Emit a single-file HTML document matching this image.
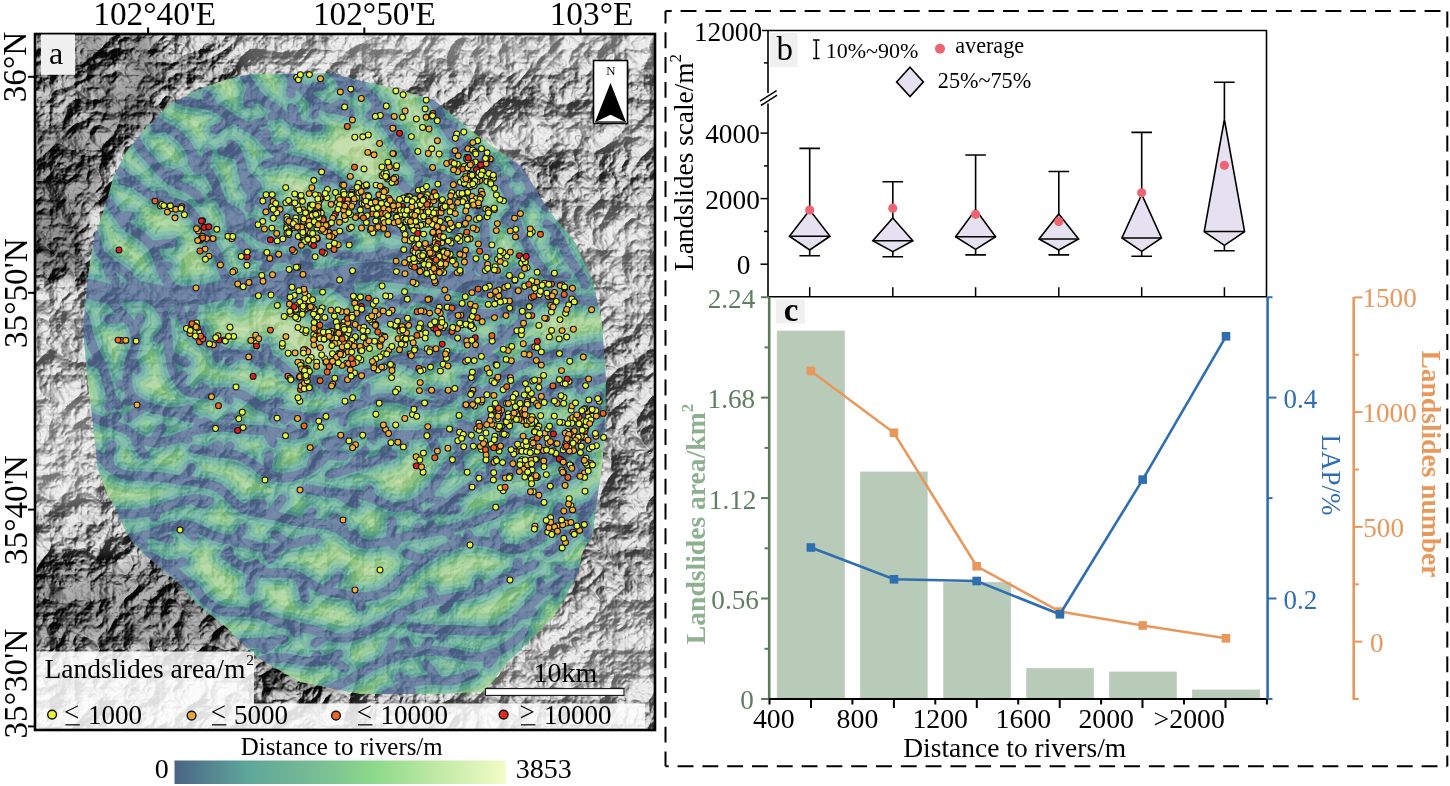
<!DOCTYPE html>
<html><head><meta charset="utf-8"><style>
html,body{margin:0;padding:0;background:#fff;width:1450px;height:786px;overflow:hidden;}
svg{display:block;}
text{font-family:"Liberation Serif", "Times New Roman", serif;}
</style></head><body>
<svg width="1450" height="786" viewBox="0 0 1450 786">
<rect width="1450" height="786" fill="#fff"/>
<defs>
<clipPath id="mclip"><rect x="35" y="34" width="620" height="696"/></clipPath>
<clipPath id="pclip"><polygon points="107,200 113,178 126,152 143,131 170,104 200,89 225,80 250,74 334.5,73 345,77 389,87 434,100 478,136 522,167 549,211 575,242 593,282 602,322 606,380 605,433 601.6,469.6 596.8,502 592.7,534.8 582.6,551 578.5,571.4 566.3,596 554,616 537.8,632.5 521.5,649 505,665 493,681.4 482,692 440,694 360,694 300,682 255.7,656.7 244,645 226.4,627.4 211.8,615.7 197,604 182.5,586.4 165,571.8 147.4,557 132.7,542.5 124,528 115,507 107.8,495.6 97.6,469 94.6,440 92,417 86.6,372.7 83,328 87.5,279 94,239"/></clipPath>
<filter id="hs" x="0" y="0" width="100%" height="100%" color-interpolation-filters="sRGB"><feTurbulence type="turbulence" baseFrequency="0.02" numOctaves="5" seed="8" result="n"/><feColorMatrix in="n" type="matrix" values="0 0 0 0 0  0 0 0 0 0  0 0 0 0 0  -1 0 0 0 1" result="a"/><feDiffuseLighting in="a" surfaceScale="16" diffuseConstant="1" lighting-color="#fff" result="l"><feDistantLight azimuth="225" elevation="45"/></feDiffuseLighting><feComponentTransfer in="l"><feFuncR type="linear" slope="0.88" intercept="0.03"/><feFuncG type="linear" slope="0.88" intercept="0.03"/><feFuncB type="linear" slope="0.88" intercept="0.03"/></feComponentTransfer></filter>
<filter id="bl" x="-10%" y="-10%" width="120%" height="120%"><feGaussianBlur stdDeviation="10"/></filter>
</defs>
<g clip-path="url(#mclip)">
<g filter="url(#bl)">
<rect x="0" y="0" width="700" height="786" fill="rgb(150,150,150)"/>
<rect x="0" y="0" width="75" height="80" fill="rgb(120,120,120)"/>
<rect x="75" y="0" width="35" height="80" fill="rgb(90,90,90)"/>
<rect x="110" y="0" width="15" height="80" fill="rgb(130,130,130)"/>
<rect x="125" y="0" width="35" height="110" fill="rgb(85,85,85)"/>
<rect x="160" y="0" width="75" height="50" fill="rgb(150,150,150)"/>
<rect x="160" y="50" width="75" height="40" fill="rgb(115,115,115)"/>
<rect x="235" y="0" width="110" height="75" fill="rgb(172,172,172)"/>
<rect x="345" y="0" width="195" height="70" fill="rgb(185,185,185)"/>
<rect x="430" y="70" width="170" height="50" fill="rgb(150,150,150)"/>
<rect x="540" y="0" width="160" height="70" fill="rgb(180,180,180)"/>
<rect x="480" y="120" width="220" height="40" fill="rgb(175,175,175)"/>
<rect x="520" y="150" width="180" height="50" fill="rgb(140,140,140)"/>
<rect x="0" y="80" width="100" height="50" fill="rgb(115,115,115)"/>
<rect x="100" y="80" width="60" height="60" fill="rgb(90,90,90)"/>
<rect x="0" y="130" width="110" height="75" fill="rgb(95,95,95)"/>
<rect x="0" y="200" width="90" height="85" fill="rgb(85,85,85)"/>
<rect x="0" y="285" width="90" height="110" fill="rgb(165,165,165)"/>
<rect x="0" y="395" width="95" height="110" fill="rgb(185,185,185)"/>
<rect x="0" y="505" width="130" height="55" fill="rgb(150,150,150)"/>
<rect x="0" y="560" width="260" height="95" fill="rgb(100,100,100)"/>
<rect x="130" y="520" width="60" height="40" fill="rgb(120,120,120)"/>
<rect x="255" y="650" width="100" height="50" fill="rgb(100,100,100)"/>
<rect x="560" y="200" width="140" height="130" fill="rgb(170,170,170)"/>
<rect x="600" y="330" width="100" height="170" fill="rgb(150,150,150)"/>
<rect x="590" y="500" width="110" height="100" fill="rgb(155,155,155)"/>
<rect x="460" y="600" width="240" height="100" fill="rgb(175,175,175)"/>
</g>
<rect x="35" y="34" width="620" height="696" filter="url(#hs)" style="mix-blend-mode:overlay"/>
<g clip-path="url(#pclip)">
<rect x="60" y="60" width="580" height="660" fill="#bcd8a0"/>
<g fill="none" stroke-linecap="round" stroke-linejoin="round">
<path d="M85,288 110,294 140,291 170,297 200,295 230,289 260,286 290,279 320,279 350,274 380,271 410,275 440,279 470,284 500,292 530,299" stroke="#a8d29a" stroke-width="62"/>
<path d="M106,200 110,204 114,209 117,214 121,219 124,224 129,228 134,231 139,234 144,238 148,242 152,246 155,252 157,257 159,263 161,269 163,274 166,279 169,284 172,290 175,295 177,301 179,306 181,312 183,318 185,323 189,328 193,332 197,336 202,340 207,343 212,346 218,349 223,351 229,353 235,354 241,355 247,355 253,355 259,356 265,356 270,358 275,361 280,365 285,369 289,373 295,376 300,378 306,379 312,380 318,380 324,380 330,380 336,380 342,379 348,378 354,377 360,376 365,374 371,372 376,369 382,367 387,364 393,361 398,359 404,357 409,355 415,354 421,353 427,353 433,353 439,355 445,356 451,357 457,358 463,358 469,357 474,356 480,353 485,350 490,347 495,344 500,341 505,337 509,333 514,329 518,325 522,320 525,315 528,310 531,305 535,300 541,298 547,299 553,299 558,299 564,299 570,300 576,300 582,300 588,301 594,301 598,301M117,169 122,173 126,177 131,180 136,184 140,188 145,191 150,195 156,197 161,199 167,201 173,202 179,204 184,206 189,210 193,214 196,219 200,224 203,229 206,235 209,240 212,245 215,250 218,255 220,261 221,267 223,272 226,278 231,282 236,284 242,285 248,286 254,286 260,287 266,288 272,290 277,292 282,295 288,298 293,301 298,304 304,306 309,309 314,312 319,316 324,319 328,323 334,326 339,327 345,328 351,327 357,326 363,325 369,323 375,321 380,320 386,319 392,318 398,318 404,319 410,321 416,323 421,324 427,326 433,328 439,329 444,331 450,333 455,336 461,338 466,341M95,235 96,241 98,247 100,253 104,257 108,261 113,265 119,268 123,271 128,275 132,280 136,284 140,289 144,293 149,297 153,301 158,305 161,310 164,315 166,321 167,327 167,333 168,339 168,345 169,351 170,357 171,362 172,368 174,374 177,379 180,384 184,389 189,392 195,393 201,394 207,394 213,393 219,392 225,392 231,392 237,393 243,395 248,398 253,401 258,405 263,407 269,410 275,411 280,413 286,414 292,415 298,416 304,417 310,418 316,418 322,417 328,416 334,414 339,412 345,410 350,407 356,405 362,403 367,401 373,400 379,398 385,398 391,398 397,398 403,400 408,402 414,404 420,405 426,405 432,405 438,403 443,401 449,399 454,395 459,392 463,388 467,384 471,379 475,375 478,372M466,406 471,403 476,400 481,396 486,392 490,388 494,384 499,380 503,376 508,373 513,369 518,366 524,364 529,361 535,360 541,358 547,357 553,355 558,354 564,353 570,352 576,350 582,349 588,348 594,347 600,346 604,346M389,302 394,301 400,299 406,298 412,298 418,298 424,299 430,301 435,303 441,305 447,306 453,308 458,309 464,310 470,311 476,313 482,314 488,314 494,314 500,313 505,311 511,309M432,99 435,104 438,109 440,115 442,120 445,126 448,131 451,136 456,140 461,143 466,146 471,149 476,153 480,157 484,162 487,167 491,172 494,176 498,181 503,185 506,190 510,195 512,200 514,206 515,212 516,218 517,224 519,230 521,235 524,240 527,245 530,250 533,256 536,261 540,266 543,271 547,275 552,279 557,282 558,283M136,139 138,144 141,149 145,154 149,158 153,163 157,167 161,172 165,176 170,180 175,183 181,186 186,188 191,191 196,194 200,199M154,118 159,123 164,126 169,129 174,132 179,136 183,140 187,145 190,150 194,155 197,159 201,164 205,168 209,173 212,178 215,184 217,189 219,195 221,200 224,206 227,210 231,215 236,219 241,222 246,226 250,230 255,233 260,237 265,239 271,241 277,242 283,241 289,241 295,240 301,240 307,240 313,242 318,244 324,247 329,250 334,253 340,255 346,256 352,257 358,257 364,257 370,257 375,256 381,256 387,255 393,254 399,253 405,252 411,250 417,249 423,247 428,246 434,245 440,245 446,245 452,246 458,248 463,252 467,256 471,261 475,265 480,269 484,272 490,275 495,278 500,281 505,285 510,288 515,292 518,294M239,241 243,246 247,250 252,254 258,256 264,257 269,258 275,258 281,258 287,258 293,260 299,262 304,266 309,269 313,273 318,276 323,279 329,282 334,285 339,288 344,292 349,295 354,298 359,301 365,302 371,302M86,284 91,287 96,290 101,293 106,297 111,301 115,306 119,310 123,314 127,319 131,323 134,329 135,334 136,340 135,346 133,352 131,358 129,363 128,369 127,375 127,381 128,387 130,393 133,398 138,401 143,404 148,406 154,409 160,410 166,412 172,412 178,412 184,411 189,409M91,417 96,419 102,421 108,423 114,424 119,427 125,429 130,432 135,436 140,439 145,441 151,442 157,443 163,442 169,441 175,439 180,437 186,435 191,432 197,430 203,429 209,428 215,427 221,427 227,427 233,428 239,429 245,429 251,430 257,430 263,430 269,431 275,432 280,433 286,434 292,435 298,434 304,433M194,449 200,450 206,451 211,452 217,453 223,453 229,454 235,455 241,457 246,460 251,463 256,466 261,470 266,473 271,476 277,477 283,478 289,477 295,476 301,474 306,472 311,469 316,465 321,461 325,457 329,453 333,448 338,444 342,440 347,437 352,434 358,432 364,431 370,431 376,432 382,433 388,434 394,435 400,435 406,435 411,435 417,435 423,434 429,434 435,433 441,433 447,433 453,432 459,431 465,429 471,427 476,425 482,422 487,419 491,415 496,411 500,407 504,403 508,398 512,394 516,389 520,385 525,381 526,380M516,414 521,410 525,406 530,402 534,398 539,395 544,392 550,389 555,387 561,385 567,384 573,383 579,383 585,382 591,382 597,380 602,378 606,377M332,72 337,76 342,80 347,83 352,85 358,88 363,90 368,93 373,98 376,103 378,108 381,114 383,119 386,124 389,129 393,134 396,139 400,144 404,148 407,153 410,158 414,163 418,167 423,171 429,173 434,175 440,177 445,179 451,182 456,185 460,190 464,194 468,199 472,203 476,208 479,213 482,218 484,224 485,230 485,236 485,242 486,248 487,253 488,255M514,161 517,166 521,171 524,176 527,181 530,186 533,191 536,196 540,201 544,205 547,208M547,224 552,228 556,233 559,238 562,243 564,249 567,254 569,259 573,264 576,269 580,274 583,279 585,285M178,99 183,101 189,102 195,103 201,104 207,105 213,107 218,109 223,112 228,116 233,119 239,122 244,125 249,128 254,131 259,134 263,139 267,143 271,148 276,152 280,155 286,158 292,160 297,161 303,162 309,164 315,166 320,169 325,172 330,175 335,179 340,182 345,185 349,189 353,194 356,199 359,204 361,210 364,215 368,220 372,224 378,227 383,228 389,229 395,230 401,232 407,233 411,234M231,144 235,148 238,154 240,159 242,165 243,171 244,177 245,183 247,188 251,193 255,198 259,201 264,205 269,208 274,211 280,214 285,217 291,218 297,220 303,220 309,221 315,221 320,223 326,225 331,228 336,232 341,235 346,239 351,241M83,315 85,320 87,326 88,332 90,338 91,343 94,349 96,354 99,360 102,365 104,371 106,376 107,382 109,388 110,394 113,399 117,404 119,405M96,454 101,458 105,462 109,466 114,470 119,473 125,475 131,476 137,476 143,476 149,477 155,477 161,477 167,478 173,479 179,480 185,481 191,481 197,482 202,483 208,484 214,486 219,488 224,492 228,496 233,501 237,505 242,508 248,510 253,512 259,513 265,514 271,515 277,516 283,518 289,519 294,521 300,522 306,522 312,523 318,524 324,524 330,526 336,528 341,531 346,534 351,538 356,541 361,543 367,544 373,544 379,543 385,542 391,540 397,539 403,537 408,536 414,535 420,534 426,533 432,532 438,531 444,530 450,529 456,527 461,526 467,524 473,522 479,520 484,518 490,516 495,514 501,511 506,509 512,506 517,503 522,501 528,498 533,495 538,492 543,489 549,487 554,484 560,481 565,479 570,476 576,473 581,470M307,489 313,490 319,491 325,492 331,493 337,493 343,494 349,494 355,494 361,495 367,496 372,498 378,501 383,503 389,506 395,507 401,507 406,506 412,504 417,502 422,498 427,494 431,490 434,485 438,480 441,475 445,470 448,465 452,461 457,457 461,453 466,449 471,445 474,443M330,474 336,473 342,471 348,469 353,467 359,466 365,464 370,462 376,460 382,458 388,457 393,455M489,447 495,445 501,443 507,443 513,442 519,443 525,443 531,444 537,444 543,443 548,442 554,440 560,438 565,435 570,431 574,427 578,423 582,418 586,414 589,409 593,404 597,399 599,396M287,72 291,77 295,81 299,86 303,90 307,94 312,99 316,102 321,106 327,108 333,109 339,110 344,111 350,113M400,181 403,186 408,190 413,194 418,197 423,200 427,204 431,209 435,213 439,218 444,222 448,226 453,229 455,230M244,75 247,80 251,85 254,90 258,95 262,99 266,103 271,106 276,109 281,113 286,116 291,120 296,123 302,125 308,127 314,127 318,127M118,514 124,514 130,514 136,514 142,513 148,512 153,511 159,509 165,507 170,505 176,503 182,501 188,500 193,499 199,499 205,500 209,501M128,538 134,538 140,537 146,535 152,533 157,531 163,529 169,527 174,526 180,525 186,525 192,526 198,528 203,531 209,534 214,536 220,538 226,539 232,540 237,542 243,543 249,544 255,546 261,547 267,548 273,548 279,547 285,546 290,544 296,543 302,541 308,540 314,539 316,539M225,555 230,558 235,562 240,565 245,568 250,571 256,572 262,573 268,573 274,573 280,573 286,573 292,574 298,576 303,579 308,582 313,585 318,588 324,590 330,592 336,593 342,594 347,595 353,596 359,597 365,597 371,596 377,595 383,593 388,590 393,586 397,582 402,578 406,574 411,570 415,566 420,563 425,559 430,556 435,553 440,550 446,548 451,546 457,544 463,542 469,541 475,541 481,541 487,542 493,544 498,546 504,548 510,549 516,549 522,548 527,546 533,543 538,540 542,536 546,531 550,526 553,521 556,516 558,510 560,507M548,552 553,549 558,546 563,542 567,538 571,534 575,530 579,525 582,520 585,515 589,510 592,505 595,500 599,495M425,515 430,513 435,510 441,507 446,504 451,501 456,497 460,494 465,490 470,487 476,484 481,481 487,479 492,477 498,475 504,474 510,472 515,470 521,469 527,467 532,465 538,463 544,461 549,459 555,457 561,455 566,453 572,450 577,447 582,445 587,441 592,438 597,434 601,429 605,425 606,423M146,556 151,557 157,560 162,563 167,566 172,570 177,573 181,577 186,581 191,584 195,588 199,593 203,598 207,602 212,606 217,609 222,611 228,612 234,612 240,612 246,612 252,613 258,614 264,616 269,618 275,621 281,623 286,624 292,625 298,627 304,628 310,629 316,631 321,633 327,635 333,637 339,638 345,638 350,637 356,635 362,633 367,631 373,628 378,625 384,623 389,620 394,617 399,614 405,612 410,609 416,606 421,604 427,602 433,601 439,600 445,599 451,598 456,597 462,596 468,595 474,593 479,591 485,589 490,586 496,583 501,580 506,578 512,575 517,572 523,570 528,567 533,565 535,564M412,627 418,628 424,629 430,629 436,630 442,630 448,630 454,630 460,630 466,631 472,631 478,631 484,631 490,631 496,630 502,628 507,625 512,622 517,618 521,614 525,610 530,605 534,601 538,597 543,593 547,589 552,586 557,583 563,580 568,577 573,574 579,572M242,643 248,643 254,643 260,642 266,642 272,641 278,640 284,639M261,661 267,659 273,658 279,658 285,658 291,659 297,660 303,661 309,662 315,662 321,661 326,660 332,658 338,655 339,654M329,689 334,687 340,684 345,682 351,679 356,676 361,673 366,670 371,667 377,664 382,662 388,659 393,658 399,656 405,654 411,653 417,652 423,651 429,651 435,651 441,651 447,652 453,653 458,654 464,656 470,657 476,657 482,657 488,655 493,653 499,651 504,648 509,645 514,641 519,637 523,633 524,632M386,694 392,692 397,689 402,686 408,684 414,682 420,681 425,680 431,680 437,680 443,681 449,681 455,680 461,678 467,676 472,674 474,673M117,214 123,216 129,216 131,216M151,245 157,245 163,244 169,244 173,243M159,263 164,265 168,266M171,286 176,289 181,291 187,294 189,295M180,308 175,313 174,314M190,330 191,324 192,318 193,312 194,308M202,340 202,334 201,330M216,348 217,354 218,358M237,355 232,359 229,361M251,355 255,359 260,363 261,364M268,358 267,352 266,348M306,379 308,385 310,390M318,380 322,385 326,389M334,380 339,384 344,387 347,389M358,376 355,382 354,384M398,359 404,361 409,363 415,366 416,367M441,355 436,358 431,361 427,363M470,357 474,352 476,346 477,345M482,352 487,355 492,358 496,360M502,339 502,333 502,329M528,310 523,312 521,313M556,299 552,295 549,293M574,300 571,295 567,290M134,183 128,182 122,180M154,196 160,195 164,195M246,286 243,291 240,296 239,302 239,304M275,291 281,290 285,289M341,328 346,332 350,336M355,327 358,321 361,316 364,314M386,319 382,314 380,311M431,327 428,322 426,317 424,311M107,260 107,266 109,272 113,277 115,280M156,303 162,305 166,306M167,329 163,333 159,338 158,339M169,353 173,357 179,360 184,362 186,363M180,384 182,379 183,375M209,393 205,389 202,387M223,392 227,397 229,400M261,407 267,405 273,403 279,402M271,410 273,416 274,420M290,415 285,419 284,420M347,409 344,414 343,420 343,422M363,403 365,397 366,391 366,387M450,398 445,395 439,393 433,393 429,392M462,389 467,391 469,392M473,378 467,379 465,379M478,398 477,392 477,390M529,361 531,356 533,350 533,348M590,348 595,351 600,354 602,355M396,300 393,305 392,307M410,298 406,302 405,304M437,303 442,299 445,295M449,307 451,313 452,318M472,312 467,316 464,318M443,122 449,125 454,127M466,146 461,149 456,152 454,153M480,157 486,159 490,160M488,169 482,169 476,171 471,173M497,179 496,173 496,170M504,187 505,181 506,179M511,197 516,199 522,201 525,203M515,210 511,214 507,219 505,220M518,228 513,225 511,223M530,250 529,256 527,260M552,279 558,278 564,277 567,276M161,172 167,172 173,174 179,175M165,127 159,128 155,128M191,151 192,157 193,163 196,168 199,171M205,168 206,162 207,156 208,152M219,197 214,195 212,195M224,206 229,208 234,211 239,215 241,218M230,213 230,219 231,225 231,229M239,221 239,227 239,229M257,235 256,229 253,223 252,222M303,240 299,245 297,248M391,255 386,252 382,251M401,253 406,256 412,259M421,248 415,245 414,244M470,259 470,265 470,271 470,277 470,279M488,274 485,269 483,265M502,283 507,280 512,276 516,272 518,271M246,249 246,255 247,259M273,258 270,262 266,267 264,268M289,259 294,255 296,254M309,269 308,263 307,257 307,253M317,275 322,274 326,272M325,280 331,279 333,278M351,296 350,290 349,284 348,278M126,317 120,318 114,319 108,319M134,330 138,325 140,320 140,318M131,358 134,363 136,369 137,370M128,389 123,386 120,384M134,399 129,401 127,401M147,406 141,409 136,412 132,415 128,418M176,412 181,415 186,417 192,418 194,418M104,422 110,419 115,417 117,416M135,436 136,442 139,447 142,452 145,455M151,442 155,438 158,433 162,428M180,437 186,439 188,439M197,430 199,425 199,423M211,428 207,423 205,422M223,427 226,422 230,417 231,416M267,431 269,436 272,441 273,443M296,434 293,430 291,428M208,451 213,448 218,445M223,453 227,449 230,446M268,474 267,468 268,462 269,457 269,455M311,469 312,463 314,457 317,452 318,450M328,454 333,455 339,456 345,456M342,440 336,440 330,441 326,443M368,431 371,436 373,439M398,435 401,440 405,444M427,434 431,439 434,444 435,448M459,431 465,433 467,434M469,428 464,425 462,424M500,407 501,413 501,417M515,391 516,397 517,399M522,409 523,403 523,401M536,397 542,397 548,397 554,398 556,398M587,382 583,387 581,390M340,78 342,84 346,89 350,93M361,89 361,83 360,81M377,104 375,110 371,115 370,116M381,114 383,108 383,106M387,126 387,120 387,118M393,134 392,128 392,126M400,144 400,138 400,136M420,169 419,175 418,181 418,183M440,177 442,183 443,189M456,185 462,186 468,186 470,186M467,197 461,197 459,197M521,171 518,176 517,178M535,195 529,194 527,194M556,233 555,238 554,242M213,107 211,101 207,96 206,95M233,119 228,121 223,124 218,128 215,130M247,127 253,125 259,123 263,122M266,141 266,135 266,133M274,150 280,149 285,146M288,159 282,161 276,162 270,163 266,164M325,172 325,178 326,182M360,208 363,203 365,197M366,219 367,213 366,211M239,155 233,154 228,152 222,151M243,173 248,177 252,181 256,185 257,187M252,195 251,201 250,207 249,208M271,209 271,203 271,197M102,365 96,363 92,362M112,397 111,403 109,407M109,466 109,460 109,454 111,448 112,445M181,480 185,476 189,471 191,468M244,509 249,506 255,504 261,504 263,504M269,515 273,510 277,506 281,501 282,499M302,522 307,518 311,514 312,512M344,533 343,527 340,522 335,518 333,518M358,541 355,536 354,534M389,541 391,535 392,529 392,523 392,521M399,538 395,543 394,545M416,534 418,529 419,527M428,532 431,527 432,525M444,530 449,533 450,535M510,507 512,501 514,498M528,498 533,500 539,502 541,503M576,473 578,468 580,462 584,457M339,494 344,497 349,501 354,503 356,504M372,498 370,493 369,489M410,505 416,508 418,509M429,491 430,497 431,499M458,455 459,461 460,467M467,448 461,448 457,447M351,468 354,463 358,458 362,454 365,451M380,459 383,454 387,449M497,444 501,440 504,435 506,431M537,444 541,440 545,436 549,431 551,430M583,417 589,416 595,415 597,415M589,409 595,409 597,408M292,78 292,84 291,90 291,94M303,90 309,89 315,87 321,86M315,101 314,107 314,113 314,115M331,109 336,106 342,104 344,104M426,203 425,197 425,193M450,227 455,225 461,223 466,220 468,219M252,86 250,92 248,98 248,104M262,99 256,99 254,99M281,113 276,115 272,116M300,125 297,119 295,114 292,108M159,509 156,514 154,517M191,499 197,502 202,503 204,504M134,538 139,541 144,545M152,533 157,536 163,537 169,539M178,525 183,528 188,532 193,536 194,537M234,541 238,536 241,532 243,528M265,548 267,553 270,559M279,547 276,552 275,554M290,544 285,541 280,538 275,535M230,558 229,552 228,550M245,568 250,566 256,564M256,572 252,577 250,583 250,589 250,591M266,573 262,569 260,568M299,577 301,583 303,588 304,594 305,598M324,590 329,586 333,582 337,578 339,576M355,596 358,602 361,607M425,559 419,558 413,556 408,554 406,553M453,545 457,540 458,539M473,541 469,536 468,534M502,547 499,542 496,537 494,533M552,523 557,520 562,517 567,514M571,534 565,534 559,534M583,518 585,524 587,530 588,534M592,505 586,507 581,509 579,510M437,509 443,510 449,510 455,509 457,509M446,504 440,501 438,501M476,484 478,479 480,475M488,478 490,473 491,467 491,461M506,473 507,467 509,462 511,456 512,454M525,468 519,466 517,465M536,464 538,458 540,455M557,456 562,460 567,464M572,450 575,445 578,440 579,438M166,565 172,564 177,564 183,562M180,576 180,582 181,584M248,613 253,609 258,606M290,625 294,630 296,633M327,635 322,639 317,642 315,643M391,619 396,620 402,620M437,600 433,596 430,590M451,598 448,604 444,609M476,592 478,587 479,583M515,573 517,567 518,562M446,630 443,635 441,638M520,615 526,614 531,613 533,612M541,594 541,588 540,582M559,582 557,587 555,593M570,576 565,573 559,570 558,569M260,642 263,647 264,649M276,640 271,645 270,646M313,662 316,657 317,655M330,658 335,662 340,665 345,668M384,661 387,656 389,650 392,645 393,641M413,653 409,648 406,643 405,641M423,651 426,646 429,641M495,653 493,658 489,663 488,664M397,689 403,690 409,691 411,691M412,683 406,680 401,678 399,677M437,680 434,675 431,670 427,666 426,664" stroke="#a8d29a" stroke-width="48"/>
<path d="M85,288 110,294 140,291 170,297 200,295 230,289 260,286 290,279 320,279 350,274 380,271 410,275 440,279 470,284 500,292 530,299" stroke="#8cc692" stroke-width="50"/>
<path d="M106,200 110,204 114,209 117,214 121,219 124,224 129,228 134,231 139,234 144,238 148,242 152,246 155,252 157,257 159,263 161,269 163,274 166,279 169,284 172,290 175,295 177,301 179,306 181,312 183,318 185,323 189,328 193,332 197,336 202,340 207,343 212,346 218,349 223,351 229,353 235,354 241,355 247,355 253,355 259,356 265,356 270,358 275,361 280,365 285,369 289,373 295,376 300,378 306,379 312,380 318,380 324,380 330,380 336,380 342,379 348,378 354,377 360,376 365,374 371,372 376,369 382,367 387,364 393,361 398,359 404,357 409,355 415,354 421,353 427,353 433,353 439,355 445,356 451,357 457,358 463,358 469,357 474,356 480,353 485,350 490,347 495,344 500,341 505,337 509,333 514,329 518,325 522,320 525,315 528,310 531,305 535,300 541,298 547,299 553,299 558,299 564,299 570,300 576,300 582,300 588,301 594,301 598,301M117,169 122,173 126,177 131,180 136,184 140,188 145,191 150,195 156,197 161,199 167,201 173,202 179,204 184,206 189,210 193,214 196,219 200,224 203,229 206,235 209,240 212,245 215,250 218,255 220,261 221,267 223,272 226,278 231,282 236,284 242,285 248,286 254,286 260,287 266,288 272,290 277,292 282,295 288,298 293,301 298,304 304,306 309,309 314,312 319,316 324,319 328,323 334,326 339,327 345,328 351,327 357,326 363,325 369,323 375,321 380,320 386,319 392,318 398,318 404,319 410,321 416,323 421,324 427,326 433,328 439,329 444,331 450,333 455,336 461,338 466,341M95,235 96,241 98,247 100,253 104,257 108,261 113,265 119,268 123,271 128,275 132,280 136,284 140,289 144,293 149,297 153,301 158,305 161,310 164,315 166,321 167,327 167,333 168,339 168,345 169,351 170,357 171,362 172,368 174,374 177,379 180,384 184,389 189,392 195,393 201,394 207,394 213,393 219,392 225,392 231,392 237,393 243,395 248,398 253,401 258,405 263,407 269,410 275,411 280,413 286,414 292,415 298,416 304,417 310,418 316,418 322,417 328,416 334,414 339,412 345,410 350,407 356,405 362,403 367,401 373,400 379,398 385,398 391,398 397,398 403,400 408,402 414,404 420,405 426,405 432,405 438,403 443,401 449,399 454,395 459,392 463,388 467,384 471,379 475,375 478,372M466,406 471,403 476,400 481,396 486,392 490,388 494,384 499,380 503,376 508,373 513,369 518,366 524,364 529,361 535,360 541,358 547,357 553,355 558,354 564,353 570,352 576,350 582,349 588,348 594,347 600,346 604,346M389,302 394,301 400,299 406,298 412,298 418,298 424,299 430,301 435,303 441,305 447,306 453,308 458,309 464,310 470,311 476,313 482,314 488,314 494,314 500,313 505,311 511,309M432,99 435,104 438,109 440,115 442,120 445,126 448,131 451,136 456,140 461,143 466,146 471,149 476,153 480,157 484,162 487,167 491,172 494,176 498,181 503,185 506,190 510,195 512,200 514,206 515,212 516,218 517,224 519,230 521,235 524,240 527,245 530,250 533,256 536,261 540,266 543,271 547,275 552,279 557,282 558,283M136,139 138,144 141,149 145,154 149,158 153,163 157,167 161,172 165,176 170,180 175,183 181,186 186,188 191,191 196,194 200,199M154,118 159,123 164,126 169,129 174,132 179,136 183,140 187,145 190,150 194,155 197,159 201,164 205,168 209,173 212,178 215,184 217,189 219,195 221,200 224,206 227,210 231,215 236,219 241,222 246,226 250,230 255,233 260,237 265,239 271,241 277,242 283,241 289,241 295,240 301,240 307,240 313,242 318,244 324,247 329,250 334,253 340,255 346,256 352,257 358,257 364,257 370,257 375,256 381,256 387,255 393,254 399,253 405,252 411,250 417,249 423,247 428,246 434,245 440,245 446,245 452,246 458,248 463,252 467,256 471,261 475,265 480,269 484,272 490,275 495,278 500,281 505,285 510,288 515,292 518,294M239,241 243,246 247,250 252,254 258,256 264,257 269,258 275,258 281,258 287,258 293,260 299,262 304,266 309,269 313,273 318,276 323,279 329,282 334,285 339,288 344,292 349,295 354,298 359,301 365,302 371,302M86,284 91,287 96,290 101,293 106,297 111,301 115,306 119,310 123,314 127,319 131,323 134,329 135,334 136,340 135,346 133,352 131,358 129,363 128,369 127,375 127,381 128,387 130,393 133,398 138,401 143,404 148,406 154,409 160,410 166,412 172,412 178,412 184,411 189,409M91,417 96,419 102,421 108,423 114,424 119,427 125,429 130,432 135,436 140,439 145,441 151,442 157,443 163,442 169,441 175,439 180,437 186,435 191,432 197,430 203,429 209,428 215,427 221,427 227,427 233,428 239,429 245,429 251,430 257,430 263,430 269,431 275,432 280,433 286,434 292,435 298,434 304,433M194,449 200,450 206,451 211,452 217,453 223,453 229,454 235,455 241,457 246,460 251,463 256,466 261,470 266,473 271,476 277,477 283,478 289,477 295,476 301,474 306,472 311,469 316,465 321,461 325,457 329,453 333,448 338,444 342,440 347,437 352,434 358,432 364,431 370,431 376,432 382,433 388,434 394,435 400,435 406,435 411,435 417,435 423,434 429,434 435,433 441,433 447,433 453,432 459,431 465,429 471,427 476,425 482,422 487,419 491,415 496,411 500,407 504,403 508,398 512,394 516,389 520,385 525,381 526,380M516,414 521,410 525,406 530,402 534,398 539,395 544,392 550,389 555,387 561,385 567,384 573,383 579,383 585,382 591,382 597,380 602,378 606,377M332,72 337,76 342,80 347,83 352,85 358,88 363,90 368,93 373,98 376,103 378,108 381,114 383,119 386,124 389,129 393,134 396,139 400,144 404,148 407,153 410,158 414,163 418,167 423,171 429,173 434,175 440,177 445,179 451,182 456,185 460,190 464,194 468,199 472,203 476,208 479,213 482,218 484,224 485,230 485,236 485,242 486,248 487,253 488,255M514,161 517,166 521,171 524,176 527,181 530,186 533,191 536,196 540,201 544,205 547,208M547,224 552,228 556,233 559,238 562,243 564,249 567,254 569,259 573,264 576,269 580,274 583,279 585,285M178,99 183,101 189,102 195,103 201,104 207,105 213,107 218,109 223,112 228,116 233,119 239,122 244,125 249,128 254,131 259,134 263,139 267,143 271,148 276,152 280,155 286,158 292,160 297,161 303,162 309,164 315,166 320,169 325,172 330,175 335,179 340,182 345,185 349,189 353,194 356,199 359,204 361,210 364,215 368,220 372,224 378,227 383,228 389,229 395,230 401,232 407,233 411,234M231,144 235,148 238,154 240,159 242,165 243,171 244,177 245,183 247,188 251,193 255,198 259,201 264,205 269,208 274,211 280,214 285,217 291,218 297,220 303,220 309,221 315,221 320,223 326,225 331,228 336,232 341,235 346,239 351,241M83,315 85,320 87,326 88,332 90,338 91,343 94,349 96,354 99,360 102,365 104,371 106,376 107,382 109,388 110,394 113,399 117,404 119,405M96,454 101,458 105,462 109,466 114,470 119,473 125,475 131,476 137,476 143,476 149,477 155,477 161,477 167,478 173,479 179,480 185,481 191,481 197,482 202,483 208,484 214,486 219,488 224,492 228,496 233,501 237,505 242,508 248,510 253,512 259,513 265,514 271,515 277,516 283,518 289,519 294,521 300,522 306,522 312,523 318,524 324,524 330,526 336,528 341,531 346,534 351,538 356,541 361,543 367,544 373,544 379,543 385,542 391,540 397,539 403,537 408,536 414,535 420,534 426,533 432,532 438,531 444,530 450,529 456,527 461,526 467,524 473,522 479,520 484,518 490,516 495,514 501,511 506,509 512,506 517,503 522,501 528,498 533,495 538,492 543,489 549,487 554,484 560,481 565,479 570,476 576,473 581,470M307,489 313,490 319,491 325,492 331,493 337,493 343,494 349,494 355,494 361,495 367,496 372,498 378,501 383,503 389,506 395,507 401,507 406,506 412,504 417,502 422,498 427,494 431,490 434,485 438,480 441,475 445,470 448,465 452,461 457,457 461,453 466,449 471,445 474,443M330,474 336,473 342,471 348,469 353,467 359,466 365,464 370,462 376,460 382,458 388,457 393,455M489,447 495,445 501,443 507,443 513,442 519,443 525,443 531,444 537,444 543,443 548,442 554,440 560,438 565,435 570,431 574,427 578,423 582,418 586,414 589,409 593,404 597,399 599,396M287,72 291,77 295,81 299,86 303,90 307,94 312,99 316,102 321,106 327,108 333,109 339,110 344,111 350,113M400,181 403,186 408,190 413,194 418,197 423,200 427,204 431,209 435,213 439,218 444,222 448,226 453,229 455,230M244,75 247,80 251,85 254,90 258,95 262,99 266,103 271,106 276,109 281,113 286,116 291,120 296,123 302,125 308,127 314,127 318,127M118,514 124,514 130,514 136,514 142,513 148,512 153,511 159,509 165,507 170,505 176,503 182,501 188,500 193,499 199,499 205,500 209,501M128,538 134,538 140,537 146,535 152,533 157,531 163,529 169,527 174,526 180,525 186,525 192,526 198,528 203,531 209,534 214,536 220,538 226,539 232,540 237,542 243,543 249,544 255,546 261,547 267,548 273,548 279,547 285,546 290,544 296,543 302,541 308,540 314,539 316,539M225,555 230,558 235,562 240,565 245,568 250,571 256,572 262,573 268,573 274,573 280,573 286,573 292,574 298,576 303,579 308,582 313,585 318,588 324,590 330,592 336,593 342,594 347,595 353,596 359,597 365,597 371,596 377,595 383,593 388,590 393,586 397,582 402,578 406,574 411,570 415,566 420,563 425,559 430,556 435,553 440,550 446,548 451,546 457,544 463,542 469,541 475,541 481,541 487,542 493,544 498,546 504,548 510,549 516,549 522,548 527,546 533,543 538,540 542,536 546,531 550,526 553,521 556,516 558,510 560,507M548,552 553,549 558,546 563,542 567,538 571,534 575,530 579,525 582,520 585,515 589,510 592,505 595,500 599,495M425,515 430,513 435,510 441,507 446,504 451,501 456,497 460,494 465,490 470,487 476,484 481,481 487,479 492,477 498,475 504,474 510,472 515,470 521,469 527,467 532,465 538,463 544,461 549,459 555,457 561,455 566,453 572,450 577,447 582,445 587,441 592,438 597,434 601,429 605,425 606,423M146,556 151,557 157,560 162,563 167,566 172,570 177,573 181,577 186,581 191,584 195,588 199,593 203,598 207,602 212,606 217,609 222,611 228,612 234,612 240,612 246,612 252,613 258,614 264,616 269,618 275,621 281,623 286,624 292,625 298,627 304,628 310,629 316,631 321,633 327,635 333,637 339,638 345,638 350,637 356,635 362,633 367,631 373,628 378,625 384,623 389,620 394,617 399,614 405,612 410,609 416,606 421,604 427,602 433,601 439,600 445,599 451,598 456,597 462,596 468,595 474,593 479,591 485,589 490,586 496,583 501,580 506,578 512,575 517,572 523,570 528,567 533,565 535,564M412,627 418,628 424,629 430,629 436,630 442,630 448,630 454,630 460,630 466,631 472,631 478,631 484,631 490,631 496,630 502,628 507,625 512,622 517,618 521,614 525,610 530,605 534,601 538,597 543,593 547,589 552,586 557,583 563,580 568,577 573,574 579,572M242,643 248,643 254,643 260,642 266,642 272,641 278,640 284,639M261,661 267,659 273,658 279,658 285,658 291,659 297,660 303,661 309,662 315,662 321,661 326,660 332,658 338,655 339,654M329,689 334,687 340,684 345,682 351,679 356,676 361,673 366,670 371,667 377,664 382,662 388,659 393,658 399,656 405,654 411,653 417,652 423,651 429,651 435,651 441,651 447,652 453,653 458,654 464,656 470,657 476,657 482,657 488,655 493,653 499,651 504,648 509,645 514,641 519,637 523,633 524,632M386,694 392,692 397,689 402,686 408,684 414,682 420,681 425,680 431,680 437,680 443,681 449,681 455,680 461,678 467,676 472,674 474,673M117,214 123,216 129,216 131,216M151,245 157,245 163,244 169,244 173,243M159,263 164,265 168,266M171,286 176,289 181,291 187,294 189,295M180,308 175,313 174,314M190,330 191,324 192,318 193,312 194,308M202,340 202,334 201,330M216,348 217,354 218,358M237,355 232,359 229,361M251,355 255,359 260,363 261,364M268,358 267,352 266,348M306,379 308,385 310,390M318,380 322,385 326,389M334,380 339,384 344,387 347,389M358,376 355,382 354,384M398,359 404,361 409,363 415,366 416,367M441,355 436,358 431,361 427,363M470,357 474,352 476,346 477,345M482,352 487,355 492,358 496,360M502,339 502,333 502,329M528,310 523,312 521,313M556,299 552,295 549,293M574,300 571,295 567,290M134,183 128,182 122,180M154,196 160,195 164,195M246,286 243,291 240,296 239,302 239,304M275,291 281,290 285,289M341,328 346,332 350,336M355,327 358,321 361,316 364,314M386,319 382,314 380,311M431,327 428,322 426,317 424,311M107,260 107,266 109,272 113,277 115,280M156,303 162,305 166,306M167,329 163,333 159,338 158,339M169,353 173,357 179,360 184,362 186,363M180,384 182,379 183,375M209,393 205,389 202,387M223,392 227,397 229,400M261,407 267,405 273,403 279,402M271,410 273,416 274,420M290,415 285,419 284,420M347,409 344,414 343,420 343,422M363,403 365,397 366,391 366,387M450,398 445,395 439,393 433,393 429,392M462,389 467,391 469,392M473,378 467,379 465,379M478,398 477,392 477,390M529,361 531,356 533,350 533,348M590,348 595,351 600,354 602,355M396,300 393,305 392,307M410,298 406,302 405,304M437,303 442,299 445,295M449,307 451,313 452,318M472,312 467,316 464,318M443,122 449,125 454,127M466,146 461,149 456,152 454,153M480,157 486,159 490,160M488,169 482,169 476,171 471,173M497,179 496,173 496,170M504,187 505,181 506,179M511,197 516,199 522,201 525,203M515,210 511,214 507,219 505,220M518,228 513,225 511,223M530,250 529,256 527,260M552,279 558,278 564,277 567,276M161,172 167,172 173,174 179,175M165,127 159,128 155,128M191,151 192,157 193,163 196,168 199,171M205,168 206,162 207,156 208,152M219,197 214,195 212,195M224,206 229,208 234,211 239,215 241,218M230,213 230,219 231,225 231,229M239,221 239,227 239,229M257,235 256,229 253,223 252,222M303,240 299,245 297,248M391,255 386,252 382,251M401,253 406,256 412,259M421,248 415,245 414,244M470,259 470,265 470,271 470,277 470,279M488,274 485,269 483,265M502,283 507,280 512,276 516,272 518,271M246,249 246,255 247,259M273,258 270,262 266,267 264,268M289,259 294,255 296,254M309,269 308,263 307,257 307,253M317,275 322,274 326,272M325,280 331,279 333,278M351,296 350,290 349,284 348,278M126,317 120,318 114,319 108,319M134,330 138,325 140,320 140,318M131,358 134,363 136,369 137,370M128,389 123,386 120,384M134,399 129,401 127,401M147,406 141,409 136,412 132,415 128,418M176,412 181,415 186,417 192,418 194,418M104,422 110,419 115,417 117,416M135,436 136,442 139,447 142,452 145,455M151,442 155,438 158,433 162,428M180,437 186,439 188,439M197,430 199,425 199,423M211,428 207,423 205,422M223,427 226,422 230,417 231,416M267,431 269,436 272,441 273,443M296,434 293,430 291,428M208,451 213,448 218,445M223,453 227,449 230,446M268,474 267,468 268,462 269,457 269,455M311,469 312,463 314,457 317,452 318,450M328,454 333,455 339,456 345,456M342,440 336,440 330,441 326,443M368,431 371,436 373,439M398,435 401,440 405,444M427,434 431,439 434,444 435,448M459,431 465,433 467,434M469,428 464,425 462,424M500,407 501,413 501,417M515,391 516,397 517,399M522,409 523,403 523,401M536,397 542,397 548,397 554,398 556,398M587,382 583,387 581,390M340,78 342,84 346,89 350,93M361,89 361,83 360,81M377,104 375,110 371,115 370,116M381,114 383,108 383,106M387,126 387,120 387,118M393,134 392,128 392,126M400,144 400,138 400,136M420,169 419,175 418,181 418,183M440,177 442,183 443,189M456,185 462,186 468,186 470,186M467,197 461,197 459,197M521,171 518,176 517,178M535,195 529,194 527,194M556,233 555,238 554,242M213,107 211,101 207,96 206,95M233,119 228,121 223,124 218,128 215,130M247,127 253,125 259,123 263,122M266,141 266,135 266,133M274,150 280,149 285,146M288,159 282,161 276,162 270,163 266,164M325,172 325,178 326,182M360,208 363,203 365,197M366,219 367,213 366,211M239,155 233,154 228,152 222,151M243,173 248,177 252,181 256,185 257,187M252,195 251,201 250,207 249,208M271,209 271,203 271,197M102,365 96,363 92,362M112,397 111,403 109,407M109,466 109,460 109,454 111,448 112,445M181,480 185,476 189,471 191,468M244,509 249,506 255,504 261,504 263,504M269,515 273,510 277,506 281,501 282,499M302,522 307,518 311,514 312,512M344,533 343,527 340,522 335,518 333,518M358,541 355,536 354,534M389,541 391,535 392,529 392,523 392,521M399,538 395,543 394,545M416,534 418,529 419,527M428,532 431,527 432,525M444,530 449,533 450,535M510,507 512,501 514,498M528,498 533,500 539,502 541,503M576,473 578,468 580,462 584,457M339,494 344,497 349,501 354,503 356,504M372,498 370,493 369,489M410,505 416,508 418,509M429,491 430,497 431,499M458,455 459,461 460,467M467,448 461,448 457,447M351,468 354,463 358,458 362,454 365,451M380,459 383,454 387,449M497,444 501,440 504,435 506,431M537,444 541,440 545,436 549,431 551,430M583,417 589,416 595,415 597,415M589,409 595,409 597,408M292,78 292,84 291,90 291,94M303,90 309,89 315,87 321,86M315,101 314,107 314,113 314,115M331,109 336,106 342,104 344,104M426,203 425,197 425,193M450,227 455,225 461,223 466,220 468,219M252,86 250,92 248,98 248,104M262,99 256,99 254,99M281,113 276,115 272,116M300,125 297,119 295,114 292,108M159,509 156,514 154,517M191,499 197,502 202,503 204,504M134,538 139,541 144,545M152,533 157,536 163,537 169,539M178,525 183,528 188,532 193,536 194,537M234,541 238,536 241,532 243,528M265,548 267,553 270,559M279,547 276,552 275,554M290,544 285,541 280,538 275,535M230,558 229,552 228,550M245,568 250,566 256,564M256,572 252,577 250,583 250,589 250,591M266,573 262,569 260,568M299,577 301,583 303,588 304,594 305,598M324,590 329,586 333,582 337,578 339,576M355,596 358,602 361,607M425,559 419,558 413,556 408,554 406,553M453,545 457,540 458,539M473,541 469,536 468,534M502,547 499,542 496,537 494,533M552,523 557,520 562,517 567,514M571,534 565,534 559,534M583,518 585,524 587,530 588,534M592,505 586,507 581,509 579,510M437,509 443,510 449,510 455,509 457,509M446,504 440,501 438,501M476,484 478,479 480,475M488,478 490,473 491,467 491,461M506,473 507,467 509,462 511,456 512,454M525,468 519,466 517,465M536,464 538,458 540,455M557,456 562,460 567,464M572,450 575,445 578,440 579,438M166,565 172,564 177,564 183,562M180,576 180,582 181,584M248,613 253,609 258,606M290,625 294,630 296,633M327,635 322,639 317,642 315,643M391,619 396,620 402,620M437,600 433,596 430,590M451,598 448,604 444,609M476,592 478,587 479,583M515,573 517,567 518,562M446,630 443,635 441,638M520,615 526,614 531,613 533,612M541,594 541,588 540,582M559,582 557,587 555,593M570,576 565,573 559,570 558,569M260,642 263,647 264,649M276,640 271,645 270,646M313,662 316,657 317,655M330,658 335,662 340,665 345,668M384,661 387,656 389,650 392,645 393,641M413,653 409,648 406,643 405,641M423,651 426,646 429,641M495,653 493,658 489,663 488,664M397,689 403,690 409,691 411,691M412,683 406,680 401,678 399,677M437,680 434,675 431,670 427,666 426,664" stroke="#8cc692" stroke-width="35"/>
<path d="M85,288 110,294 140,291 170,297 200,295 230,289 260,286 290,279 320,279 350,274 380,271 410,275 440,279 470,284 500,292 530,299" stroke="#76b6a0" stroke-width="40"/>
<path d="M106,200 110,204 114,209 117,214 121,219 124,224 129,228 134,231 139,234 144,238 148,242 152,246 155,252 157,257 159,263 161,269 163,274 166,279 169,284 172,290 175,295 177,301 179,306 181,312 183,318 185,323 189,328 193,332 197,336 202,340 207,343 212,346 218,349 223,351 229,353 235,354 241,355 247,355 253,355 259,356 265,356 270,358 275,361 280,365 285,369 289,373 295,376 300,378 306,379 312,380 318,380 324,380 330,380 336,380 342,379 348,378 354,377 360,376 365,374 371,372 376,369 382,367 387,364 393,361 398,359 404,357 409,355 415,354 421,353 427,353 433,353 439,355 445,356 451,357 457,358 463,358 469,357 474,356 480,353 485,350 490,347 495,344 500,341 505,337 509,333 514,329 518,325 522,320 525,315 528,310 531,305 535,300 541,298 547,299 553,299 558,299 564,299 570,300 576,300 582,300 588,301 594,301 598,301M117,169 122,173 126,177 131,180 136,184 140,188 145,191 150,195 156,197 161,199 167,201 173,202 179,204 184,206 189,210 193,214 196,219 200,224 203,229 206,235 209,240 212,245 215,250 218,255 220,261 221,267 223,272 226,278 231,282 236,284 242,285 248,286 254,286 260,287 266,288 272,290 277,292 282,295 288,298 293,301 298,304 304,306 309,309 314,312 319,316 324,319 328,323 334,326 339,327 345,328 351,327 357,326 363,325 369,323 375,321 380,320 386,319 392,318 398,318 404,319 410,321 416,323 421,324 427,326 433,328 439,329 444,331 450,333 455,336 461,338 466,341M95,235 96,241 98,247 100,253 104,257 108,261 113,265 119,268 123,271 128,275 132,280 136,284 140,289 144,293 149,297 153,301 158,305 161,310 164,315 166,321 167,327 167,333 168,339 168,345 169,351 170,357 171,362 172,368 174,374 177,379 180,384 184,389 189,392 195,393 201,394 207,394 213,393 219,392 225,392 231,392 237,393 243,395 248,398 253,401 258,405 263,407 269,410 275,411 280,413 286,414 292,415 298,416 304,417 310,418 316,418 322,417 328,416 334,414 339,412 345,410 350,407 356,405 362,403 367,401 373,400 379,398 385,398 391,398 397,398 403,400 408,402 414,404 420,405 426,405 432,405 438,403 443,401 449,399 454,395 459,392 463,388 467,384 471,379 475,375 478,372M466,406 471,403 476,400 481,396 486,392 490,388 494,384 499,380 503,376 508,373 513,369 518,366 524,364 529,361 535,360 541,358 547,357 553,355 558,354 564,353 570,352 576,350 582,349 588,348 594,347 600,346 604,346M389,302 394,301 400,299 406,298 412,298 418,298 424,299 430,301 435,303 441,305 447,306 453,308 458,309 464,310 470,311 476,313 482,314 488,314 494,314 500,313 505,311 511,309M432,99 435,104 438,109 440,115 442,120 445,126 448,131 451,136 456,140 461,143 466,146 471,149 476,153 480,157 484,162 487,167 491,172 494,176 498,181 503,185 506,190 510,195 512,200 514,206 515,212 516,218 517,224 519,230 521,235 524,240 527,245 530,250 533,256 536,261 540,266 543,271 547,275 552,279 557,282 558,283M136,139 138,144 141,149 145,154 149,158 153,163 157,167 161,172 165,176 170,180 175,183 181,186 186,188 191,191 196,194 200,199M154,118 159,123 164,126 169,129 174,132 179,136 183,140 187,145 190,150 194,155 197,159 201,164 205,168 209,173 212,178 215,184 217,189 219,195 221,200 224,206 227,210 231,215 236,219 241,222 246,226 250,230 255,233 260,237 265,239 271,241 277,242 283,241 289,241 295,240 301,240 307,240 313,242 318,244 324,247 329,250 334,253 340,255 346,256 352,257 358,257 364,257 370,257 375,256 381,256 387,255 393,254 399,253 405,252 411,250 417,249 423,247 428,246 434,245 440,245 446,245 452,246 458,248 463,252 467,256 471,261 475,265 480,269 484,272 490,275 495,278 500,281 505,285 510,288 515,292 518,294M239,241 243,246 247,250 252,254 258,256 264,257 269,258 275,258 281,258 287,258 293,260 299,262 304,266 309,269 313,273 318,276 323,279 329,282 334,285 339,288 344,292 349,295 354,298 359,301 365,302 371,302M86,284 91,287 96,290 101,293 106,297 111,301 115,306 119,310 123,314 127,319 131,323 134,329 135,334 136,340 135,346 133,352 131,358 129,363 128,369 127,375 127,381 128,387 130,393 133,398 138,401 143,404 148,406 154,409 160,410 166,412 172,412 178,412 184,411 189,409M91,417 96,419 102,421 108,423 114,424 119,427 125,429 130,432 135,436 140,439 145,441 151,442 157,443 163,442 169,441 175,439 180,437 186,435 191,432 197,430 203,429 209,428 215,427 221,427 227,427 233,428 239,429 245,429 251,430 257,430 263,430 269,431 275,432 280,433 286,434 292,435 298,434 304,433M194,449 200,450 206,451 211,452 217,453 223,453 229,454 235,455 241,457 246,460 251,463 256,466 261,470 266,473 271,476 277,477 283,478 289,477 295,476 301,474 306,472 311,469 316,465 321,461 325,457 329,453 333,448 338,444 342,440 347,437 352,434 358,432 364,431 370,431 376,432 382,433 388,434 394,435 400,435 406,435 411,435 417,435 423,434 429,434 435,433 441,433 447,433 453,432 459,431 465,429 471,427 476,425 482,422 487,419 491,415 496,411 500,407 504,403 508,398 512,394 516,389 520,385 525,381 526,380M516,414 521,410 525,406 530,402 534,398 539,395 544,392 550,389 555,387 561,385 567,384 573,383 579,383 585,382 591,382 597,380 602,378 606,377M332,72 337,76 342,80 347,83 352,85 358,88 363,90 368,93 373,98 376,103 378,108 381,114 383,119 386,124 389,129 393,134 396,139 400,144 404,148 407,153 410,158 414,163 418,167 423,171 429,173 434,175 440,177 445,179 451,182 456,185 460,190 464,194 468,199 472,203 476,208 479,213 482,218 484,224 485,230 485,236 485,242 486,248 487,253 488,255M514,161 517,166 521,171 524,176 527,181 530,186 533,191 536,196 540,201 544,205 547,208M547,224 552,228 556,233 559,238 562,243 564,249 567,254 569,259 573,264 576,269 580,274 583,279 585,285M178,99 183,101 189,102 195,103 201,104 207,105 213,107 218,109 223,112 228,116 233,119 239,122 244,125 249,128 254,131 259,134 263,139 267,143 271,148 276,152 280,155 286,158 292,160 297,161 303,162 309,164 315,166 320,169 325,172 330,175 335,179 340,182 345,185 349,189 353,194 356,199 359,204 361,210 364,215 368,220 372,224 378,227 383,228 389,229 395,230 401,232 407,233 411,234M231,144 235,148 238,154 240,159 242,165 243,171 244,177 245,183 247,188 251,193 255,198 259,201 264,205 269,208 274,211 280,214 285,217 291,218 297,220 303,220 309,221 315,221 320,223 326,225 331,228 336,232 341,235 346,239 351,241M83,315 85,320 87,326 88,332 90,338 91,343 94,349 96,354 99,360 102,365 104,371 106,376 107,382 109,388 110,394 113,399 117,404 119,405M96,454 101,458 105,462 109,466 114,470 119,473 125,475 131,476 137,476 143,476 149,477 155,477 161,477 167,478 173,479 179,480 185,481 191,481 197,482 202,483 208,484 214,486 219,488 224,492 228,496 233,501 237,505 242,508 248,510 253,512 259,513 265,514 271,515 277,516 283,518 289,519 294,521 300,522 306,522 312,523 318,524 324,524 330,526 336,528 341,531 346,534 351,538 356,541 361,543 367,544 373,544 379,543 385,542 391,540 397,539 403,537 408,536 414,535 420,534 426,533 432,532 438,531 444,530 450,529 456,527 461,526 467,524 473,522 479,520 484,518 490,516 495,514 501,511 506,509 512,506 517,503 522,501 528,498 533,495 538,492 543,489 549,487 554,484 560,481 565,479 570,476 576,473 581,470M307,489 313,490 319,491 325,492 331,493 337,493 343,494 349,494 355,494 361,495 367,496 372,498 378,501 383,503 389,506 395,507 401,507 406,506 412,504 417,502 422,498 427,494 431,490 434,485 438,480 441,475 445,470 448,465 452,461 457,457 461,453 466,449 471,445 474,443M330,474 336,473 342,471 348,469 353,467 359,466 365,464 370,462 376,460 382,458 388,457 393,455M489,447 495,445 501,443 507,443 513,442 519,443 525,443 531,444 537,444 543,443 548,442 554,440 560,438 565,435 570,431 574,427 578,423 582,418 586,414 589,409 593,404 597,399 599,396M287,72 291,77 295,81 299,86 303,90 307,94 312,99 316,102 321,106 327,108 333,109 339,110 344,111 350,113M400,181 403,186 408,190 413,194 418,197 423,200 427,204 431,209 435,213 439,218 444,222 448,226 453,229 455,230M244,75 247,80 251,85 254,90 258,95 262,99 266,103 271,106 276,109 281,113 286,116 291,120 296,123 302,125 308,127 314,127 318,127M118,514 124,514 130,514 136,514 142,513 148,512 153,511 159,509 165,507 170,505 176,503 182,501 188,500 193,499 199,499 205,500 209,501M128,538 134,538 140,537 146,535 152,533 157,531 163,529 169,527 174,526 180,525 186,525 192,526 198,528 203,531 209,534 214,536 220,538 226,539 232,540 237,542 243,543 249,544 255,546 261,547 267,548 273,548 279,547 285,546 290,544 296,543 302,541 308,540 314,539 316,539M225,555 230,558 235,562 240,565 245,568 250,571 256,572 262,573 268,573 274,573 280,573 286,573 292,574 298,576 303,579 308,582 313,585 318,588 324,590 330,592 336,593 342,594 347,595 353,596 359,597 365,597 371,596 377,595 383,593 388,590 393,586 397,582 402,578 406,574 411,570 415,566 420,563 425,559 430,556 435,553 440,550 446,548 451,546 457,544 463,542 469,541 475,541 481,541 487,542 493,544 498,546 504,548 510,549 516,549 522,548 527,546 533,543 538,540 542,536 546,531 550,526 553,521 556,516 558,510 560,507M548,552 553,549 558,546 563,542 567,538 571,534 575,530 579,525 582,520 585,515 589,510 592,505 595,500 599,495M425,515 430,513 435,510 441,507 446,504 451,501 456,497 460,494 465,490 470,487 476,484 481,481 487,479 492,477 498,475 504,474 510,472 515,470 521,469 527,467 532,465 538,463 544,461 549,459 555,457 561,455 566,453 572,450 577,447 582,445 587,441 592,438 597,434 601,429 605,425 606,423M146,556 151,557 157,560 162,563 167,566 172,570 177,573 181,577 186,581 191,584 195,588 199,593 203,598 207,602 212,606 217,609 222,611 228,612 234,612 240,612 246,612 252,613 258,614 264,616 269,618 275,621 281,623 286,624 292,625 298,627 304,628 310,629 316,631 321,633 327,635 333,637 339,638 345,638 350,637 356,635 362,633 367,631 373,628 378,625 384,623 389,620 394,617 399,614 405,612 410,609 416,606 421,604 427,602 433,601 439,600 445,599 451,598 456,597 462,596 468,595 474,593 479,591 485,589 490,586 496,583 501,580 506,578 512,575 517,572 523,570 528,567 533,565 535,564M412,627 418,628 424,629 430,629 436,630 442,630 448,630 454,630 460,630 466,631 472,631 478,631 484,631 490,631 496,630 502,628 507,625 512,622 517,618 521,614 525,610 530,605 534,601 538,597 543,593 547,589 552,586 557,583 563,580 568,577 573,574 579,572M242,643 248,643 254,643 260,642 266,642 272,641 278,640 284,639M261,661 267,659 273,658 279,658 285,658 291,659 297,660 303,661 309,662 315,662 321,661 326,660 332,658 338,655 339,654M329,689 334,687 340,684 345,682 351,679 356,676 361,673 366,670 371,667 377,664 382,662 388,659 393,658 399,656 405,654 411,653 417,652 423,651 429,651 435,651 441,651 447,652 453,653 458,654 464,656 470,657 476,657 482,657 488,655 493,653 499,651 504,648 509,645 514,641 519,637 523,633 524,632M386,694 392,692 397,689 402,686 408,684 414,682 420,681 425,680 431,680 437,680 443,681 449,681 455,680 461,678 467,676 472,674 474,673M117,214 123,216 129,216 131,216M151,245 157,245 163,244 169,244 173,243M159,263 164,265 168,266M171,286 176,289 181,291 187,294 189,295M180,308 175,313 174,314M190,330 191,324 192,318 193,312 194,308M202,340 202,334 201,330M216,348 217,354 218,358M237,355 232,359 229,361M251,355 255,359 260,363 261,364M268,358 267,352 266,348M306,379 308,385 310,390M318,380 322,385 326,389M334,380 339,384 344,387 347,389M358,376 355,382 354,384M398,359 404,361 409,363 415,366 416,367M441,355 436,358 431,361 427,363M470,357 474,352 476,346 477,345M482,352 487,355 492,358 496,360M502,339 502,333 502,329M528,310 523,312 521,313M556,299 552,295 549,293M574,300 571,295 567,290M134,183 128,182 122,180M154,196 160,195 164,195M246,286 243,291 240,296 239,302 239,304M275,291 281,290 285,289M341,328 346,332 350,336M355,327 358,321 361,316 364,314M386,319 382,314 380,311M431,327 428,322 426,317 424,311M107,260 107,266 109,272 113,277 115,280M156,303 162,305 166,306M167,329 163,333 159,338 158,339M169,353 173,357 179,360 184,362 186,363M180,384 182,379 183,375M209,393 205,389 202,387M223,392 227,397 229,400M261,407 267,405 273,403 279,402M271,410 273,416 274,420M290,415 285,419 284,420M347,409 344,414 343,420 343,422M363,403 365,397 366,391 366,387M450,398 445,395 439,393 433,393 429,392M462,389 467,391 469,392M473,378 467,379 465,379M478,398 477,392 477,390M529,361 531,356 533,350 533,348M590,348 595,351 600,354 602,355M396,300 393,305 392,307M410,298 406,302 405,304M437,303 442,299 445,295M449,307 451,313 452,318M472,312 467,316 464,318M443,122 449,125 454,127M466,146 461,149 456,152 454,153M480,157 486,159 490,160M488,169 482,169 476,171 471,173M497,179 496,173 496,170M504,187 505,181 506,179M511,197 516,199 522,201 525,203M515,210 511,214 507,219 505,220M518,228 513,225 511,223M530,250 529,256 527,260M552,279 558,278 564,277 567,276M161,172 167,172 173,174 179,175M165,127 159,128 155,128M191,151 192,157 193,163 196,168 199,171M205,168 206,162 207,156 208,152M219,197 214,195 212,195M224,206 229,208 234,211 239,215 241,218M230,213 230,219 231,225 231,229M239,221 239,227 239,229M257,235 256,229 253,223 252,222M303,240 299,245 297,248M391,255 386,252 382,251M401,253 406,256 412,259M421,248 415,245 414,244M470,259 470,265 470,271 470,277 470,279M488,274 485,269 483,265M502,283 507,280 512,276 516,272 518,271M246,249 246,255 247,259M273,258 270,262 266,267 264,268M289,259 294,255 296,254M309,269 308,263 307,257 307,253M317,275 322,274 326,272M325,280 331,279 333,278M351,296 350,290 349,284 348,278M126,317 120,318 114,319 108,319M134,330 138,325 140,320 140,318M131,358 134,363 136,369 137,370M128,389 123,386 120,384M134,399 129,401 127,401M147,406 141,409 136,412 132,415 128,418M176,412 181,415 186,417 192,418 194,418M104,422 110,419 115,417 117,416M135,436 136,442 139,447 142,452 145,455M151,442 155,438 158,433 162,428M180,437 186,439 188,439M197,430 199,425 199,423M211,428 207,423 205,422M223,427 226,422 230,417 231,416M267,431 269,436 272,441 273,443M296,434 293,430 291,428M208,451 213,448 218,445M223,453 227,449 230,446M268,474 267,468 268,462 269,457 269,455M311,469 312,463 314,457 317,452 318,450M328,454 333,455 339,456 345,456M342,440 336,440 330,441 326,443M368,431 371,436 373,439M398,435 401,440 405,444M427,434 431,439 434,444 435,448M459,431 465,433 467,434M469,428 464,425 462,424M500,407 501,413 501,417M515,391 516,397 517,399M522,409 523,403 523,401M536,397 542,397 548,397 554,398 556,398M587,382 583,387 581,390M340,78 342,84 346,89 350,93M361,89 361,83 360,81M377,104 375,110 371,115 370,116M381,114 383,108 383,106M387,126 387,120 387,118M393,134 392,128 392,126M400,144 400,138 400,136M420,169 419,175 418,181 418,183M440,177 442,183 443,189M456,185 462,186 468,186 470,186M467,197 461,197 459,197M521,171 518,176 517,178M535,195 529,194 527,194M556,233 555,238 554,242M213,107 211,101 207,96 206,95M233,119 228,121 223,124 218,128 215,130M247,127 253,125 259,123 263,122M266,141 266,135 266,133M274,150 280,149 285,146M288,159 282,161 276,162 270,163 266,164M325,172 325,178 326,182M360,208 363,203 365,197M366,219 367,213 366,211M239,155 233,154 228,152 222,151M243,173 248,177 252,181 256,185 257,187M252,195 251,201 250,207 249,208M271,209 271,203 271,197M102,365 96,363 92,362M112,397 111,403 109,407M109,466 109,460 109,454 111,448 112,445M181,480 185,476 189,471 191,468M244,509 249,506 255,504 261,504 263,504M269,515 273,510 277,506 281,501 282,499M302,522 307,518 311,514 312,512M344,533 343,527 340,522 335,518 333,518M358,541 355,536 354,534M389,541 391,535 392,529 392,523 392,521M399,538 395,543 394,545M416,534 418,529 419,527M428,532 431,527 432,525M444,530 449,533 450,535M510,507 512,501 514,498M528,498 533,500 539,502 541,503M576,473 578,468 580,462 584,457M339,494 344,497 349,501 354,503 356,504M372,498 370,493 369,489M410,505 416,508 418,509M429,491 430,497 431,499M458,455 459,461 460,467M467,448 461,448 457,447M351,468 354,463 358,458 362,454 365,451M380,459 383,454 387,449M497,444 501,440 504,435 506,431M537,444 541,440 545,436 549,431 551,430M583,417 589,416 595,415 597,415M589,409 595,409 597,408M292,78 292,84 291,90 291,94M303,90 309,89 315,87 321,86M315,101 314,107 314,113 314,115M331,109 336,106 342,104 344,104M426,203 425,197 425,193M450,227 455,225 461,223 466,220 468,219M252,86 250,92 248,98 248,104M262,99 256,99 254,99M281,113 276,115 272,116M300,125 297,119 295,114 292,108M159,509 156,514 154,517M191,499 197,502 202,503 204,504M134,538 139,541 144,545M152,533 157,536 163,537 169,539M178,525 183,528 188,532 193,536 194,537M234,541 238,536 241,532 243,528M265,548 267,553 270,559M279,547 276,552 275,554M290,544 285,541 280,538 275,535M230,558 229,552 228,550M245,568 250,566 256,564M256,572 252,577 250,583 250,589 250,591M266,573 262,569 260,568M299,577 301,583 303,588 304,594 305,598M324,590 329,586 333,582 337,578 339,576M355,596 358,602 361,607M425,559 419,558 413,556 408,554 406,553M453,545 457,540 458,539M473,541 469,536 468,534M502,547 499,542 496,537 494,533M552,523 557,520 562,517 567,514M571,534 565,534 559,534M583,518 585,524 587,530 588,534M592,505 586,507 581,509 579,510M437,509 443,510 449,510 455,509 457,509M446,504 440,501 438,501M476,484 478,479 480,475M488,478 490,473 491,467 491,461M506,473 507,467 509,462 511,456 512,454M525,468 519,466 517,465M536,464 538,458 540,455M557,456 562,460 567,464M572,450 575,445 578,440 579,438M166,565 172,564 177,564 183,562M180,576 180,582 181,584M248,613 253,609 258,606M290,625 294,630 296,633M327,635 322,639 317,642 315,643M391,619 396,620 402,620M437,600 433,596 430,590M451,598 448,604 444,609M476,592 478,587 479,583M515,573 517,567 518,562M446,630 443,635 441,638M520,615 526,614 531,613 533,612M541,594 541,588 540,582M559,582 557,587 555,593M570,576 565,573 559,570 558,569M260,642 263,647 264,649M276,640 271,645 270,646M313,662 316,657 317,655M330,658 335,662 340,665 345,668M384,661 387,656 389,650 392,645 393,641M413,653 409,648 406,643 405,641M423,651 426,646 429,641M495,653 493,658 489,663 488,664M397,689 403,690 409,691 411,691M412,683 406,680 401,678 399,677M437,680 434,675 431,670 427,666 426,664" stroke="#76b6a0" stroke-width="25"/>
<path d="M85,288 110,294 140,291 170,297 200,295 230,289 260,286 290,279 320,279 350,274 380,271 410,275 440,279 470,284 500,292 530,299" stroke="#64a69c" stroke-width="32"/>
<path d="M106,200 110,204 114,209 117,214 121,219 124,224 129,228 134,231 139,234 144,238 148,242 152,246 155,252 157,257 159,263 161,269 163,274 166,279 169,284 172,290 175,295 177,301 179,306 181,312 183,318 185,323 189,328 193,332 197,336 202,340 207,343 212,346 218,349 223,351 229,353 235,354 241,355 247,355 253,355 259,356 265,356 270,358 275,361 280,365 285,369 289,373 295,376 300,378 306,379 312,380 318,380 324,380 330,380 336,380 342,379 348,378 354,377 360,376 365,374 371,372 376,369 382,367 387,364 393,361 398,359 404,357 409,355 415,354 421,353 427,353 433,353 439,355 445,356 451,357 457,358 463,358 469,357 474,356 480,353 485,350 490,347 495,344 500,341 505,337 509,333 514,329 518,325 522,320 525,315 528,310 531,305 535,300 541,298 547,299 553,299 558,299 564,299 570,300 576,300 582,300 588,301 594,301 598,301M117,169 122,173 126,177 131,180 136,184 140,188 145,191 150,195 156,197 161,199 167,201 173,202 179,204 184,206 189,210 193,214 196,219 200,224 203,229 206,235 209,240 212,245 215,250 218,255 220,261 221,267 223,272 226,278 231,282 236,284 242,285 248,286 254,286 260,287 266,288 272,290 277,292 282,295 288,298 293,301 298,304 304,306 309,309 314,312 319,316 324,319 328,323 334,326 339,327 345,328 351,327 357,326 363,325 369,323 375,321 380,320 386,319 392,318 398,318 404,319 410,321 416,323 421,324 427,326 433,328 439,329 444,331 450,333 455,336 461,338 466,341M95,235 96,241 98,247 100,253 104,257 108,261 113,265 119,268 123,271 128,275 132,280 136,284 140,289 144,293 149,297 153,301 158,305 161,310 164,315 166,321 167,327 167,333 168,339 168,345 169,351 170,357 171,362 172,368 174,374 177,379 180,384 184,389 189,392 195,393 201,394 207,394 213,393 219,392 225,392 231,392 237,393 243,395 248,398 253,401 258,405 263,407 269,410 275,411 280,413 286,414 292,415 298,416 304,417 310,418 316,418 322,417 328,416 334,414 339,412 345,410 350,407 356,405 362,403 367,401 373,400 379,398 385,398 391,398 397,398 403,400 408,402 414,404 420,405 426,405 432,405 438,403 443,401 449,399 454,395 459,392 463,388 467,384 471,379 475,375 478,372M466,406 471,403 476,400 481,396 486,392 490,388 494,384 499,380 503,376 508,373 513,369 518,366 524,364 529,361 535,360 541,358 547,357 553,355 558,354 564,353 570,352 576,350 582,349 588,348 594,347 600,346 604,346M389,302 394,301 400,299 406,298 412,298 418,298 424,299 430,301 435,303 441,305 447,306 453,308 458,309 464,310 470,311 476,313 482,314 488,314 494,314 500,313 505,311 511,309M432,99 435,104 438,109 440,115 442,120 445,126 448,131 451,136 456,140 461,143 466,146 471,149 476,153 480,157 484,162 487,167 491,172 494,176 498,181 503,185 506,190 510,195 512,200 514,206 515,212 516,218 517,224 519,230 521,235 524,240 527,245 530,250 533,256 536,261 540,266 543,271 547,275 552,279 557,282 558,283M136,139 138,144 141,149 145,154 149,158 153,163 157,167 161,172 165,176 170,180 175,183 181,186 186,188 191,191 196,194 200,199M154,118 159,123 164,126 169,129 174,132 179,136 183,140 187,145 190,150 194,155 197,159 201,164 205,168 209,173 212,178 215,184 217,189 219,195 221,200 224,206 227,210 231,215 236,219 241,222 246,226 250,230 255,233 260,237 265,239 271,241 277,242 283,241 289,241 295,240 301,240 307,240 313,242 318,244 324,247 329,250 334,253 340,255 346,256 352,257 358,257 364,257 370,257 375,256 381,256 387,255 393,254 399,253 405,252 411,250 417,249 423,247 428,246 434,245 440,245 446,245 452,246 458,248 463,252 467,256 471,261 475,265 480,269 484,272 490,275 495,278 500,281 505,285 510,288 515,292 518,294M239,241 243,246 247,250 252,254 258,256 264,257 269,258 275,258 281,258 287,258 293,260 299,262 304,266 309,269 313,273 318,276 323,279 329,282 334,285 339,288 344,292 349,295 354,298 359,301 365,302 371,302M86,284 91,287 96,290 101,293 106,297 111,301 115,306 119,310 123,314 127,319 131,323 134,329 135,334 136,340 135,346 133,352 131,358 129,363 128,369 127,375 127,381 128,387 130,393 133,398 138,401 143,404 148,406 154,409 160,410 166,412 172,412 178,412 184,411 189,409M91,417 96,419 102,421 108,423 114,424 119,427 125,429 130,432 135,436 140,439 145,441 151,442 157,443 163,442 169,441 175,439 180,437 186,435 191,432 197,430 203,429 209,428 215,427 221,427 227,427 233,428 239,429 245,429 251,430 257,430 263,430 269,431 275,432 280,433 286,434 292,435 298,434 304,433M194,449 200,450 206,451 211,452 217,453 223,453 229,454 235,455 241,457 246,460 251,463 256,466 261,470 266,473 271,476 277,477 283,478 289,477 295,476 301,474 306,472 311,469 316,465 321,461 325,457 329,453 333,448 338,444 342,440 347,437 352,434 358,432 364,431 370,431 376,432 382,433 388,434 394,435 400,435 406,435 411,435 417,435 423,434 429,434 435,433 441,433 447,433 453,432 459,431 465,429 471,427 476,425 482,422 487,419 491,415 496,411 500,407 504,403 508,398 512,394 516,389 520,385 525,381 526,380M516,414 521,410 525,406 530,402 534,398 539,395 544,392 550,389 555,387 561,385 567,384 573,383 579,383 585,382 591,382 597,380 602,378 606,377M332,72 337,76 342,80 347,83 352,85 358,88 363,90 368,93 373,98 376,103 378,108 381,114 383,119 386,124 389,129 393,134 396,139 400,144 404,148 407,153 410,158 414,163 418,167 423,171 429,173 434,175 440,177 445,179 451,182 456,185 460,190 464,194 468,199 472,203 476,208 479,213 482,218 484,224 485,230 485,236 485,242 486,248 487,253 488,255M514,161 517,166 521,171 524,176 527,181 530,186 533,191 536,196 540,201 544,205 547,208M547,224 552,228 556,233 559,238 562,243 564,249 567,254 569,259 573,264 576,269 580,274 583,279 585,285M178,99 183,101 189,102 195,103 201,104 207,105 213,107 218,109 223,112 228,116 233,119 239,122 244,125 249,128 254,131 259,134 263,139 267,143 271,148 276,152 280,155 286,158 292,160 297,161 303,162 309,164 315,166 320,169 325,172 330,175 335,179 340,182 345,185 349,189 353,194 356,199 359,204 361,210 364,215 368,220 372,224 378,227 383,228 389,229 395,230 401,232 407,233 411,234M231,144 235,148 238,154 240,159 242,165 243,171 244,177 245,183 247,188 251,193 255,198 259,201 264,205 269,208 274,211 280,214 285,217 291,218 297,220 303,220 309,221 315,221 320,223 326,225 331,228 336,232 341,235 346,239 351,241M83,315 85,320 87,326 88,332 90,338 91,343 94,349 96,354 99,360 102,365 104,371 106,376 107,382 109,388 110,394 113,399 117,404 119,405M96,454 101,458 105,462 109,466 114,470 119,473 125,475 131,476 137,476 143,476 149,477 155,477 161,477 167,478 173,479 179,480 185,481 191,481 197,482 202,483 208,484 214,486 219,488 224,492 228,496 233,501 237,505 242,508 248,510 253,512 259,513 265,514 271,515 277,516 283,518 289,519 294,521 300,522 306,522 312,523 318,524 324,524 330,526 336,528 341,531 346,534 351,538 356,541 361,543 367,544 373,544 379,543 385,542 391,540 397,539 403,537 408,536 414,535 420,534 426,533 432,532 438,531 444,530 450,529 456,527 461,526 467,524 473,522 479,520 484,518 490,516 495,514 501,511 506,509 512,506 517,503 522,501 528,498 533,495 538,492 543,489 549,487 554,484 560,481 565,479 570,476 576,473 581,470M307,489 313,490 319,491 325,492 331,493 337,493 343,494 349,494 355,494 361,495 367,496 372,498 378,501 383,503 389,506 395,507 401,507 406,506 412,504 417,502 422,498 427,494 431,490 434,485 438,480 441,475 445,470 448,465 452,461 457,457 461,453 466,449 471,445 474,443M330,474 336,473 342,471 348,469 353,467 359,466 365,464 370,462 376,460 382,458 388,457 393,455M489,447 495,445 501,443 507,443 513,442 519,443 525,443 531,444 537,444 543,443 548,442 554,440 560,438 565,435 570,431 574,427 578,423 582,418 586,414 589,409 593,404 597,399 599,396M287,72 291,77 295,81 299,86 303,90 307,94 312,99 316,102 321,106 327,108 333,109 339,110 344,111 350,113M400,181 403,186 408,190 413,194 418,197 423,200 427,204 431,209 435,213 439,218 444,222 448,226 453,229 455,230M244,75 247,80 251,85 254,90 258,95 262,99 266,103 271,106 276,109 281,113 286,116 291,120 296,123 302,125 308,127 314,127 318,127M118,514 124,514 130,514 136,514 142,513 148,512 153,511 159,509 165,507 170,505 176,503 182,501 188,500 193,499 199,499 205,500 209,501M128,538 134,538 140,537 146,535 152,533 157,531 163,529 169,527 174,526 180,525 186,525 192,526 198,528 203,531 209,534 214,536 220,538 226,539 232,540 237,542 243,543 249,544 255,546 261,547 267,548 273,548 279,547 285,546 290,544 296,543 302,541 308,540 314,539 316,539M225,555 230,558 235,562 240,565 245,568 250,571 256,572 262,573 268,573 274,573 280,573 286,573 292,574 298,576 303,579 308,582 313,585 318,588 324,590 330,592 336,593 342,594 347,595 353,596 359,597 365,597 371,596 377,595 383,593 388,590 393,586 397,582 402,578 406,574 411,570 415,566 420,563 425,559 430,556 435,553 440,550 446,548 451,546 457,544 463,542 469,541 475,541 481,541 487,542 493,544 498,546 504,548 510,549 516,549 522,548 527,546 533,543 538,540 542,536 546,531 550,526 553,521 556,516 558,510 560,507M548,552 553,549 558,546 563,542 567,538 571,534 575,530 579,525 582,520 585,515 589,510 592,505 595,500 599,495M425,515 430,513 435,510 441,507 446,504 451,501 456,497 460,494 465,490 470,487 476,484 481,481 487,479 492,477 498,475 504,474 510,472 515,470 521,469 527,467 532,465 538,463 544,461 549,459 555,457 561,455 566,453 572,450 577,447 582,445 587,441 592,438 597,434 601,429 605,425 606,423M146,556 151,557 157,560 162,563 167,566 172,570 177,573 181,577 186,581 191,584 195,588 199,593 203,598 207,602 212,606 217,609 222,611 228,612 234,612 240,612 246,612 252,613 258,614 264,616 269,618 275,621 281,623 286,624 292,625 298,627 304,628 310,629 316,631 321,633 327,635 333,637 339,638 345,638 350,637 356,635 362,633 367,631 373,628 378,625 384,623 389,620 394,617 399,614 405,612 410,609 416,606 421,604 427,602 433,601 439,600 445,599 451,598 456,597 462,596 468,595 474,593 479,591 485,589 490,586 496,583 501,580 506,578 512,575 517,572 523,570 528,567 533,565 535,564M412,627 418,628 424,629 430,629 436,630 442,630 448,630 454,630 460,630 466,631 472,631 478,631 484,631 490,631 496,630 502,628 507,625 512,622 517,618 521,614 525,610 530,605 534,601 538,597 543,593 547,589 552,586 557,583 563,580 568,577 573,574 579,572M242,643 248,643 254,643 260,642 266,642 272,641 278,640 284,639M261,661 267,659 273,658 279,658 285,658 291,659 297,660 303,661 309,662 315,662 321,661 326,660 332,658 338,655 339,654M329,689 334,687 340,684 345,682 351,679 356,676 361,673 366,670 371,667 377,664 382,662 388,659 393,658 399,656 405,654 411,653 417,652 423,651 429,651 435,651 441,651 447,652 453,653 458,654 464,656 470,657 476,657 482,657 488,655 493,653 499,651 504,648 509,645 514,641 519,637 523,633 524,632M386,694 392,692 397,689 402,686 408,684 414,682 420,681 425,680 431,680 437,680 443,681 449,681 455,680 461,678 467,676 472,674 474,673M117,214 123,216 129,216 131,216M151,245 157,245 163,244 169,244 173,243M159,263 164,265 168,266M171,286 176,289 181,291 187,294 189,295M180,308 175,313 174,314M190,330 191,324 192,318 193,312 194,308M202,340 202,334 201,330M216,348 217,354 218,358M237,355 232,359 229,361M251,355 255,359 260,363 261,364M268,358 267,352 266,348M306,379 308,385 310,390M318,380 322,385 326,389M334,380 339,384 344,387 347,389M358,376 355,382 354,384M398,359 404,361 409,363 415,366 416,367M441,355 436,358 431,361 427,363M470,357 474,352 476,346 477,345M482,352 487,355 492,358 496,360M502,339 502,333 502,329M528,310 523,312 521,313M556,299 552,295 549,293M574,300 571,295 567,290M134,183 128,182 122,180M154,196 160,195 164,195M246,286 243,291 240,296 239,302 239,304M275,291 281,290 285,289M341,328 346,332 350,336M355,327 358,321 361,316 364,314M386,319 382,314 380,311M431,327 428,322 426,317 424,311M107,260 107,266 109,272 113,277 115,280M156,303 162,305 166,306M167,329 163,333 159,338 158,339M169,353 173,357 179,360 184,362 186,363M180,384 182,379 183,375M209,393 205,389 202,387M223,392 227,397 229,400M261,407 267,405 273,403 279,402M271,410 273,416 274,420M290,415 285,419 284,420M347,409 344,414 343,420 343,422M363,403 365,397 366,391 366,387M450,398 445,395 439,393 433,393 429,392M462,389 467,391 469,392M473,378 467,379 465,379M478,398 477,392 477,390M529,361 531,356 533,350 533,348M590,348 595,351 600,354 602,355M396,300 393,305 392,307M410,298 406,302 405,304M437,303 442,299 445,295M449,307 451,313 452,318M472,312 467,316 464,318M443,122 449,125 454,127M466,146 461,149 456,152 454,153M480,157 486,159 490,160M488,169 482,169 476,171 471,173M497,179 496,173 496,170M504,187 505,181 506,179M511,197 516,199 522,201 525,203M515,210 511,214 507,219 505,220M518,228 513,225 511,223M530,250 529,256 527,260M552,279 558,278 564,277 567,276M161,172 167,172 173,174 179,175M165,127 159,128 155,128M191,151 192,157 193,163 196,168 199,171M205,168 206,162 207,156 208,152M219,197 214,195 212,195M224,206 229,208 234,211 239,215 241,218M230,213 230,219 231,225 231,229M239,221 239,227 239,229M257,235 256,229 253,223 252,222M303,240 299,245 297,248M391,255 386,252 382,251M401,253 406,256 412,259M421,248 415,245 414,244M470,259 470,265 470,271 470,277 470,279M488,274 485,269 483,265M502,283 507,280 512,276 516,272 518,271M246,249 246,255 247,259M273,258 270,262 266,267 264,268M289,259 294,255 296,254M309,269 308,263 307,257 307,253M317,275 322,274 326,272M325,280 331,279 333,278M351,296 350,290 349,284 348,278M126,317 120,318 114,319 108,319M134,330 138,325 140,320 140,318M131,358 134,363 136,369 137,370M128,389 123,386 120,384M134,399 129,401 127,401M147,406 141,409 136,412 132,415 128,418M176,412 181,415 186,417 192,418 194,418M104,422 110,419 115,417 117,416M135,436 136,442 139,447 142,452 145,455M151,442 155,438 158,433 162,428M180,437 186,439 188,439M197,430 199,425 199,423M211,428 207,423 205,422M223,427 226,422 230,417 231,416M267,431 269,436 272,441 273,443M296,434 293,430 291,428M208,451 213,448 218,445M223,453 227,449 230,446M268,474 267,468 268,462 269,457 269,455M311,469 312,463 314,457 317,452 318,450M328,454 333,455 339,456 345,456M342,440 336,440 330,441 326,443M368,431 371,436 373,439M398,435 401,440 405,444M427,434 431,439 434,444 435,448M459,431 465,433 467,434M469,428 464,425 462,424M500,407 501,413 501,417M515,391 516,397 517,399M522,409 523,403 523,401M536,397 542,397 548,397 554,398 556,398M587,382 583,387 581,390M340,78 342,84 346,89 350,93M361,89 361,83 360,81M377,104 375,110 371,115 370,116M381,114 383,108 383,106M387,126 387,120 387,118M393,134 392,128 392,126M400,144 400,138 400,136M420,169 419,175 418,181 418,183M440,177 442,183 443,189M456,185 462,186 468,186 470,186M467,197 461,197 459,197M521,171 518,176 517,178M535,195 529,194 527,194M556,233 555,238 554,242M213,107 211,101 207,96 206,95M233,119 228,121 223,124 218,128 215,130M247,127 253,125 259,123 263,122M266,141 266,135 266,133M274,150 280,149 285,146M288,159 282,161 276,162 270,163 266,164M325,172 325,178 326,182M360,208 363,203 365,197M366,219 367,213 366,211M239,155 233,154 228,152 222,151M243,173 248,177 252,181 256,185 257,187M252,195 251,201 250,207 249,208M271,209 271,203 271,197M102,365 96,363 92,362M112,397 111,403 109,407M109,466 109,460 109,454 111,448 112,445M181,480 185,476 189,471 191,468M244,509 249,506 255,504 261,504 263,504M269,515 273,510 277,506 281,501 282,499M302,522 307,518 311,514 312,512M344,533 343,527 340,522 335,518 333,518M358,541 355,536 354,534M389,541 391,535 392,529 392,523 392,521M399,538 395,543 394,545M416,534 418,529 419,527M428,532 431,527 432,525M444,530 449,533 450,535M510,507 512,501 514,498M528,498 533,500 539,502 541,503M576,473 578,468 580,462 584,457M339,494 344,497 349,501 354,503 356,504M372,498 370,493 369,489M410,505 416,508 418,509M429,491 430,497 431,499M458,455 459,461 460,467M467,448 461,448 457,447M351,468 354,463 358,458 362,454 365,451M380,459 383,454 387,449M497,444 501,440 504,435 506,431M537,444 541,440 545,436 549,431 551,430M583,417 589,416 595,415 597,415M589,409 595,409 597,408M292,78 292,84 291,90 291,94M303,90 309,89 315,87 321,86M315,101 314,107 314,113 314,115M331,109 336,106 342,104 344,104M426,203 425,197 425,193M450,227 455,225 461,223 466,220 468,219M252,86 250,92 248,98 248,104M262,99 256,99 254,99M281,113 276,115 272,116M300,125 297,119 295,114 292,108M159,509 156,514 154,517M191,499 197,502 202,503 204,504M134,538 139,541 144,545M152,533 157,536 163,537 169,539M178,525 183,528 188,532 193,536 194,537M234,541 238,536 241,532 243,528M265,548 267,553 270,559M279,547 276,552 275,554M290,544 285,541 280,538 275,535M230,558 229,552 228,550M245,568 250,566 256,564M256,572 252,577 250,583 250,589 250,591M266,573 262,569 260,568M299,577 301,583 303,588 304,594 305,598M324,590 329,586 333,582 337,578 339,576M355,596 358,602 361,607M425,559 419,558 413,556 408,554 406,553M453,545 457,540 458,539M473,541 469,536 468,534M502,547 499,542 496,537 494,533M552,523 557,520 562,517 567,514M571,534 565,534 559,534M583,518 585,524 587,530 588,534M592,505 586,507 581,509 579,510M437,509 443,510 449,510 455,509 457,509M446,504 440,501 438,501M476,484 478,479 480,475M488,478 490,473 491,467 491,461M506,473 507,467 509,462 511,456 512,454M525,468 519,466 517,465M536,464 538,458 540,455M557,456 562,460 567,464M572,450 575,445 578,440 579,438M166,565 172,564 177,564 183,562M180,576 180,582 181,584M248,613 253,609 258,606M290,625 294,630 296,633M327,635 322,639 317,642 315,643M391,619 396,620 402,620M437,600 433,596 430,590M451,598 448,604 444,609M476,592 478,587 479,583M515,573 517,567 518,562M446,630 443,635 441,638M520,615 526,614 531,613 533,612M541,594 541,588 540,582M559,582 557,587 555,593M570,576 565,573 559,570 558,569M260,642 263,647 264,649M276,640 271,645 270,646M313,662 316,657 317,655M330,658 335,662 340,665 345,668M384,661 387,656 389,650 392,645 393,641M413,653 409,648 406,643 405,641M423,651 426,646 429,641M495,653 493,658 489,663 488,664M397,689 403,690 409,691 411,691M412,683 406,680 401,678 399,677M437,680 434,675 431,670 427,666 426,664" stroke="#64a69c" stroke-width="17"/>
<path d="M85,288 110,294 140,291 170,297 200,295 230,289 260,286 290,279 320,279 350,274 380,271 410,275 440,279 470,284 500,292 530,299" stroke="#5f7698" stroke-width="20"/>
<path d="M106,200 110,204 114,209 117,214 121,219 124,224 129,228 134,231 139,234 144,238 148,242 152,246 155,252 157,257 159,263 161,269 163,274 166,279 169,284 172,290 175,295 177,301 179,306 181,312 183,318 185,323 189,328 193,332 197,336 202,340 207,343 212,346 218,349 223,351 229,353 235,354 241,355 247,355 253,355 259,356 265,356 270,358 275,361 280,365 285,369 289,373 295,376 300,378 306,379 312,380 318,380 324,380 330,380 336,380 342,379 348,378 354,377 360,376 365,374 371,372 376,369 382,367 387,364 393,361 398,359 404,357 409,355 415,354 421,353 427,353 433,353 439,355 445,356 451,357 457,358 463,358 469,357 474,356 480,353 485,350 490,347 495,344 500,341 505,337 509,333 514,329 518,325 522,320 525,315 528,310 531,305 535,300 541,298 547,299 553,299 558,299 564,299 570,300 576,300 582,300 588,301 594,301 598,301M117,169 122,173 126,177 131,180 136,184 140,188 145,191 150,195 156,197 161,199 167,201 173,202 179,204 184,206 189,210 193,214 196,219 200,224 203,229 206,235 209,240 212,245 215,250 218,255 220,261 221,267 223,272 226,278 231,282 236,284 242,285 248,286 254,286 260,287 266,288 272,290 277,292 282,295 288,298 293,301 298,304 304,306 309,309 314,312 319,316 324,319 328,323 334,326 339,327 345,328 351,327 357,326 363,325 369,323 375,321 380,320 386,319 392,318 398,318 404,319 410,321 416,323 421,324 427,326 433,328 439,329 444,331 450,333 455,336 461,338 466,341M95,235 96,241 98,247 100,253 104,257 108,261 113,265 119,268 123,271 128,275 132,280 136,284 140,289 144,293 149,297 153,301 158,305 161,310 164,315 166,321 167,327 167,333 168,339 168,345 169,351 170,357 171,362 172,368 174,374 177,379 180,384 184,389 189,392 195,393 201,394 207,394 213,393 219,392 225,392 231,392 237,393 243,395 248,398 253,401 258,405 263,407 269,410 275,411 280,413 286,414 292,415 298,416 304,417 310,418 316,418 322,417 328,416 334,414 339,412 345,410 350,407 356,405 362,403 367,401 373,400 379,398 385,398 391,398 397,398 403,400 408,402 414,404 420,405 426,405 432,405 438,403 443,401 449,399 454,395 459,392 463,388 467,384 471,379 475,375 478,372M466,406 471,403 476,400 481,396 486,392 490,388 494,384 499,380 503,376 508,373 513,369 518,366 524,364 529,361 535,360 541,358 547,357 553,355 558,354 564,353 570,352 576,350 582,349 588,348 594,347 600,346 604,346M389,302 394,301 400,299 406,298 412,298 418,298 424,299 430,301 435,303 441,305 447,306 453,308 458,309 464,310 470,311 476,313 482,314 488,314 494,314 500,313 505,311 511,309M432,99 435,104 438,109 440,115 442,120 445,126 448,131 451,136 456,140 461,143 466,146 471,149 476,153 480,157 484,162 487,167 491,172 494,176 498,181 503,185 506,190 510,195 512,200 514,206 515,212 516,218 517,224 519,230 521,235 524,240 527,245 530,250 533,256 536,261 540,266 543,271 547,275 552,279 557,282 558,283M136,139 138,144 141,149 145,154 149,158 153,163 157,167 161,172 165,176 170,180 175,183 181,186 186,188 191,191 196,194 200,199M154,118 159,123 164,126 169,129 174,132 179,136 183,140 187,145 190,150 194,155 197,159 201,164 205,168 209,173 212,178 215,184 217,189 219,195 221,200 224,206 227,210 231,215 236,219 241,222 246,226 250,230 255,233 260,237 265,239 271,241 277,242 283,241 289,241 295,240 301,240 307,240 313,242 318,244 324,247 329,250 334,253 340,255 346,256 352,257 358,257 364,257 370,257 375,256 381,256 387,255 393,254 399,253 405,252 411,250 417,249 423,247 428,246 434,245 440,245 446,245 452,246 458,248 463,252 467,256 471,261 475,265 480,269 484,272 490,275 495,278 500,281 505,285 510,288 515,292 518,294M239,241 243,246 247,250 252,254 258,256 264,257 269,258 275,258 281,258 287,258 293,260 299,262 304,266 309,269 313,273 318,276 323,279 329,282 334,285 339,288 344,292 349,295 354,298 359,301 365,302 371,302M86,284 91,287 96,290 101,293 106,297 111,301 115,306 119,310 123,314 127,319 131,323 134,329 135,334 136,340 135,346 133,352 131,358 129,363 128,369 127,375 127,381 128,387 130,393 133,398 138,401 143,404 148,406 154,409 160,410 166,412 172,412 178,412 184,411 189,409M91,417 96,419 102,421 108,423 114,424 119,427 125,429 130,432 135,436 140,439 145,441 151,442 157,443 163,442 169,441 175,439 180,437 186,435 191,432 197,430 203,429 209,428 215,427 221,427 227,427 233,428 239,429 245,429 251,430 257,430 263,430 269,431 275,432 280,433 286,434 292,435 298,434 304,433M194,449 200,450 206,451 211,452 217,453 223,453 229,454 235,455 241,457 246,460 251,463 256,466 261,470 266,473 271,476 277,477 283,478 289,477 295,476 301,474 306,472 311,469 316,465 321,461 325,457 329,453 333,448 338,444 342,440 347,437 352,434 358,432 364,431 370,431 376,432 382,433 388,434 394,435 400,435 406,435 411,435 417,435 423,434 429,434 435,433 441,433 447,433 453,432 459,431 465,429 471,427 476,425 482,422 487,419 491,415 496,411 500,407 504,403 508,398 512,394 516,389 520,385 525,381 526,380M516,414 521,410 525,406 530,402 534,398 539,395 544,392 550,389 555,387 561,385 567,384 573,383 579,383 585,382 591,382 597,380 602,378 606,377M332,72 337,76 342,80 347,83 352,85 358,88 363,90 368,93 373,98 376,103 378,108 381,114 383,119 386,124 389,129 393,134 396,139 400,144 404,148 407,153 410,158 414,163 418,167 423,171 429,173 434,175 440,177 445,179 451,182 456,185 460,190 464,194 468,199 472,203 476,208 479,213 482,218 484,224 485,230 485,236 485,242 486,248 487,253 488,255M514,161 517,166 521,171 524,176 527,181 530,186 533,191 536,196 540,201 544,205 547,208M547,224 552,228 556,233 559,238 562,243 564,249 567,254 569,259 573,264 576,269 580,274 583,279 585,285M178,99 183,101 189,102 195,103 201,104 207,105 213,107 218,109 223,112 228,116 233,119 239,122 244,125 249,128 254,131 259,134 263,139 267,143 271,148 276,152 280,155 286,158 292,160 297,161 303,162 309,164 315,166 320,169 325,172 330,175 335,179 340,182 345,185 349,189 353,194 356,199 359,204 361,210 364,215 368,220 372,224 378,227 383,228 389,229 395,230 401,232 407,233 411,234M231,144 235,148 238,154 240,159 242,165 243,171 244,177 245,183 247,188 251,193 255,198 259,201 264,205 269,208 274,211 280,214 285,217 291,218 297,220 303,220 309,221 315,221 320,223 326,225 331,228 336,232 341,235 346,239 351,241M83,315 85,320 87,326 88,332 90,338 91,343 94,349 96,354 99,360 102,365 104,371 106,376 107,382 109,388 110,394 113,399 117,404 119,405M96,454 101,458 105,462 109,466 114,470 119,473 125,475 131,476 137,476 143,476 149,477 155,477 161,477 167,478 173,479 179,480 185,481 191,481 197,482 202,483 208,484 214,486 219,488 224,492 228,496 233,501 237,505 242,508 248,510 253,512 259,513 265,514 271,515 277,516 283,518 289,519 294,521 300,522 306,522 312,523 318,524 324,524 330,526 336,528 341,531 346,534 351,538 356,541 361,543 367,544 373,544 379,543 385,542 391,540 397,539 403,537 408,536 414,535 420,534 426,533 432,532 438,531 444,530 450,529 456,527 461,526 467,524 473,522 479,520 484,518 490,516 495,514 501,511 506,509 512,506 517,503 522,501 528,498 533,495 538,492 543,489 549,487 554,484 560,481 565,479 570,476 576,473 581,470M307,489 313,490 319,491 325,492 331,493 337,493 343,494 349,494 355,494 361,495 367,496 372,498 378,501 383,503 389,506 395,507 401,507 406,506 412,504 417,502 422,498 427,494 431,490 434,485 438,480 441,475 445,470 448,465 452,461 457,457 461,453 466,449 471,445 474,443M330,474 336,473 342,471 348,469 353,467 359,466 365,464 370,462 376,460 382,458 388,457 393,455M489,447 495,445 501,443 507,443 513,442 519,443 525,443 531,444 537,444 543,443 548,442 554,440 560,438 565,435 570,431 574,427 578,423 582,418 586,414 589,409 593,404 597,399 599,396M287,72 291,77 295,81 299,86 303,90 307,94 312,99 316,102 321,106 327,108 333,109 339,110 344,111 350,113M400,181 403,186 408,190 413,194 418,197 423,200 427,204 431,209 435,213 439,218 444,222 448,226 453,229 455,230M244,75 247,80 251,85 254,90 258,95 262,99 266,103 271,106 276,109 281,113 286,116 291,120 296,123 302,125 308,127 314,127 318,127M118,514 124,514 130,514 136,514 142,513 148,512 153,511 159,509 165,507 170,505 176,503 182,501 188,500 193,499 199,499 205,500 209,501M128,538 134,538 140,537 146,535 152,533 157,531 163,529 169,527 174,526 180,525 186,525 192,526 198,528 203,531 209,534 214,536 220,538 226,539 232,540 237,542 243,543 249,544 255,546 261,547 267,548 273,548 279,547 285,546 290,544 296,543 302,541 308,540 314,539 316,539M225,555 230,558 235,562 240,565 245,568 250,571 256,572 262,573 268,573 274,573 280,573 286,573 292,574 298,576 303,579 308,582 313,585 318,588 324,590 330,592 336,593 342,594 347,595 353,596 359,597 365,597 371,596 377,595 383,593 388,590 393,586 397,582 402,578 406,574 411,570 415,566 420,563 425,559 430,556 435,553 440,550 446,548 451,546 457,544 463,542 469,541 475,541 481,541 487,542 493,544 498,546 504,548 510,549 516,549 522,548 527,546 533,543 538,540 542,536 546,531 550,526 553,521 556,516 558,510 560,507M548,552 553,549 558,546 563,542 567,538 571,534 575,530 579,525 582,520 585,515 589,510 592,505 595,500 599,495M425,515 430,513 435,510 441,507 446,504 451,501 456,497 460,494 465,490 470,487 476,484 481,481 487,479 492,477 498,475 504,474 510,472 515,470 521,469 527,467 532,465 538,463 544,461 549,459 555,457 561,455 566,453 572,450 577,447 582,445 587,441 592,438 597,434 601,429 605,425 606,423M146,556 151,557 157,560 162,563 167,566 172,570 177,573 181,577 186,581 191,584 195,588 199,593 203,598 207,602 212,606 217,609 222,611 228,612 234,612 240,612 246,612 252,613 258,614 264,616 269,618 275,621 281,623 286,624 292,625 298,627 304,628 310,629 316,631 321,633 327,635 333,637 339,638 345,638 350,637 356,635 362,633 367,631 373,628 378,625 384,623 389,620 394,617 399,614 405,612 410,609 416,606 421,604 427,602 433,601 439,600 445,599 451,598 456,597 462,596 468,595 474,593 479,591 485,589 490,586 496,583 501,580 506,578 512,575 517,572 523,570 528,567 533,565 535,564M412,627 418,628 424,629 430,629 436,630 442,630 448,630 454,630 460,630 466,631 472,631 478,631 484,631 490,631 496,630 502,628 507,625 512,622 517,618 521,614 525,610 530,605 534,601 538,597 543,593 547,589 552,586 557,583 563,580 568,577 573,574 579,572M242,643 248,643 254,643 260,642 266,642 272,641 278,640 284,639M261,661 267,659 273,658 279,658 285,658 291,659 297,660 303,661 309,662 315,662 321,661 326,660 332,658 338,655 339,654M329,689 334,687 340,684 345,682 351,679 356,676 361,673 366,670 371,667 377,664 382,662 388,659 393,658 399,656 405,654 411,653 417,652 423,651 429,651 435,651 441,651 447,652 453,653 458,654 464,656 470,657 476,657 482,657 488,655 493,653 499,651 504,648 509,645 514,641 519,637 523,633 524,632M386,694 392,692 397,689 402,686 408,684 414,682 420,681 425,680 431,680 437,680 443,681 449,681 455,680 461,678 467,676 472,674 474,673M117,214 123,216 129,216 131,216M151,245 157,245 163,244 169,244 173,243M159,263 164,265 168,266M171,286 176,289 181,291 187,294 189,295M180,308 175,313 174,314M190,330 191,324 192,318 193,312 194,308M202,340 202,334 201,330M216,348 217,354 218,358M237,355 232,359 229,361M251,355 255,359 260,363 261,364M268,358 267,352 266,348M306,379 308,385 310,390M318,380 322,385 326,389M334,380 339,384 344,387 347,389M358,376 355,382 354,384M398,359 404,361 409,363 415,366 416,367M441,355 436,358 431,361 427,363M470,357 474,352 476,346 477,345M482,352 487,355 492,358 496,360M502,339 502,333 502,329M528,310 523,312 521,313M556,299 552,295 549,293M574,300 571,295 567,290M134,183 128,182 122,180M154,196 160,195 164,195M246,286 243,291 240,296 239,302 239,304M275,291 281,290 285,289M341,328 346,332 350,336M355,327 358,321 361,316 364,314M386,319 382,314 380,311M431,327 428,322 426,317 424,311M107,260 107,266 109,272 113,277 115,280M156,303 162,305 166,306M167,329 163,333 159,338 158,339M169,353 173,357 179,360 184,362 186,363M180,384 182,379 183,375M209,393 205,389 202,387M223,392 227,397 229,400M261,407 267,405 273,403 279,402M271,410 273,416 274,420M290,415 285,419 284,420M347,409 344,414 343,420 343,422M363,403 365,397 366,391 366,387M450,398 445,395 439,393 433,393 429,392M462,389 467,391 469,392M473,378 467,379 465,379M478,398 477,392 477,390M529,361 531,356 533,350 533,348M590,348 595,351 600,354 602,355M396,300 393,305 392,307M410,298 406,302 405,304M437,303 442,299 445,295M449,307 451,313 452,318M472,312 467,316 464,318M443,122 449,125 454,127M466,146 461,149 456,152 454,153M480,157 486,159 490,160M488,169 482,169 476,171 471,173M497,179 496,173 496,170M504,187 505,181 506,179M511,197 516,199 522,201 525,203M515,210 511,214 507,219 505,220M518,228 513,225 511,223M530,250 529,256 527,260M552,279 558,278 564,277 567,276M161,172 167,172 173,174 179,175M165,127 159,128 155,128M191,151 192,157 193,163 196,168 199,171M205,168 206,162 207,156 208,152M219,197 214,195 212,195M224,206 229,208 234,211 239,215 241,218M230,213 230,219 231,225 231,229M239,221 239,227 239,229M257,235 256,229 253,223 252,222M303,240 299,245 297,248M391,255 386,252 382,251M401,253 406,256 412,259M421,248 415,245 414,244M470,259 470,265 470,271 470,277 470,279M488,274 485,269 483,265M502,283 507,280 512,276 516,272 518,271M246,249 246,255 247,259M273,258 270,262 266,267 264,268M289,259 294,255 296,254M309,269 308,263 307,257 307,253M317,275 322,274 326,272M325,280 331,279 333,278M351,296 350,290 349,284 348,278M126,317 120,318 114,319 108,319M134,330 138,325 140,320 140,318M131,358 134,363 136,369 137,370M128,389 123,386 120,384M134,399 129,401 127,401M147,406 141,409 136,412 132,415 128,418M176,412 181,415 186,417 192,418 194,418M104,422 110,419 115,417 117,416M135,436 136,442 139,447 142,452 145,455M151,442 155,438 158,433 162,428M180,437 186,439 188,439M197,430 199,425 199,423M211,428 207,423 205,422M223,427 226,422 230,417 231,416M267,431 269,436 272,441 273,443M296,434 293,430 291,428M208,451 213,448 218,445M223,453 227,449 230,446M268,474 267,468 268,462 269,457 269,455M311,469 312,463 314,457 317,452 318,450M328,454 333,455 339,456 345,456M342,440 336,440 330,441 326,443M368,431 371,436 373,439M398,435 401,440 405,444M427,434 431,439 434,444 435,448M459,431 465,433 467,434M469,428 464,425 462,424M500,407 501,413 501,417M515,391 516,397 517,399M522,409 523,403 523,401M536,397 542,397 548,397 554,398 556,398M587,382 583,387 581,390M340,78 342,84 346,89 350,93M361,89 361,83 360,81M377,104 375,110 371,115 370,116M381,114 383,108 383,106M387,126 387,120 387,118M393,134 392,128 392,126M400,144 400,138 400,136M420,169 419,175 418,181 418,183M440,177 442,183 443,189M456,185 462,186 468,186 470,186M467,197 461,197 459,197M521,171 518,176 517,178M535,195 529,194 527,194M556,233 555,238 554,242M213,107 211,101 207,96 206,95M233,119 228,121 223,124 218,128 215,130M247,127 253,125 259,123 263,122M266,141 266,135 266,133M274,150 280,149 285,146M288,159 282,161 276,162 270,163 266,164M325,172 325,178 326,182M360,208 363,203 365,197M366,219 367,213 366,211M239,155 233,154 228,152 222,151M243,173 248,177 252,181 256,185 257,187M252,195 251,201 250,207 249,208M271,209 271,203 271,197M102,365 96,363 92,362M112,397 111,403 109,407M109,466 109,460 109,454 111,448 112,445M181,480 185,476 189,471 191,468M244,509 249,506 255,504 261,504 263,504M269,515 273,510 277,506 281,501 282,499M302,522 307,518 311,514 312,512M344,533 343,527 340,522 335,518 333,518M358,541 355,536 354,534M389,541 391,535 392,529 392,523 392,521M399,538 395,543 394,545M416,534 418,529 419,527M428,532 431,527 432,525M444,530 449,533 450,535M510,507 512,501 514,498M528,498 533,500 539,502 541,503M576,473 578,468 580,462 584,457M339,494 344,497 349,501 354,503 356,504M372,498 370,493 369,489M410,505 416,508 418,509M429,491 430,497 431,499M458,455 459,461 460,467M467,448 461,448 457,447M351,468 354,463 358,458 362,454 365,451M380,459 383,454 387,449M497,444 501,440 504,435 506,431M537,444 541,440 545,436 549,431 551,430M583,417 589,416 595,415 597,415M589,409 595,409 597,408M292,78 292,84 291,90 291,94M303,90 309,89 315,87 321,86M315,101 314,107 314,113 314,115M331,109 336,106 342,104 344,104M426,203 425,197 425,193M450,227 455,225 461,223 466,220 468,219M252,86 250,92 248,98 248,104M262,99 256,99 254,99M281,113 276,115 272,116M300,125 297,119 295,114 292,108M159,509 156,514 154,517M191,499 197,502 202,503 204,504M134,538 139,541 144,545M152,533 157,536 163,537 169,539M178,525 183,528 188,532 193,536 194,537M234,541 238,536 241,532 243,528M265,548 267,553 270,559M279,547 276,552 275,554M290,544 285,541 280,538 275,535M230,558 229,552 228,550M245,568 250,566 256,564M256,572 252,577 250,583 250,589 250,591M266,573 262,569 260,568M299,577 301,583 303,588 304,594 305,598M324,590 329,586 333,582 337,578 339,576M355,596 358,602 361,607M425,559 419,558 413,556 408,554 406,553M453,545 457,540 458,539M473,541 469,536 468,534M502,547 499,542 496,537 494,533M552,523 557,520 562,517 567,514M571,534 565,534 559,534M583,518 585,524 587,530 588,534M592,505 586,507 581,509 579,510M437,509 443,510 449,510 455,509 457,509M446,504 440,501 438,501M476,484 478,479 480,475M488,478 490,473 491,467 491,461M506,473 507,467 509,462 511,456 512,454M525,468 519,466 517,465M536,464 538,458 540,455M557,456 562,460 567,464M572,450 575,445 578,440 579,438M166,565 172,564 177,564 183,562M180,576 180,582 181,584M248,613 253,609 258,606M290,625 294,630 296,633M327,635 322,639 317,642 315,643M391,619 396,620 402,620M437,600 433,596 430,590M451,598 448,604 444,609M476,592 478,587 479,583M515,573 517,567 518,562M446,630 443,635 441,638M520,615 526,614 531,613 533,612M541,594 541,588 540,582M559,582 557,587 555,593M570,576 565,573 559,570 558,569M260,642 263,647 264,649M276,640 271,645 270,646M313,662 316,657 317,655M330,658 335,662 340,665 345,668M384,661 387,656 389,650 392,645 393,641M413,653 409,648 406,643 405,641M423,651 426,646 429,641M495,653 493,658 489,663 488,664M397,689 403,690 409,691 411,691M412,683 406,680 401,678 399,677M437,680 434,675 431,670 427,666 426,664" stroke="#5f7698" stroke-width="9.5"/>
</g>
<rect x="35" y="34" width="620" height="696" filter="url(#hs)" style="mix-blend-mode:soft-light" opacity="0.45"/>
</g>
<g stroke="#111" stroke-width="1.05">
<circle cx="299.5" cy="377.0" r="2.95" fill="#f4ae32"/>
<circle cx="420.5" cy="196.3" r="2.95" fill="#f4ae32"/>
<circle cx="385.1" cy="212.8" r="2.95" fill="#f0641e"/>
<circle cx="198.4" cy="231.0" r="2.95" fill="#f4ae32"/>
<circle cx="289.6" cy="230.3" r="2.95" fill="#f0641e"/>
<circle cx="501.3" cy="426.7" r="2.95" fill="#e4f83c"/>
<circle cx="569.1" cy="381.4" r="2.95" fill="#e4f83c"/>
<circle cx="358.2" cy="298.1" r="2.95" fill="#e4f83c"/>
<circle cx="457.5" cy="328.5" r="2.95" fill="#f4ae32"/>
<circle cx="453.9" cy="260.2" r="2.95" fill="#e4f83c"/>
<circle cx="493.9" cy="395.4" r="2.95" fill="#f4ae32"/>
<circle cx="342.6" cy="337.1" r="2.95" fill="#e4f83c"/>
<circle cx="312.5" cy="217.2" r="2.95" fill="#f4ae32"/>
<circle cx="516.3" cy="451.5" r="2.95" fill="#f4ae32"/>
<circle cx="411.8" cy="208.5" r="2.95" fill="#f4ae32"/>
<circle cx="490.3" cy="158.9" r="2.95" fill="#f4ae32"/>
<circle cx="444.4" cy="265.5" r="2.95" fill="#e4f83c"/>
<circle cx="506.2" cy="435.1" r="2.95" fill="#e4f83c"/>
<circle cx="534.3" cy="431.8" r="2.95" fill="#e4f83c"/>
<circle cx="423.6" cy="255.7" r="2.95" fill="#f4ae32"/>
<circle cx="586.0" cy="427.4" r="2.95" fill="#e4f83c"/>
<circle cx="302.0" cy="238.0" r="2.95" fill="#e4f83c"/>
<circle cx="384.1" cy="367.0" r="2.95" fill="#e4f83c"/>
<circle cx="237.7" cy="284.0" r="2.95" fill="#f4ae32"/>
<circle cx="521.5" cy="275.7" r="2.95" fill="#e4f83c"/>
<circle cx="462.0" cy="324.7" r="2.95" fill="#e4f83c"/>
<circle cx="398.1" cy="338.7" r="2.95" fill="#f4ae32"/>
<circle cx="418.3" cy="190.1" r="2.95" fill="#e4f83c"/>
<circle cx="549.9" cy="522.8" r="2.95" fill="#e4f83c"/>
<circle cx="590.9" cy="463.4" r="2.95" fill="#f4ae32"/>
<circle cx="303.0" cy="209.6" r="2.95" fill="#f4ae32"/>
<circle cx="349.5" cy="204.4" r="2.95" fill="#e4f83c"/>
<circle cx="519.6" cy="446.4" r="2.95" fill="#e4f83c"/>
<circle cx="346.9" cy="351.4" r="2.95" fill="#f4ae32"/>
<circle cx="331.1" cy="204.3" r="2.95" fill="#f4ae32"/>
<circle cx="379.9" cy="344.4" r="2.95" fill="#f4ae32"/>
<circle cx="121.2" cy="340.4" r="2.95" fill="#f0641e"/>
<circle cx="410.9" cy="225.6" r="2.95" fill="#f4ae32"/>
<circle cx="538.9" cy="495.3" r="2.95" fill="#f4ae32"/>
<circle cx="510.2" cy="421.6" r="2.95" fill="#e4f83c"/>
<circle cx="352.6" cy="397.7" r="2.95" fill="#e4f83c"/>
<circle cx="499.1" cy="451.1" r="2.95" fill="#e4f83c"/>
<circle cx="536.5" cy="459.6" r="2.95" fill="#e4f83c"/>
<circle cx="539.8" cy="435.2" r="2.95" fill="#e4f83c"/>
<circle cx="566.6" cy="523.1" r="2.95" fill="#f4ae32"/>
<circle cx="382.1" cy="175.8" r="2.95" fill="#f4ae32"/>
<circle cx="305.8" cy="213.6" r="2.95" fill="#f4ae32"/>
<circle cx="320.1" cy="211.7" r="2.95" fill="#f4ae32"/>
<circle cx="234.5" cy="270.8" r="2.95" fill="#e4f83c"/>
<circle cx="369.5" cy="348.5" r="2.95" fill="#e4f83c"/>
<circle cx="357.6" cy="216.0" r="2.95" fill="#f0641e"/>
<circle cx="479.6" cy="251.2" r="2.95" fill="#f0641e"/>
<circle cx="422.9" cy="189.1" r="2.95" fill="#e4f83c"/>
<circle cx="480.8" cy="166.1" r="2.95" fill="#e4f83c"/>
<circle cx="513.6" cy="416.2" r="2.95" fill="#e4f83c"/>
<circle cx="447.0" cy="219.2" r="2.95" fill="#e4f83c"/>
<circle cx="603.6" cy="437.4" r="2.95" fill="#e4f83c"/>
<circle cx="358.9" cy="192.8" r="2.95" fill="#e4f83c"/>
<circle cx="328.9" cy="232.3" r="2.95" fill="#f4ae32"/>
<circle cx="550.6" cy="517.7" r="2.95" fill="#e4f83c"/>
<circle cx="202.6" cy="220.8" r="2.95" fill="#e4f83c"/>
<circle cx="160.5" cy="206.1" r="2.95" fill="#e4f83c"/>
<circle cx="450.3" cy="254.3" r="2.95" fill="#e4f83c"/>
<circle cx="411.1" cy="226.2" r="2.95" fill="#f4ae32"/>
<circle cx="509.7" cy="308.1" r="2.95" fill="#e4f83c"/>
<circle cx="543.7" cy="460.9" r="2.95" fill="#f4ae32"/>
<circle cx="555.4" cy="454.0" r="2.95" fill="#f4ae32"/>
<circle cx="522.7" cy="420.8" r="2.95" fill="#f4ae32"/>
<circle cx="497.0" cy="298.1" r="2.95" fill="#e4f83c"/>
<circle cx="574.0" cy="431.2" r="2.95" fill="#f4ae32"/>
<circle cx="277.3" cy="305.4" r="2.95" fill="#e4f83c"/>
<circle cx="587.4" cy="465.3" r="2.95" fill="#e4f83c"/>
<circle cx="398.6" cy="211.7" r="2.95" fill="#f4ae32"/>
<circle cx="524.8" cy="477.0" r="2.95" fill="#e4f83c"/>
<circle cx="447.7" cy="297.7" r="2.95" fill="#f4ae32"/>
<circle cx="510.4" cy="377.6" r="2.95" fill="#f4ae32"/>
<circle cx="536.8" cy="281.9" r="2.95" fill="#f4ae32"/>
<circle cx="282.2" cy="346.3" r="2.95" fill="#e4f83c"/>
<circle cx="277.2" cy="240.9" r="2.95" fill="#e4f83c"/>
<circle cx="374.6" cy="341.3" r="2.95" fill="#e4f83c"/>
<circle cx="419.7" cy="252.9" r="2.95" fill="#f4ae32"/>
<circle cx="430.4" cy="261.5" r="2.95" fill="#f0641e"/>
<circle cx="589.4" cy="448.7" r="2.95" fill="#e4f83c"/>
<circle cx="404.6" cy="291.7" r="2.95" fill="#e4f83c"/>
<circle cx="521.7" cy="263.3" r="2.95" fill="#e4f83c"/>
<circle cx="432.9" cy="113.4" r="2.95" fill="#f0641e"/>
<circle cx="338.7" cy="353.4" r="2.95" fill="#e4f83c"/>
<circle cx="452.4" cy="459.8" r="2.95" fill="#e4f83c"/>
<circle cx="391.0" cy="442.8" r="2.95" fill="#e4f83c"/>
<circle cx="196.5" cy="228.7" r="2.95" fill="#f4ae32"/>
<circle cx="308.0" cy="296.1" r="2.95" fill="#e4f83c"/>
<circle cx="535.0" cy="526.2" r="2.95" fill="#f4ae32"/>
<circle cx="366.2" cy="343.5" r="2.95" fill="#f4ae32"/>
<circle cx="446.7" cy="163.5" r="2.95" fill="#f4ae32"/>
<circle cx="553.1" cy="450.8" r="2.95" fill="#f4ae32"/>
<circle cx="329.1" cy="246.0" r="2.95" fill="#e4f83c"/>
<circle cx="488.3" cy="304.4" r="2.95" fill="#e4f83c"/>
<circle cx="412.4" cy="414.6" r="2.95" fill="#e4f83c"/>
<circle cx="544.2" cy="402.5" r="2.95" fill="#e4f83c"/>
<circle cx="272.2" cy="194.6" r="2.95" fill="#e4f83c"/>
<circle cx="362.1" cy="203.5" r="2.95" fill="#e4f83c"/>
<circle cx="460.4" cy="182.2" r="2.95" fill="#e4f83c"/>
<circle cx="409.7" cy="259.3" r="2.95" fill="#e4f83c"/>
<circle cx="350.4" cy="207.5" r="2.95" fill="#e4f83c"/>
<circle cx="592.2" cy="416.1" r="2.95" fill="#e4f83c"/>
<circle cx="438.2" cy="212.2" r="2.95" fill="#f4ae32"/>
<circle cx="538.9" cy="325.4" r="2.95" fill="#e4f83c"/>
<circle cx="532.2" cy="441.5" r="2.95" fill="#e4f83c"/>
<circle cx="295.8" cy="218.0" r="2.95" fill="#e4f83c"/>
<circle cx="334.8" cy="378.3" r="2.95" fill="#e4f83c"/>
<circle cx="570.9" cy="522.4" r="2.95" fill="#f4ae32"/>
<circle cx="345.0" cy="401.3" r="2.95" fill="#e4f83c"/>
<circle cx="420.9" cy="334.5" r="2.95" fill="#e4f83c"/>
<circle cx="305.4" cy="368.0" r="2.95" fill="#f4ae32"/>
<circle cx="583.3" cy="437.6" r="2.95" fill="#f4ae32"/>
<circle cx="413.1" cy="250.9" r="2.95" fill="#f4ae32"/>
<circle cx="307.8" cy="215.7" r="2.95" fill="#f0641e"/>
<circle cx="570.5" cy="419.4" r="2.95" fill="#e4f83c"/>
<circle cx="320.4" cy="347.6" r="2.95" fill="#f4ae32"/>
<circle cx="375.7" cy="220.9" r="2.95" fill="#e4f83c"/>
<circle cx="299.5" cy="236.9" r="2.95" fill="#e4f83c"/>
<circle cx="232.8" cy="272.0" r="2.95" fill="#f4ae32"/>
<circle cx="479.0" cy="478.3" r="2.95" fill="#e4f83c"/>
<circle cx="403.4" cy="229.7" r="2.95" fill="#e4f83c"/>
<circle cx="198.7" cy="332.1" r="2.95" fill="#e4f83c"/>
<circle cx="410.4" cy="353.9" r="2.95" fill="#e4f83c"/>
<circle cx="453.2" cy="207.8" r="2.95" fill="#e4f83c"/>
<circle cx="506.9" cy="256.1" r="2.95" fill="#e4f83c"/>
<circle cx="306.4" cy="231.7" r="2.95" fill="#f4ae32"/>
<circle cx="288.6" cy="227.4" r="2.95" fill="#e41e1e"/>
<circle cx="361.3" cy="306.4" r="2.95" fill="#e41e1e"/>
<circle cx="333.0" cy="340.8" r="2.95" fill="#f4ae32"/>
<circle cx="205.1" cy="249.1" r="2.95" fill="#f4ae32"/>
<circle cx="470.0" cy="324.5" r="2.95" fill="#f4ae32"/>
<circle cx="399.5" cy="208.6" r="2.95" fill="#f0641e"/>
<circle cx="429.6" cy="198.2" r="2.95" fill="#f4ae32"/>
<circle cx="317.0" cy="239.1" r="2.95" fill="#e4f83c"/>
<circle cx="395.3" cy="326.3" r="2.95" fill="#f4ae32"/>
<circle cx="489.4" cy="286.3" r="2.95" fill="#e4f83c"/>
<circle cx="386.5" cy="215.8" r="2.95" fill="#f4ae32"/>
<circle cx="470.5" cy="304.1" r="2.95" fill="#f4ae32"/>
<circle cx="307.8" cy="369.0" r="2.95" fill="#f0641e"/>
<circle cx="503.4" cy="200.8" r="2.95" fill="#e4f83c"/>
<circle cx="301.1" cy="362.6" r="2.95" fill="#f4ae32"/>
<circle cx="436.9" cy="259.7" r="2.95" fill="#e4f83c"/>
<circle cx="477.2" cy="203.8" r="2.95" fill="#e4f83c"/>
<circle cx="341.5" cy="311.7" r="2.95" fill="#f4ae32"/>
<circle cx="402.5" cy="206.4" r="2.95" fill="#e41e1e"/>
<circle cx="506.8" cy="423.4" r="2.95" fill="#e4f83c"/>
<circle cx="450.4" cy="240.8" r="2.95" fill="#f4ae32"/>
<circle cx="470.3" cy="326.2" r="2.95" fill="#e4f83c"/>
<circle cx="459.5" cy="236.3" r="2.95" fill="#e4f83c"/>
<circle cx="475.4" cy="162.0" r="2.95" fill="#e4f83c"/>
<circle cx="546.3" cy="318.5" r="2.95" fill="#f0641e"/>
<circle cx="568.7" cy="305.0" r="2.95" fill="#e4f83c"/>
<circle cx="451.9" cy="206.6" r="2.95" fill="#f4ae32"/>
<circle cx="460.2" cy="272.2" r="2.95" fill="#e4f83c"/>
<circle cx="315.9" cy="331.8" r="2.95" fill="#f4ae32"/>
<circle cx="304.6" cy="241.7" r="2.95" fill="#e4f83c"/>
<circle cx="503.2" cy="389.7" r="2.95" fill="#e4f83c"/>
<circle cx="485.3" cy="270.6" r="2.95" fill="#e4f83c"/>
<circle cx="571.9" cy="423.2" r="2.95" fill="#e4f83c"/>
<circle cx="301.0" cy="365.9" r="2.95" fill="#f4ae32"/>
<circle cx="316.5" cy="321.6" r="2.95" fill="#e4f83c"/>
<circle cx="349.2" cy="244.9" r="2.95" fill="#e4f83c"/>
<circle cx="458.2" cy="155.8" r="2.95" fill="#f4ae32"/>
<circle cx="526.6" cy="424.6" r="2.95" fill="#e4f83c"/>
<circle cx="332.7" cy="234.8" r="2.95" fill="#f4ae32"/>
<circle cx="231.8" cy="238.7" r="2.95" fill="#f4ae32"/>
<circle cx="572.3" cy="448.0" r="2.95" fill="#f4ae32"/>
<circle cx="435.0" cy="216.6" r="2.95" fill="#f4ae32"/>
<circle cx="370.4" cy="229.9" r="2.95" fill="#f4ae32"/>
<circle cx="436.1" cy="236.9" r="2.95" fill="#e41e1e"/>
<circle cx="457.6" cy="338.0" r="2.95" fill="#e4f83c"/>
<circle cx="449.8" cy="201.8" r="2.95" fill="#f4ae32"/>
<circle cx="413.9" cy="409.2" r="2.95" fill="#e4f83c"/>
<circle cx="417.5" cy="258.0" r="2.95" fill="#f4ae32"/>
<circle cx="502.6" cy="434.0" r="2.95" fill="#f4ae32"/>
<circle cx="338.2" cy="201.2" r="2.95" fill="#f4ae32"/>
<circle cx="438.0" cy="251.1" r="2.95" fill="#e4f83c"/>
<circle cx="478.1" cy="289.1" r="2.95" fill="#f0641e"/>
<circle cx="322.6" cy="292.1" r="2.95" fill="#e4f83c"/>
<circle cx="285.5" cy="435.7" r="2.95" fill="#e4f83c"/>
<circle cx="536.5" cy="293.0" r="2.95" fill="#f4ae32"/>
<circle cx="320.8" cy="230.4" r="2.95" fill="#f4ae32"/>
<circle cx="566.5" cy="442.7" r="2.95" fill="#e4f83c"/>
<circle cx="209.0" cy="256.1" r="2.95" fill="#f4ae32"/>
<circle cx="471.5" cy="177.5" r="2.95" fill="#e4f83c"/>
<circle cx="561.9" cy="284.9" r="2.95" fill="#e4f83c"/>
<circle cx="528.3" cy="444.6" r="2.95" fill="#e4f83c"/>
<circle cx="200.3" cy="240.2" r="2.95" fill="#f0641e"/>
<circle cx="119.0" cy="250.0" r="2.95" fill="#e41e1e"/>
<circle cx="475.2" cy="306.5" r="2.95" fill="#f4ae32"/>
<circle cx="271.0" cy="295.0" r="2.95" fill="#e4f83c"/>
<circle cx="407.4" cy="196.4" r="2.95" fill="#f0641e"/>
<circle cx="333.6" cy="235.3" r="2.95" fill="#e4f83c"/>
<circle cx="518.3" cy="413.5" r="2.95" fill="#e4f83c"/>
<circle cx="445.5" cy="257.3" r="2.95" fill="#f4ae32"/>
<circle cx="520.0" cy="408.3" r="2.95" fill="#f4ae32"/>
<circle cx="285.9" cy="336.6" r="2.95" fill="#f4ae32"/>
<circle cx="313.8" cy="180.3" r="2.95" fill="#e4f83c"/>
<circle cx="338.4" cy="197.2" r="2.95" fill="#e4f83c"/>
<circle cx="430.8" cy="257.7" r="2.95" fill="#e4f83c"/>
<circle cx="515.5" cy="236.9" r="2.95" fill="#f4ae32"/>
<circle cx="426.8" cy="224.3" r="2.95" fill="#e4f83c"/>
<circle cx="361.2" cy="191.5" r="2.95" fill="#f4ae32"/>
<circle cx="303.4" cy="221.2" r="2.95" fill="#f4ae32"/>
<circle cx="290.8" cy="314.0" r="2.95" fill="#f4ae32"/>
<circle cx="499.9" cy="199.5" r="2.95" fill="#e4f83c"/>
<circle cx="392.2" cy="365.9" r="2.95" fill="#f4ae32"/>
<circle cx="380.3" cy="115.5" r="2.95" fill="#e4f83c"/>
<circle cx="299.9" cy="195.9" r="2.95" fill="#e4f83c"/>
<circle cx="546.3" cy="474.6" r="2.95" fill="#e4f83c"/>
<circle cx="360.4" cy="350.4" r="2.95" fill="#e4f83c"/>
<circle cx="292.0" cy="287.2" r="2.95" fill="#e4f83c"/>
<circle cx="547.1" cy="438.2" r="2.95" fill="#e4f83c"/>
<circle cx="531.8" cy="315.6" r="2.95" fill="#f0641e"/>
<circle cx="354.5" cy="372.9" r="2.95" fill="#e4f83c"/>
<circle cx="381.2" cy="216.3" r="2.95" fill="#e4f83c"/>
<circle cx="439.7" cy="267.6" r="2.95" fill="#e4f83c"/>
<circle cx="459.6" cy="432.2" r="2.95" fill="#e4f83c"/>
<circle cx="534.0" cy="451.0" r="2.95" fill="#e4f83c"/>
<circle cx="423.6" cy="205.9" r="2.95" fill="#f4ae32"/>
<circle cx="406.0" cy="221.8" r="2.95" fill="#e4f83c"/>
<circle cx="534.7" cy="288.3" r="2.95" fill="#e4f83c"/>
<circle cx="585.1" cy="431.0" r="2.95" fill="#f0641e"/>
<circle cx="508.4" cy="413.8" r="2.95" fill="#e4f83c"/>
<circle cx="300.5" cy="201.0" r="2.95" fill="#f4ae32"/>
<circle cx="537.4" cy="477.3" r="2.95" fill="#e4f83c"/>
<circle cx="429.7" cy="204.1" r="2.95" fill="#e4f83c"/>
<circle cx="211.5" cy="396.8" r="2.95" fill="#f4ae32"/>
<circle cx="366.8" cy="186.1" r="2.95" fill="#f0641e"/>
<circle cx="454.8" cy="388.5" r="2.95" fill="#e4f83c"/>
<circle cx="433.3" cy="246.5" r="2.95" fill="#f4ae32"/>
<circle cx="289.9" cy="311.2" r="2.95" fill="#e4f83c"/>
<circle cx="378.1" cy="370.0" r="2.95" fill="#e4f83c"/>
<circle cx="416.1" cy="283.7" r="2.95" fill="#e4f83c"/>
<circle cx="551.4" cy="312.0" r="2.95" fill="#e4f83c"/>
<circle cx="523.6" cy="469.1" r="2.95" fill="#f4ae32"/>
<circle cx="379.2" cy="403.2" r="2.95" fill="#e4f83c"/>
<circle cx="526.8" cy="424.6" r="2.95" fill="#f4ae32"/>
<circle cx="587.2" cy="411.6" r="2.95" fill="#f4ae32"/>
<circle cx="266.1" cy="194.7" r="2.95" fill="#e4f83c"/>
<circle cx="464.4" cy="262.0" r="2.95" fill="#f4ae32"/>
<circle cx="495.1" cy="266.6" r="2.95" fill="#e4f83c"/>
<circle cx="474.6" cy="406.0" r="2.95" fill="#e4f83c"/>
<circle cx="562.1" cy="547.9" r="2.95" fill="#e4f83c"/>
<circle cx="385.6" cy="429.4" r="2.95" fill="#f4ae32"/>
<circle cx="316.7" cy="362.1" r="2.95" fill="#e4f83c"/>
<circle cx="404.2" cy="214.4" r="2.95" fill="#e4f83c"/>
<circle cx="347.3" cy="318.8" r="2.95" fill="#f0641e"/>
<circle cx="392.1" cy="204.0" r="2.95" fill="#e4f83c"/>
<circle cx="565.5" cy="444.8" r="2.95" fill="#f4ae32"/>
<circle cx="567.1" cy="379.2" r="2.95" fill="#e41e1e"/>
<circle cx="300.6" cy="375.7" r="2.95" fill="#e4f83c"/>
<circle cx="441.8" cy="242.8" r="2.95" fill="#e4f83c"/>
<circle cx="219.1" cy="340.1" r="2.95" fill="#e41e1e"/>
<circle cx="463.8" cy="132.0" r="2.95" fill="#e4f83c"/>
<circle cx="433.2" cy="261.8" r="2.95" fill="#e41e1e"/>
<circle cx="519.5" cy="255.6" r="2.95" fill="#e41e1e"/>
<circle cx="299.7" cy="309.2" r="2.95" fill="#f4ae32"/>
<circle cx="348.0" cy="333.7" r="2.95" fill="#e4f83c"/>
<circle cx="167.4" cy="212.1" r="2.95" fill="#f4ae32"/>
<circle cx="427.3" cy="348.8" r="2.95" fill="#e4f83c"/>
<circle cx="473.6" cy="185.0" r="2.95" fill="#e4f83c"/>
<circle cx="423.0" cy="203.9" r="2.95" fill="#e4f83c"/>
<circle cx="313.7" cy="334.8" r="2.95" fill="#e4f83c"/>
<circle cx="406.4" cy="199.8" r="2.95" fill="#f4ae32"/>
<circle cx="563.0" cy="383.4" r="2.95" fill="#e4f83c"/>
<circle cx="470.3" cy="174.1" r="2.95" fill="#f4ae32"/>
<circle cx="456.0" cy="195.3" r="2.95" fill="#e4f83c"/>
<circle cx="417.9" cy="151.5" r="2.95" fill="#e4f83c"/>
<circle cx="397.7" cy="209.9" r="2.95" fill="#e4f83c"/>
<circle cx="316.9" cy="228.1" r="2.95" fill="#e4f83c"/>
<circle cx="574.3" cy="431.0" r="2.95" fill="#f4ae32"/>
<circle cx="382.5" cy="225.1" r="2.95" fill="#f4ae32"/>
<circle cx="374.0" cy="154.8" r="2.95" fill="#f4ae32"/>
<circle cx="571.0" cy="505.7" r="2.95" fill="#e4f83c"/>
<circle cx="264.4" cy="229.0" r="2.95" fill="#f4ae32"/>
<circle cx="515.7" cy="229.4" r="2.95" fill="#e4f83c"/>
<circle cx="323.1" cy="218.4" r="2.95" fill="#f4ae32"/>
<circle cx="557.2" cy="403.4" r="2.95" fill="#f4ae32"/>
<circle cx="466.0" cy="202.5" r="2.95" fill="#f4ae32"/>
<circle cx="566.7" cy="337.0" r="2.95" fill="#e4f83c"/>
<circle cx="557.4" cy="525.8" r="2.95" fill="#f4ae32"/>
<circle cx="435.4" cy="198.9" r="2.95" fill="#e4f83c"/>
<circle cx="309.2" cy="193.6" r="2.95" fill="#f4ae32"/>
<circle cx="494.0" cy="462.3" r="2.95" fill="#f4ae32"/>
<circle cx="584.8" cy="428.2" r="2.95" fill="#e4f83c"/>
<circle cx="467.2" cy="157.3" r="2.95" fill="#f4ae32"/>
<circle cx="433.6" cy="328.0" r="2.95" fill="#f0641e"/>
<circle cx="395.7" cy="425.0" r="2.95" fill="#e4f83c"/>
<circle cx="550.2" cy="486.1" r="2.95" fill="#e4f83c"/>
<circle cx="403.4" cy="446.9" r="2.95" fill="#e4f83c"/>
<circle cx="588.8" cy="423.5" r="2.95" fill="#e4f83c"/>
<circle cx="416.3" cy="465.9" r="2.95" fill="#e41e1e"/>
<circle cx="373.3" cy="304.3" r="2.95" fill="#e4f83c"/>
<circle cx="298.4" cy="226.7" r="2.95" fill="#e4f83c"/>
<circle cx="427.2" cy="207.9" r="2.95" fill="#f4ae32"/>
<circle cx="603.1" cy="413.4" r="2.95" fill="#f0641e"/>
<circle cx="255.7" cy="335.2" r="2.95" fill="#f4ae32"/>
<circle cx="396.0" cy="167.9" r="2.95" fill="#f4ae32"/>
<circle cx="320.5" cy="199.5" r="2.95" fill="#e4f83c"/>
<circle cx="315.9" cy="336.5" r="2.95" fill="#e4f83c"/>
<circle cx="582.7" cy="420.7" r="2.95" fill="#e4f83c"/>
<circle cx="550.7" cy="305.4" r="2.95" fill="#f4ae32"/>
<circle cx="335.8" cy="338.9" r="2.95" fill="#e4f83c"/>
<circle cx="464.2" cy="224.4" r="2.95" fill="#f4ae32"/>
<circle cx="383.8" cy="173.7" r="2.95" fill="#e4f83c"/>
<circle cx="436.0" cy="227.7" r="2.95" fill="#f4ae32"/>
<circle cx="464.2" cy="166.4" r="2.95" fill="#e4f83c"/>
<circle cx="505.9" cy="420.6" r="2.95" fill="#e41e1e"/>
<circle cx="494.8" cy="425.8" r="2.95" fill="#e4f83c"/>
<circle cx="201.1" cy="238.5" r="2.95" fill="#f4ae32"/>
<circle cx="273.1" cy="201.4" r="2.95" fill="#f4ae32"/>
<circle cx="526.4" cy="418.6" r="2.95" fill="#f4ae32"/>
<circle cx="446.9" cy="351.3" r="2.95" fill="#e4f83c"/>
<circle cx="462.7" cy="169.1" r="2.95" fill="#f0641e"/>
<circle cx="287.1" cy="222.2" r="2.95" fill="#f4ae32"/>
<circle cx="199.4" cy="341.7" r="2.95" fill="#f0641e"/>
<circle cx="491.1" cy="444.1" r="2.95" fill="#e4f83c"/>
<circle cx="412.8" cy="210.3" r="2.95" fill="#e4f83c"/>
<circle cx="457.7" cy="171.7" r="2.95" fill="#f4ae32"/>
<circle cx="395.3" cy="325.3" r="2.95" fill="#e4f83c"/>
<circle cx="350.3" cy="176.4" r="2.95" fill="#f4ae32"/>
<circle cx="443.1" cy="327.8" r="2.95" fill="#e4f83c"/>
<circle cx="197.3" cy="327.7" r="2.95" fill="#f4ae32"/>
<circle cx="306.4" cy="370.5" r="2.95" fill="#e4f83c"/>
<circle cx="383.3" cy="219.4" r="2.95" fill="#e4f83c"/>
<circle cx="311.5" cy="244.0" r="2.95" fill="#f4ae32"/>
<circle cx="451.9" cy="331.6" r="2.95" fill="#f0641e"/>
<circle cx="346.4" cy="348.7" r="2.95" fill="#e4f83c"/>
<circle cx="579.6" cy="530.4" r="2.95" fill="#f4ae32"/>
<circle cx="529.0" cy="472.8" r="2.95" fill="#f4ae32"/>
<circle cx="430.4" cy="349.8" r="2.95" fill="#f4ae32"/>
<circle cx="494.5" cy="209.5" r="2.95" fill="#e4f83c"/>
<circle cx="479.7" cy="180.7" r="2.95" fill="#f4ae32"/>
<circle cx="433.2" cy="222.8" r="2.95" fill="#f4ae32"/>
<circle cx="435.3" cy="214.6" r="2.95" fill="#e4f83c"/>
<circle cx="570.8" cy="465.3" r="2.95" fill="#f4ae32"/>
<circle cx="478.3" cy="205.9" r="2.95" fill="#e4f83c"/>
<circle cx="419.7" cy="204.8" r="2.95" fill="#e4f83c"/>
<circle cx="421.5" cy="253.9" r="2.95" fill="#e4f83c"/>
<circle cx="302.2" cy="329.8" r="2.95" fill="#e4f83c"/>
<circle cx="367.9" cy="200.0" r="2.95" fill="#f4ae32"/>
<circle cx="472.1" cy="487.1" r="2.95" fill="#e4f83c"/>
<circle cx="380.4" cy="210.7" r="2.95" fill="#f4ae32"/>
<circle cx="572.6" cy="417.7" r="2.95" fill="#f4ae32"/>
<circle cx="537.2" cy="272.3" r="2.95" fill="#e4f83c"/>
<circle cx="388.9" cy="350.1" r="2.95" fill="#f4ae32"/>
<circle cx="196.0" cy="288.0" r="2.95" fill="#f4ae32"/>
<circle cx="346.6" cy="321.0" r="2.95" fill="#e4f83c"/>
<circle cx="287.9" cy="376.3" r="2.95" fill="#f0641e"/>
<circle cx="536.8" cy="424.8" r="2.95" fill="#e4f83c"/>
<circle cx="437.9" cy="184.1" r="2.95" fill="#e4f83c"/>
<circle cx="432.3" cy="209.7" r="2.95" fill="#e4f83c"/>
<circle cx="472.2" cy="196.5" r="2.95" fill="#f4ae32"/>
<circle cx="310.4" cy="205.1" r="2.95" fill="#f4ae32"/>
<circle cx="325.8" cy="362.2" r="2.95" fill="#e4f83c"/>
<circle cx="531.4" cy="478.9" r="2.95" fill="#e4f83c"/>
<circle cx="496.1" cy="364.7" r="2.95" fill="#e4f83c"/>
<circle cx="463.7" cy="255.2" r="2.95" fill="#f4ae32"/>
<circle cx="537.3" cy="341.5" r="2.95" fill="#e41e1e"/>
<circle cx="446.9" cy="259.8" r="2.95" fill="#f0641e"/>
<circle cx="351.0" cy="343.1" r="2.95" fill="#e4f83c"/>
<circle cx="351.8" cy="192.5" r="2.95" fill="#f4ae32"/>
<circle cx="317.3" cy="238.8" r="2.95" fill="#e4f83c"/>
<circle cx="382.1" cy="286.0" r="2.95" fill="#e4f83c"/>
<circle cx="435.3" cy="282.7" r="2.95" fill="#f4ae32"/>
<circle cx="194.1" cy="332.7" r="2.95" fill="#e4f83c"/>
<circle cx="414.3" cy="229.1" r="2.95" fill="#e4f83c"/>
<circle cx="575.8" cy="418.6" r="2.95" fill="#e4f83c"/>
<circle cx="311.2" cy="357.4" r="2.95" fill="#e4f83c"/>
<circle cx="125.8" cy="340.4" r="2.95" fill="#f4ae32"/>
<circle cx="354.8" cy="137.2" r="2.95" fill="#e4f83c"/>
<circle cx="351.0" cy="195.8" r="2.95" fill="#f4ae32"/>
<circle cx="299.9" cy="376.8" r="2.95" fill="#f4ae32"/>
<circle cx="486.0" cy="433.0" r="2.95" fill="#e4f83c"/>
<circle cx="567.7" cy="431.4" r="2.95" fill="#e4f83c"/>
<circle cx="516.9" cy="330.7" r="2.95" fill="#e4f83c"/>
<circle cx="517.6" cy="444.2" r="2.95" fill="#e4f83c"/>
<circle cx="414.9" cy="252.3" r="2.95" fill="#e4f83c"/>
<circle cx="475.5" cy="344.8" r="2.95" fill="#f4ae32"/>
<circle cx="436.2" cy="329.4" r="2.95" fill="#e41e1e"/>
<circle cx="432.7" cy="232.9" r="2.95" fill="#f4ae32"/>
<circle cx="354.7" cy="303.3" r="2.95" fill="#f4ae32"/>
<circle cx="544.5" cy="283.3" r="2.95" fill="#f4ae32"/>
<circle cx="551.6" cy="284.1" r="2.95" fill="#f0641e"/>
<circle cx="506.0" cy="315.6" r="2.95" fill="#f4ae32"/>
<circle cx="329.6" cy="365.9" r="2.95" fill="#e4f83c"/>
<circle cx="346.6" cy="363.2" r="2.95" fill="#e4f83c"/>
<circle cx="596.4" cy="445.8" r="2.95" fill="#e4f83c"/>
<circle cx="355.5" cy="444.7" r="2.95" fill="#f4ae32"/>
<circle cx="343.5" cy="191.9" r="2.95" fill="#e4f83c"/>
<circle cx="443.3" cy="258.6" r="2.95" fill="#f0641e"/>
<circle cx="495.0" cy="410.4" r="2.95" fill="#f4ae32"/>
<circle cx="554.4" cy="273.2" r="2.95" fill="#e4f83c"/>
<circle cx="544.0" cy="466.7" r="2.95" fill="#e4f83c"/>
<circle cx="427.4" cy="259.9" r="2.95" fill="#e4f83c"/>
<circle cx="502.6" cy="462.6" r="2.95" fill="#e4f83c"/>
<circle cx="213.4" cy="344.9" r="2.95" fill="#f4ae32"/>
<circle cx="478.7" cy="176.6" r="2.95" fill="#e4f83c"/>
<circle cx="317.1" cy="320.8" r="2.95" fill="#e4f83c"/>
<circle cx="335.5" cy="192.5" r="2.95" fill="#e4f83c"/>
<circle cx="428.4" cy="213.2" r="2.95" fill="#e4f83c"/>
<circle cx="383.2" cy="310.9" r="2.95" fill="#f4ae32"/>
<circle cx="423.6" cy="234.1" r="2.95" fill="#e4f83c"/>
<circle cx="300.5" cy="389.5" r="2.95" fill="#f0641e"/>
<circle cx="411.5" cy="266.1" r="2.95" fill="#e4f83c"/>
<circle cx="533.4" cy="419.0" r="2.95" fill="#e4f83c"/>
<circle cx="457.8" cy="440.8" r="2.95" fill="#e4f83c"/>
<circle cx="535.4" cy="459.4" r="2.95" fill="#e4f83c"/>
<circle cx="439.3" cy="307.2" r="2.95" fill="#e4f83c"/>
<circle cx="375.9" cy="301.0" r="2.95" fill="#e4f83c"/>
<circle cx="481.5" cy="148.7" r="2.95" fill="#e4f83c"/>
<circle cx="411.5" cy="338.6" r="2.95" fill="#e4f83c"/>
<circle cx="561.2" cy="460.0" r="2.95" fill="#e4f83c"/>
<circle cx="298.4" cy="227.7" r="2.95" fill="#e4f83c"/>
<circle cx="400.8" cy="225.3" r="2.95" fill="#f4ae32"/>
<circle cx="399.0" cy="211.6" r="2.95" fill="#f4ae32"/>
<circle cx="361.5" cy="215.4" r="2.95" fill="#e4f83c"/>
<circle cx="449.3" cy="229.6" r="2.95" fill="#e4f83c"/>
<circle cx="443.1" cy="364.2" r="2.95" fill="#e4f83c"/>
<circle cx="476.5" cy="169.6" r="2.95" fill="#e41e1e"/>
<circle cx="205.4" cy="259.3" r="2.95" fill="#e4f83c"/>
<circle cx="342.2" cy="204.3" r="2.95" fill="#f4ae32"/>
<circle cx="311.5" cy="206.1" r="2.95" fill="#e4f83c"/>
<circle cx="391.9" cy="346.5" r="2.95" fill="#e4f83c"/>
<circle cx="383.3" cy="189.5" r="2.95" fill="#e4f83c"/>
<circle cx="570.7" cy="434.4" r="2.95" fill="#f4ae32"/>
<circle cx="349.5" cy="228.6" r="2.95" fill="#f4ae32"/>
<circle cx="420.2" cy="382.6" r="2.95" fill="#f4ae32"/>
<circle cx="347.6" cy="199.6" r="2.95" fill="#f4ae32"/>
<circle cx="318.8" cy="421.1" r="2.95" fill="#e4f83c"/>
<circle cx="523.1" cy="436.1" r="2.95" fill="#f4ae32"/>
<circle cx="446.4" cy="358.3" r="2.95" fill="#e4f83c"/>
<circle cx="554.5" cy="526.9" r="2.95" fill="#f4ae32"/>
<circle cx="436.0" cy="210.5" r="2.95" fill="#e4f83c"/>
<circle cx="317.5" cy="213.9" r="2.95" fill="#e4f83c"/>
<circle cx="286.9" cy="216.9" r="2.95" fill="#e4f83c"/>
<circle cx="424.0" cy="264.2" r="2.95" fill="#e4f83c"/>
<circle cx="375.9" cy="414.3" r="2.95" fill="#e4f83c"/>
<circle cx="523.7" cy="462.7" r="2.95" fill="#e4f83c"/>
<circle cx="318.5" cy="209.4" r="2.95" fill="#e4f83c"/>
<circle cx="335.5" cy="213.8" r="2.95" fill="#e41e1e"/>
<circle cx="438.3" cy="256.5" r="2.95" fill="#f4ae32"/>
<circle cx="477.0" cy="182.0" r="2.95" fill="#f4ae32"/>
<circle cx="482.0" cy="446.7" r="2.95" fill="#f4ae32"/>
<circle cx="463.7" cy="197.7" r="2.95" fill="#e4f83c"/>
<circle cx="383.5" cy="190.0" r="2.95" fill="#e4f83c"/>
<circle cx="435.4" cy="239.7" r="2.95" fill="#e4f83c"/>
<circle cx="375.1" cy="228.7" r="2.95" fill="#f4ae32"/>
<circle cx="343.8" cy="330.0" r="2.95" fill="#e4f83c"/>
<circle cx="436.7" cy="212.9" r="2.95" fill="#f0641e"/>
<circle cx="184.4" cy="214.7" r="2.95" fill="#e4f83c"/>
<circle cx="202.8" cy="338.9" r="2.95" fill="#f0641e"/>
<circle cx="538.8" cy="380.4" r="2.95" fill="#f4ae32"/>
<circle cx="426.2" cy="100.1" r="2.95" fill="#e4f83c"/>
<circle cx="316.7" cy="224.7" r="2.95" fill="#e4f83c"/>
<circle cx="422.7" cy="224.4" r="2.95" fill="#e4f83c"/>
<circle cx="314.2" cy="309.2" r="2.95" fill="#e4f83c"/>
<circle cx="573.4" cy="329.3" r="2.95" fill="#f4ae32"/>
<circle cx="585.4" cy="437.3" r="2.95" fill="#e4f83c"/>
<circle cx="552.9" cy="385.9" r="2.95" fill="#f0641e"/>
<circle cx="447.9" cy="448.3" r="2.95" fill="#f4ae32"/>
<circle cx="310.0" cy="307.2" r="2.95" fill="#e4f83c"/>
<circle cx="399.5" cy="133.3" r="2.95" fill="#e41e1e"/>
<circle cx="419.0" cy="260.8" r="2.95" fill="#e4f83c"/>
<circle cx="473.3" cy="446.2" r="2.95" fill="#e4f83c"/>
<circle cx="313.5" cy="218.9" r="2.95" fill="#e4f83c"/>
<circle cx="358.6" cy="183.5" r="2.95" fill="#e4f83c"/>
<circle cx="354.1" cy="342.9" r="2.95" fill="#e4f83c"/>
<circle cx="315.2" cy="214.5" r="2.95" fill="#e4f83c"/>
<circle cx="497.3" cy="223.6" r="2.95" fill="#f4ae32"/>
<circle cx="532.3" cy="232.0" r="2.95" fill="#e4f83c"/>
<circle cx="560.2" cy="285.6" r="2.95" fill="#f4ae32"/>
<circle cx="549.4" cy="336.9" r="2.95" fill="#e4f83c"/>
<circle cx="303.6" cy="350.0" r="2.95" fill="#e4f83c"/>
<circle cx="286.7" cy="227.0" r="2.95" fill="#e4f83c"/>
<circle cx="596.0" cy="436.2" r="2.95" fill="#f4ae32"/>
<circle cx="537.2" cy="451.4" r="2.95" fill="#e4f83c"/>
<circle cx="420.9" cy="225.3" r="2.95" fill="#e4f83c"/>
<circle cx="324.1" cy="339.2" r="2.95" fill="#f4ae32"/>
<circle cx="502.7" cy="252.2" r="2.95" fill="#f4ae32"/>
<circle cx="315.0" cy="316.2" r="2.95" fill="#e4f83c"/>
<circle cx="562.3" cy="422.5" r="2.95" fill="#e4f83c"/>
<circle cx="470.7" cy="186.6" r="2.95" fill="#e4f83c"/>
<circle cx="465.6" cy="250.1" r="2.95" fill="#f4ae32"/>
<circle cx="376.1" cy="185.1" r="2.95" fill="#e4f83c"/>
<circle cx="441.1" cy="212.5" r="2.95" fill="#f4ae32"/>
<circle cx="314.9" cy="323.4" r="2.95" fill="#f4ae32"/>
<circle cx="289.5" cy="304.3" r="2.95" fill="#f4ae32"/>
<circle cx="531.4" cy="297.4" r="2.95" fill="#f4ae32"/>
<circle cx="427.5" cy="194.7" r="2.95" fill="#e4f83c"/>
<circle cx="407.5" cy="318.2" r="2.95" fill="#e4f83c"/>
<circle cx="426.5" cy="186.5" r="2.95" fill="#e4f83c"/>
<circle cx="336.6" cy="356.5" r="2.95" fill="#e4f83c"/>
<circle cx="270.4" cy="239.8" r="2.95" fill="#e41e1e"/>
<circle cx="161.8" cy="204.4" r="2.95" fill="#e4f83c"/>
<circle cx="443.1" cy="237.8" r="2.95" fill="#f4ae32"/>
<circle cx="466.6" cy="159.1" r="2.95" fill="#e4f83c"/>
<circle cx="519.0" cy="419.5" r="2.95" fill="#f4ae32"/>
<circle cx="413.0" cy="282.3" r="2.95" fill="#f4ae32"/>
<circle cx="273.3" cy="218.2" r="2.95" fill="#e4f83c"/>
<circle cx="430.3" cy="269.6" r="2.95" fill="#f4ae32"/>
<circle cx="494.5" cy="317.6" r="2.95" fill="#f4ae32"/>
<circle cx="406.6" cy="332.9" r="2.95" fill="#f4ae32"/>
<circle cx="350.3" cy="369.9" r="2.95" fill="#f4ae32"/>
<circle cx="521.9" cy="451.2" r="2.95" fill="#e4f83c"/>
<circle cx="425.9" cy="246.5" r="2.95" fill="#e4f83c"/>
<circle cx="295.7" cy="310.2" r="2.95" fill="#e4f83c"/>
<circle cx="276.7" cy="233.4" r="2.95" fill="#f4ae32"/>
<circle cx="473.0" cy="390.1" r="2.95" fill="#f4ae32"/>
<circle cx="435.8" cy="224.8" r="2.95" fill="#e4f83c"/>
<circle cx="288.7" cy="234.6" r="2.95" fill="#e4f83c"/>
<circle cx="521.8" cy="459.7" r="2.95" fill="#e4f83c"/>
<circle cx="481.5" cy="449.5" r="2.95" fill="#e4f83c"/>
<circle cx="541.3" cy="396.4" r="2.95" fill="#f4ae32"/>
<circle cx="466.7" cy="340.9" r="2.95" fill="#f4ae32"/>
<circle cx="342.6" cy="184.9" r="2.95" fill="#e4f83c"/>
<circle cx="476.9" cy="428.8" r="2.95" fill="#e4f83c"/>
<circle cx="362.8" cy="136.8" r="2.95" fill="#e4f83c"/>
<circle cx="564.6" cy="287.9" r="2.95" fill="#f4ae32"/>
<circle cx="430.9" cy="215.7" r="2.95" fill="#e4f83c"/>
<circle cx="486.2" cy="257.3" r="2.95" fill="#e4f83c"/>
<circle cx="227.9" cy="236.3" r="2.95" fill="#e4f83c"/>
<circle cx="345.2" cy="338.0" r="2.95" fill="#e4f83c"/>
<circle cx="367.4" cy="331.1" r="2.95" fill="#e4f83c"/>
<circle cx="307.3" cy="376.4" r="2.95" fill="#e4f83c"/>
<circle cx="381.7" cy="367.1" r="2.95" fill="#f4ae32"/>
<circle cx="448.2" cy="390.2" r="2.95" fill="#f4ae32"/>
<circle cx="473.5" cy="328.5" r="2.95" fill="#e4f83c"/>
<circle cx="510.0" cy="476.1" r="2.95" fill="#f4ae32"/>
<circle cx="382.0" cy="335.6" r="2.95" fill="#f4ae32"/>
<circle cx="389.1" cy="214.0" r="2.95" fill="#e4f83c"/>
<circle cx="318.8" cy="223.6" r="2.95" fill="#f4ae32"/>
<circle cx="534.4" cy="529.0" r="2.95" fill="#e4f83c"/>
<circle cx="431.4" cy="272.2" r="2.95" fill="#e4f83c"/>
<circle cx="455.7" cy="165.3" r="2.95" fill="#e4f83c"/>
<circle cx="313.6" cy="339.7" r="2.95" fill="#f4ae32"/>
<circle cx="466.6" cy="192.9" r="2.95" fill="#e4f83c"/>
<circle cx="444.1" cy="250.7" r="2.95" fill="#f4ae32"/>
<circle cx="547.7" cy="532.0" r="2.95" fill="#e4f83c"/>
<circle cx="360.9" cy="359.9" r="2.95" fill="#e4f83c"/>
<circle cx="550.2" cy="295.9" r="2.95" fill="#e4f83c"/>
<circle cx="481.3" cy="191.2" r="2.95" fill="#f4ae32"/>
<circle cx="399.9" cy="216.0" r="2.95" fill="#f4ae32"/>
<circle cx="383.9" cy="208.4" r="2.95" fill="#f4ae32"/>
<circle cx="343.0" cy="520.0" r="2.95" fill="#f4ae32"/>
<circle cx="364.0" cy="168.9" r="2.95" fill="#e4f83c"/>
<circle cx="308.8" cy="221.3" r="2.95" fill="#f4ae32"/>
<circle cx="412.3" cy="214.5" r="2.95" fill="#f4ae32"/>
<circle cx="181.9" cy="206.6" r="2.95" fill="#f0641e"/>
<circle cx="569.8" cy="361.2" r="2.95" fill="#e4f83c"/>
<circle cx="349.2" cy="194.7" r="2.95" fill="#e4f83c"/>
<circle cx="551.7" cy="534.5" r="2.95" fill="#e4f83c"/>
<circle cx="493.9" cy="409.0" r="2.95" fill="#f4ae32"/>
<circle cx="265.0" cy="480.0" r="2.95" fill="#e4f83c"/>
<circle cx="395.5" cy="182.0" r="2.95" fill="#f0641e"/>
<circle cx="532.1" cy="469.9" r="2.95" fill="#e4f83c"/>
<circle cx="322.9" cy="225.5" r="2.95" fill="#e4f83c"/>
<circle cx="458.7" cy="225.2" r="2.95" fill="#e4f83c"/>
<circle cx="352.6" cy="447.8" r="2.95" fill="#f4ae32"/>
<circle cx="204.2" cy="227.4" r="2.95" fill="#e41e1e"/>
<circle cx="423.1" cy="472.3" r="2.95" fill="#e4f83c"/>
<circle cx="412.2" cy="214.6" r="2.95" fill="#e4f83c"/>
<circle cx="429.6" cy="352.0" r="2.95" fill="#e4f83c"/>
<circle cx="497.1" cy="408.0" r="2.95" fill="#e4f83c"/>
<circle cx="438.1" cy="252.1" r="2.95" fill="#e4f83c"/>
<circle cx="559.3" cy="459.0" r="2.95" fill="#e41e1e"/>
<circle cx="571.8" cy="298.9" r="2.95" fill="#e4f83c"/>
<circle cx="416.1" cy="456.7" r="2.95" fill="#f4ae32"/>
<circle cx="505.3" cy="478.0" r="2.95" fill="#f4ae32"/>
<circle cx="530.9" cy="460.3" r="2.95" fill="#f4ae32"/>
<circle cx="465.5" cy="176.6" r="2.95" fill="#e4f83c"/>
<circle cx="428.0" cy="202.1" r="2.95" fill="#f4ae32"/>
<circle cx="496.6" cy="447.5" r="2.95" fill="#f0641e"/>
<circle cx="426.7" cy="216.3" r="2.95" fill="#e4f83c"/>
<circle cx="218.5" cy="405.8" r="2.95" fill="#f0641e"/>
<circle cx="224.6" cy="340.0" r="2.95" fill="#f0641e"/>
<circle cx="426.0" cy="254.7" r="2.95" fill="#f4ae32"/>
<circle cx="511.3" cy="360.8" r="2.95" fill="#f4ae32"/>
<circle cx="417.0" cy="335.4" r="2.95" fill="#f0641e"/>
<circle cx="301.1" cy="195.4" r="2.95" fill="#e4f83c"/>
<circle cx="315.2" cy="208.8" r="2.95" fill="#f4ae32"/>
<circle cx="429.5" cy="262.3" r="2.95" fill="#e4f83c"/>
<circle cx="333.2" cy="338.7" r="2.95" fill="#f4ae32"/>
<circle cx="588.4" cy="417.2" r="2.95" fill="#e4f83c"/>
<circle cx="493.5" cy="178.2" r="2.95" fill="#e4f83c"/>
<circle cx="556.0" cy="443.8" r="2.95" fill="#f4ae32"/>
<circle cx="543.5" cy="450.5" r="2.95" fill="#f4ae32"/>
<circle cx="301.1" cy="386.0" r="2.95" fill="#f4ae32"/>
<circle cx="521.4" cy="334.8" r="2.95" fill="#e4f83c"/>
<circle cx="397.8" cy="389.2" r="2.95" fill="#e4f83c"/>
<circle cx="444.7" cy="325.3" r="2.95" fill="#e4f83c"/>
<circle cx="416.9" cy="227.3" r="2.95" fill="#f4ae32"/>
<circle cx="315.5" cy="329.2" r="2.95" fill="#e4f83c"/>
<circle cx="397.1" cy="207.2" r="2.95" fill="#f4ae32"/>
<circle cx="565.5" cy="542.5" r="2.95" fill="#f4ae32"/>
<circle cx="539.4" cy="294.8" r="2.95" fill="#e4f83c"/>
<circle cx="441.1" cy="205.5" r="2.95" fill="#f4ae32"/>
<circle cx="171.9" cy="208.5" r="2.95" fill="#e4f83c"/>
<circle cx="380.0" cy="346.3" r="2.95" fill="#f4ae32"/>
<circle cx="294.3" cy="251.4" r="2.95" fill="#e4f83c"/>
<circle cx="433.6" cy="200.7" r="2.95" fill="#f4ae32"/>
<circle cx="402.5" cy="117.2" r="2.95" fill="#e4f83c"/>
<circle cx="396.4" cy="271.6" r="2.95" fill="#e4f83c"/>
<circle cx="487.6" cy="264.4" r="2.95" fill="#f4ae32"/>
<circle cx="310.0" cy="237.2" r="2.95" fill="#e4f83c"/>
<circle cx="180.0" cy="530.0" r="2.95" fill="#e4f83c"/>
<circle cx="314.3" cy="221.7" r="2.95" fill="#e4f83c"/>
<circle cx="412.6" cy="264.1" r="2.95" fill="#f4ae32"/>
<circle cx="451.7" cy="161.9" r="2.95" fill="#f0641e"/>
<circle cx="435.4" cy="266.0" r="2.95" fill="#f4ae32"/>
<circle cx="443.7" cy="272.5" r="2.95" fill="#e4f83c"/>
<circle cx="435.3" cy="219.5" r="2.95" fill="#f4ae32"/>
<circle cx="451.8" cy="192.7" r="2.95" fill="#e4f83c"/>
<circle cx="499.5" cy="413.5" r="2.95" fill="#e4f83c"/>
<circle cx="471.4" cy="163.3" r="2.95" fill="#f4ae32"/>
<circle cx="348.5" cy="363.6" r="2.95" fill="#f4ae32"/>
<circle cx="403.3" cy="197.9" r="2.95" fill="#e4f83c"/>
<circle cx="444.6" cy="253.7" r="2.95" fill="#f4ae32"/>
<circle cx="304.1" cy="426.0" r="2.95" fill="#f0641e"/>
<circle cx="542.2" cy="285.3" r="2.95" fill="#e4f83c"/>
<circle cx="527.6" cy="464.9" r="2.95" fill="#f4ae32"/>
<circle cx="493.8" cy="447.8" r="2.95" fill="#f0641e"/>
<circle cx="419.4" cy="390.6" r="2.95" fill="#f4ae32"/>
<circle cx="491.3" cy="415.7" r="2.95" fill="#e4f83c"/>
<circle cx="351.8" cy="194.1" r="2.95" fill="#f4ae32"/>
<circle cx="355.7" cy="337.6" r="2.95" fill="#e4f83c"/>
<circle cx="479.1" cy="172.4" r="2.95" fill="#e4f83c"/>
<circle cx="535.7" cy="422.6" r="2.95" fill="#e4f83c"/>
<circle cx="448.4" cy="219.6" r="2.95" fill="#e4f83c"/>
<circle cx="533.2" cy="491.8" r="2.95" fill="#e4f83c"/>
<circle cx="494.9" cy="436.2" r="2.95" fill="#e4f83c"/>
<circle cx="269.8" cy="258.4" r="2.95" fill="#f4ae32"/>
<circle cx="548.8" cy="284.4" r="2.95" fill="#e4f83c"/>
<circle cx="378.0" cy="227.0" r="2.95" fill="#f4ae32"/>
<circle cx="520.4" cy="461.3" r="2.95" fill="#e4f83c"/>
<circle cx="293.8" cy="227.6" r="2.95" fill="#e4f83c"/>
<circle cx="334.4" cy="316.1" r="2.95" fill="#e4f83c"/>
<circle cx="330.0" cy="362.6" r="2.95" fill="#f4ae32"/>
<circle cx="384.3" cy="336.3" r="2.95" fill="#e4f83c"/>
<circle cx="512.9" cy="463.8" r="2.95" fill="#f4ae32"/>
<circle cx="334.1" cy="216.4" r="2.95" fill="#f4ae32"/>
<circle cx="395.2" cy="210.0" r="2.95" fill="#f4ae32"/>
<circle cx="331.3" cy="334.9" r="2.95" fill="#f4ae32"/>
<circle cx="409.5" cy="240.8" r="2.95" fill="#e4f83c"/>
<circle cx="523.5" cy="323.3" r="2.95" fill="#f4ae32"/>
<circle cx="331.9" cy="331.2" r="2.95" fill="#f4ae32"/>
<circle cx="464.8" cy="179.4" r="2.95" fill="#e4f83c"/>
<circle cx="494.7" cy="304.1" r="2.95" fill="#e4f83c"/>
<circle cx="338.7" cy="337.3" r="2.95" fill="#e41e1e"/>
<circle cx="371.8" cy="322.0" r="2.95" fill="#e4f83c"/>
<circle cx="482.3" cy="194.3" r="2.95" fill="#f4ae32"/>
<circle cx="409.5" cy="196.8" r="2.95" fill="#e4f83c"/>
<circle cx="586.0" cy="425.4" r="2.95" fill="#e4f83c"/>
<circle cx="405.1" cy="234.5" r="2.95" fill="#e4f83c"/>
<circle cx="294.4" cy="295.4" r="2.95" fill="#e4f83c"/>
<circle cx="290.8" cy="228.1" r="2.95" fill="#f4ae32"/>
<circle cx="304.2" cy="371.7" r="2.95" fill="#e4f83c"/>
<circle cx="304.8" cy="292.8" r="2.95" fill="#f4ae32"/>
<circle cx="356.6" cy="308.0" r="2.95" fill="#e4f83c"/>
<circle cx="420.9" cy="259.6" r="2.95" fill="#f4ae32"/>
<circle cx="568.8" cy="447.1" r="2.95" fill="#e4f83c"/>
<circle cx="525.2" cy="459.9" r="2.95" fill="#e4f83c"/>
<circle cx="491.9" cy="424.4" r="2.95" fill="#f4ae32"/>
<circle cx="466.2" cy="234.5" r="2.95" fill="#e4f83c"/>
<circle cx="544.9" cy="433.1" r="2.95" fill="#f4ae32"/>
<circle cx="548.1" cy="443.4" r="2.95" fill="#f4ae32"/>
<circle cx="336.2" cy="361.0" r="2.95" fill="#e4f83c"/>
<circle cx="390.5" cy="364.4" r="2.95" fill="#e4f83c"/>
<circle cx="437.0" cy="253.1" r="2.95" fill="#f4ae32"/>
<circle cx="383.7" cy="353.8" r="2.95" fill="#e4f83c"/>
<circle cx="541.3" cy="351.9" r="2.95" fill="#e4f83c"/>
<circle cx="514.1" cy="451.4" r="2.95" fill="#f4ae32"/>
<circle cx="402.9" cy="209.6" r="2.95" fill="#f4ae32"/>
<circle cx="284.2" cy="316.5" r="2.95" fill="#e4f83c"/>
<circle cx="426.2" cy="117.3" r="2.95" fill="#f4ae32"/>
<circle cx="495.7" cy="507.2" r="2.95" fill="#e4f83c"/>
<circle cx="563.8" cy="472.6" r="2.95" fill="#e4f83c"/>
<circle cx="354.5" cy="167.2" r="2.95" fill="#f0641e"/>
<circle cx="382.0" cy="167.0" r="2.95" fill="#e4f83c"/>
<circle cx="388.8" cy="163.8" r="2.95" fill="#e4f83c"/>
<circle cx="364.3" cy="203.6" r="2.95" fill="#e4f83c"/>
<circle cx="303.0" cy="274.4" r="2.95" fill="#f4ae32"/>
<circle cx="530.2" cy="229.0" r="2.95" fill="#f4ae32"/>
<circle cx="420.8" cy="210.7" r="2.95" fill="#e4f83c"/>
<circle cx="276.2" cy="210.8" r="2.95" fill="#e4f83c"/>
<circle cx="568.0" cy="423.6" r="2.95" fill="#e4f83c"/>
<circle cx="471.3" cy="377.6" r="2.95" fill="#e4f83c"/>
<circle cx="563.7" cy="403.4" r="2.95" fill="#e4f83c"/>
<circle cx="559.4" cy="353.6" r="2.95" fill="#e4f83c"/>
<circle cx="300.0" cy="490.0" r="2.95" fill="#f4ae32"/>
<circle cx="265.9" cy="211.9" r="2.95" fill="#f4ae32"/>
<circle cx="313.7" cy="245.6" r="2.95" fill="#e41e1e"/>
<circle cx="435.6" cy="250.5" r="2.95" fill="#e4f83c"/>
<circle cx="290.2" cy="378.3" r="2.95" fill="#e4f83c"/>
<circle cx="477.7" cy="140.7" r="2.95" fill="#e4f83c"/>
<circle cx="522.3" cy="311.2" r="2.95" fill="#e4f83c"/>
<circle cx="462.1" cy="303.4" r="2.95" fill="#e4f83c"/>
<circle cx="303.9" cy="289.2" r="2.95" fill="#f4ae32"/>
<circle cx="421.5" cy="467.0" r="2.95" fill="#f4ae32"/>
<circle cx="270.4" cy="330.1" r="2.95" fill="#f0641e"/>
<circle cx="467.9" cy="159.9" r="2.95" fill="#e4f83c"/>
<circle cx="353.9" cy="202.1" r="2.95" fill="#e4f83c"/>
<circle cx="378.2" cy="314.6" r="2.95" fill="#f4ae32"/>
<circle cx="468.7" cy="181.2" r="2.95" fill="#e4f83c"/>
<circle cx="515.6" cy="394.0" r="2.95" fill="#e4f83c"/>
<circle cx="421.7" cy="270.2" r="2.95" fill="#e4f83c"/>
<circle cx="396.0" cy="205.9" r="2.95" fill="#f4ae32"/>
<circle cx="364.2" cy="186.0" r="2.95" fill="#f4ae32"/>
<circle cx="344.1" cy="322.1" r="2.95" fill="#e4f83c"/>
<circle cx="527.2" cy="402.3" r="2.95" fill="#f4ae32"/>
<circle cx="386.7" cy="354.0" r="2.95" fill="#e4f83c"/>
<circle cx="359.9" cy="327.9" r="2.95" fill="#f4ae32"/>
<circle cx="414.4" cy="262.1" r="2.95" fill="#e4f83c"/>
<circle cx="569.9" cy="465.0" r="2.95" fill="#e4f83c"/>
<circle cx="320.7" cy="427.2" r="2.95" fill="#e4f83c"/>
<circle cx="349.1" cy="329.9" r="2.95" fill="#e4f83c"/>
<circle cx="355.2" cy="324.5" r="2.95" fill="#f4ae32"/>
<circle cx="304.3" cy="388.7" r="2.95" fill="#e4f83c"/>
<circle cx="304.6" cy="369.4" r="2.95" fill="#e4f83c"/>
<circle cx="404.7" cy="344.4" r="2.95" fill="#e4f83c"/>
<circle cx="547.7" cy="428.9" r="2.95" fill="#e4f83c"/>
<circle cx="345.3" cy="205.4" r="2.95" fill="#f4ae32"/>
<circle cx="485.5" cy="449.7" r="2.95" fill="#f0641e"/>
<circle cx="319.9" cy="325.2" r="2.95" fill="#f0641e"/>
<circle cx="538.9" cy="387.4" r="2.95" fill="#e4f83c"/>
<circle cx="293.5" cy="227.4" r="2.95" fill="#e4f83c"/>
<circle cx="387.5" cy="179.0" r="2.95" fill="#e4f83c"/>
<circle cx="355.0" cy="590.0" r="2.95" fill="#f4ae32"/>
<circle cx="340.3" cy="91.9" r="2.95" fill="#f4ae32"/>
<circle cx="527.7" cy="472.0" r="2.95" fill="#e4f83c"/>
<circle cx="505.1" cy="263.6" r="2.95" fill="#e4f83c"/>
<circle cx="419.9" cy="271.8" r="2.95" fill="#f4ae32"/>
<circle cx="501.6" cy="410.3" r="2.95" fill="#f4ae32"/>
<circle cx="286.6" cy="228.6" r="2.95" fill="#e4f83c"/>
<circle cx="373.1" cy="209.2" r="2.95" fill="#e4f83c"/>
<circle cx="420.0" cy="257.7" r="2.95" fill="#e4f83c"/>
<circle cx="533.0" cy="439.9" r="2.95" fill="#e4f83c"/>
<circle cx="303.8" cy="301.9" r="2.95" fill="#f4ae32"/>
<circle cx="476.5" cy="219.4" r="2.95" fill="#e4f83c"/>
<circle cx="299.8" cy="401.3" r="2.95" fill="#e4f83c"/>
<circle cx="324.7" cy="358.6" r="2.95" fill="#e4f83c"/>
<circle cx="118.0" cy="340.1" r="2.95" fill="#f0641e"/>
<circle cx="327.9" cy="224.9" r="2.95" fill="#e4f83c"/>
<circle cx="340.7" cy="435.2" r="2.95" fill="#f4ae32"/>
<circle cx="445.6" cy="264.0" r="2.95" fill="#f4ae32"/>
<circle cx="362.1" cy="349.5" r="2.95" fill="#e4f83c"/>
<circle cx="196.5" cy="322.9" r="2.95" fill="#e4f83c"/>
<circle cx="309.0" cy="300.9" r="2.95" fill="#e4f83c"/>
<circle cx="285.7" cy="187.6" r="2.95" fill="#e4f83c"/>
<circle cx="414.8" cy="246.0" r="2.95" fill="#e4f83c"/>
<circle cx="535.0" cy="421.4" r="2.95" fill="#e4f83c"/>
<circle cx="249.0" cy="282.5" r="2.95" fill="#f4ae32"/>
<circle cx="317.3" cy="317.1" r="2.95" fill="#e4f83c"/>
<circle cx="324.4" cy="253.1" r="2.95" fill="#e4f83c"/>
<circle cx="297.9" cy="362.2" r="2.95" fill="#f4ae32"/>
<circle cx="367.5" cy="205.7" r="2.95" fill="#f4ae32"/>
<circle cx="528.4" cy="315.7" r="2.95" fill="#e4f83c"/>
<circle cx="202.5" cy="236.3" r="2.95" fill="#e4f83c"/>
<circle cx="303.0" cy="311.9" r="2.95" fill="#e4f83c"/>
<circle cx="496.3" cy="230.6" r="2.95" fill="#f4ae32"/>
<circle cx="232.8" cy="236.5" r="2.95" fill="#e4f83c"/>
<circle cx="565.3" cy="384.0" r="2.95" fill="#e4f83c"/>
<circle cx="496.4" cy="195.0" r="2.95" fill="#e4f83c"/>
<circle cx="453.4" cy="184.7" r="2.95" fill="#f4ae32"/>
<circle cx="340.8" cy="328.0" r="2.95" fill="#f4ae32"/>
<circle cx="300.5" cy="365.4" r="2.95" fill="#e4f83c"/>
<circle cx="414.1" cy="205.7" r="2.95" fill="#e4f83c"/>
<circle cx="391.9" cy="182.6" r="2.95" fill="#e4f83c"/>
<circle cx="339.5" cy="222.3" r="2.95" fill="#f4ae32"/>
<circle cx="470.0" cy="545.0" r="2.95" fill="#e4f83c"/>
<circle cx="494.2" cy="208.2" r="2.95" fill="#e4f83c"/>
<circle cx="487.2" cy="216.7" r="2.95" fill="#e4f83c"/>
<circle cx="367.8" cy="152.4" r="2.95" fill="#f4ae32"/>
<circle cx="509.6" cy="426.0" r="2.95" fill="#e4f83c"/>
<circle cx="441.6" cy="319.3" r="2.95" fill="#e4f83c"/>
<circle cx="361.5" cy="228.0" r="2.95" fill="#f4ae32"/>
<circle cx="334.9" cy="233.1" r="2.95" fill="#f4ae32"/>
<circle cx="520.4" cy="213.6" r="2.95" fill="#f4ae32"/>
<circle cx="215.5" cy="428.5" r="2.95" fill="#e4f83c"/>
<circle cx="439.1" cy="154.0" r="2.95" fill="#e4f83c"/>
<circle cx="442.5" cy="207.9" r="2.95" fill="#e4f83c"/>
<circle cx="476.2" cy="198.7" r="2.95" fill="#e4f83c"/>
<circle cx="290.4" cy="202.4" r="2.95" fill="#f0641e"/>
<circle cx="562.7" cy="524.8" r="2.95" fill="#f4ae32"/>
<circle cx="332.4" cy="353.7" r="2.95" fill="#e4f83c"/>
<circle cx="486.1" cy="455.0" r="2.95" fill="#f4ae32"/>
<circle cx="436.7" cy="230.9" r="2.95" fill="#f4ae32"/>
<circle cx="428.7" cy="247.8" r="2.95" fill="#e4f83c"/>
<circle cx="194.7" cy="325.7" r="2.95" fill="#e4f83c"/>
<circle cx="225.3" cy="341.1" r="2.95" fill="#e4f83c"/>
<circle cx="313.9" cy="345.1" r="2.95" fill="#f4ae32"/>
<circle cx="272.5" cy="274.7" r="2.95" fill="#f4ae32"/>
<circle cx="588.8" cy="399.9" r="2.95" fill="#e4f83c"/>
<circle cx="584.5" cy="472.9" r="2.95" fill="#f4ae32"/>
<circle cx="315.1" cy="256.8" r="2.95" fill="#e4f83c"/>
<circle cx="475.2" cy="337.8" r="2.95" fill="#e41e1e"/>
<circle cx="494.3" cy="439.8" r="2.95" fill="#e4f83c"/>
<circle cx="422.6" cy="127.4" r="2.95" fill="#e4f83c"/>
<circle cx="512.1" cy="401.7" r="2.95" fill="#e4f83c"/>
<circle cx="431.6" cy="390.2" r="2.95" fill="#f4ae32"/>
<circle cx="349.0" cy="440.9" r="2.95" fill="#e4f83c"/>
<circle cx="388.8" cy="210.9" r="2.95" fill="#f4ae32"/>
<circle cx="230.0" cy="327.2" r="2.95" fill="#e4f83c"/>
<circle cx="571.1" cy="410.1" r="2.95" fill="#e4f83c"/>
<circle cx="336.3" cy="321.9" r="2.95" fill="#e4f83c"/>
<circle cx="332.8" cy="384.2" r="2.95" fill="#f4ae32"/>
<circle cx="531.6" cy="483.7" r="2.95" fill="#e4f83c"/>
<circle cx="384.4" cy="222.6" r="2.95" fill="#f4ae32"/>
<circle cx="155.0" cy="201.1" r="2.95" fill="#f0641e"/>
<circle cx="446.0" cy="254.2" r="2.95" fill="#e4f83c"/>
<circle cx="298.3" cy="236.5" r="2.95" fill="#e4f83c"/>
<circle cx="368.9" cy="340.9" r="2.95" fill="#f4ae32"/>
<circle cx="175.7" cy="209.3" r="2.95" fill="#f4ae32"/>
<circle cx="538.9" cy="447.0" r="2.95" fill="#f4ae32"/>
<circle cx="355.3" cy="336.8" r="2.95" fill="#e4f83c"/>
<circle cx="513.1" cy="397.4" r="2.95" fill="#e4f83c"/>
<circle cx="482.2" cy="321.7" r="2.95" fill="#f4ae32"/>
<circle cx="443.1" cy="207.9" r="2.95" fill="#f4ae32"/>
<circle cx="480.2" cy="197.3" r="2.95" fill="#f0641e"/>
<circle cx="520.8" cy="409.3" r="2.95" fill="#e4f83c"/>
<circle cx="413.6" cy="258.4" r="2.95" fill="#e4f83c"/>
<circle cx="470.1" cy="176.1" r="2.95" fill="#e4f83c"/>
<circle cx="200.6" cy="336.3" r="2.95" fill="#f0641e"/>
<circle cx="352.7" cy="360.4" r="2.95" fill="#e4f83c"/>
<circle cx="463.3" cy="434.4" r="2.95" fill="#e4f83c"/>
<circle cx="282.9" cy="238.9" r="2.95" fill="#e4f83c"/>
<circle cx="548.9" cy="527.7" r="2.95" fill="#f4ae32"/>
<circle cx="441.1" cy="270.8" r="2.95" fill="#e4f83c"/>
<circle cx="565.1" cy="485.5" r="2.95" fill="#f4ae32"/>
<circle cx="328.9" cy="224.3" r="2.95" fill="#f4ae32"/>
<circle cx="486.2" cy="175.9" r="2.95" fill="#e4f83c"/>
<circle cx="465.7" cy="361.4" r="2.95" fill="#f4ae32"/>
<circle cx="531.6" cy="441.9" r="2.95" fill="#e4f83c"/>
<circle cx="467.4" cy="345.1" r="2.95" fill="#f4ae32"/>
<circle cx="438.4" cy="238.8" r="2.95" fill="#e4f83c"/>
<circle cx="351.4" cy="195.1" r="2.95" fill="#e4f83c"/>
<circle cx="441.8" cy="200.8" r="2.95" fill="#e4f83c"/>
<circle cx="439.0" cy="227.2" r="2.95" fill="#e4f83c"/>
<circle cx="479.3" cy="218.0" r="2.95" fill="#e4f83c"/>
<circle cx="318.2" cy="224.7" r="2.95" fill="#f4ae32"/>
<circle cx="375.2" cy="311.3" r="2.95" fill="#f4ae32"/>
<circle cx="584.3" cy="524.6" r="2.95" fill="#e4f83c"/>
<circle cx="446.5" cy="251.1" r="2.95" fill="#e4f83c"/>
<circle cx="258.4" cy="295.7" r="2.95" fill="#e4f83c"/>
<circle cx="309.4" cy="371.5" r="2.95" fill="#e4f83c"/>
<circle cx="304.4" cy="383.1" r="2.95" fill="#f4ae32"/>
<circle cx="401.3" cy="214.0" r="2.95" fill="#e4f83c"/>
<circle cx="467.7" cy="192.3" r="2.95" fill="#e4f83c"/>
<circle cx="420.3" cy="212.1" r="2.95" fill="#f4ae32"/>
<circle cx="416.8" cy="201.7" r="2.95" fill="#e4f83c"/>
<circle cx="508.5" cy="420.5" r="2.95" fill="#e4f83c"/>
<circle cx="383.7" cy="228.4" r="2.95" fill="#f4ae32"/>
<circle cx="432.7" cy="257.5" r="2.95" fill="#e4f83c"/>
<circle cx="497.5" cy="259.1" r="2.95" fill="#e4f83c"/>
<circle cx="316.9" cy="238.0" r="2.95" fill="#f4ae32"/>
<circle cx="305.7" cy="332.6" r="2.95" fill="#e4f83c"/>
<circle cx="290.8" cy="225.8" r="2.95" fill="#e4f83c"/>
<circle cx="595.9" cy="410.8" r="2.95" fill="#e4f83c"/>
<circle cx="586.1" cy="458.1" r="2.95" fill="#e4f83c"/>
<circle cx="256.2" cy="343.0" r="2.95" fill="#e4f83c"/>
<circle cx="277.1" cy="418.1" r="2.95" fill="#e4f83c"/>
<circle cx="299.0" cy="290.7" r="2.95" fill="#e4f83c"/>
<circle cx="334.1" cy="249.5" r="2.95" fill="#f0641e"/>
<circle cx="423.4" cy="453.1" r="2.95" fill="#e4f83c"/>
<circle cx="367.7" cy="195.1" r="2.95" fill="#f4ae32"/>
<circle cx="266.9" cy="252.5" r="2.95" fill="#e4f83c"/>
<circle cx="379.6" cy="143.5" r="2.95" fill="#f4ae32"/>
<circle cx="514.6" cy="218.1" r="2.95" fill="#f4ae32"/>
<circle cx="339.6" cy="280.0" r="2.95" fill="#e4f83c"/>
<circle cx="309.4" cy="74.6" r="2.95" fill="#e4f83c"/>
<circle cx="381.6" cy="213.6" r="2.95" fill="#f0641e"/>
<circle cx="429.5" cy="261.8" r="2.95" fill="#f4ae32"/>
<circle cx="427.8" cy="426.6" r="2.95" fill="#f4ae32"/>
<circle cx="294.7" cy="194.0" r="2.95" fill="#e4f83c"/>
<circle cx="471.8" cy="340.2" r="2.95" fill="#e4f83c"/>
<circle cx="288.2" cy="353.2" r="2.95" fill="#e4f83c"/>
<circle cx="407.5" cy="198.9" r="2.95" fill="#e4f83c"/>
<circle cx="425.8" cy="197.7" r="2.95" fill="#e4f83c"/>
<circle cx="525.3" cy="262.1" r="2.95" fill="#e4f83c"/>
<circle cx="287.1" cy="219.7" r="2.95" fill="#e4f83c"/>
<circle cx="497.5" cy="270.4" r="2.95" fill="#f0641e"/>
<circle cx="399.5" cy="349.7" r="2.95" fill="#f4ae32"/>
<circle cx="498.8" cy="410.7" r="2.95" fill="#f4ae32"/>
<circle cx="464.9" cy="183.9" r="2.95" fill="#f4ae32"/>
<circle cx="322.2" cy="252.0" r="2.95" fill="#e41e1e"/>
<circle cx="411.7" cy="225.3" r="2.95" fill="#e4f83c"/>
<circle cx="347.5" cy="379.7" r="2.95" fill="#f4ae32"/>
<circle cx="419.8" cy="460.0" r="2.95" fill="#e4f83c"/>
<circle cx="313.5" cy="314.1" r="2.95" fill="#e4f83c"/>
<circle cx="467.1" cy="206.2" r="2.95" fill="#e4f83c"/>
<circle cx="561.6" cy="520.1" r="2.95" fill="#e4f83c"/>
<circle cx="326.8" cy="336.1" r="2.95" fill="#f4ae32"/>
<circle cx="373.1" cy="319.3" r="2.95" fill="#f4ae32"/>
<circle cx="304.6" cy="228.3" r="2.95" fill="#e4f83c"/>
<circle cx="186.4" cy="328.5" r="2.95" fill="#e4f83c"/>
<circle cx="534.6" cy="346.9" r="2.95" fill="#f4ae32"/>
<circle cx="450.0" cy="211.7" r="2.95" fill="#e4f83c"/>
<circle cx="472.8" cy="142.6" r="2.95" fill="#f4ae32"/>
<circle cx="392.6" cy="208.6" r="2.95" fill="#f4ae32"/>
<circle cx="530.5" cy="491.7" r="2.95" fill="#f4ae32"/>
<circle cx="364.5" cy="337.5" r="2.95" fill="#f4ae32"/>
<circle cx="296.7" cy="208.3" r="2.95" fill="#f0641e"/>
<circle cx="390.5" cy="324.2" r="2.95" fill="#e4f83c"/>
<circle cx="440.4" cy="261.3" r="2.95" fill="#f4ae32"/>
<circle cx="305.6" cy="308.9" r="2.95" fill="#f4ae32"/>
<circle cx="561.5" cy="370.6" r="2.95" fill="#f4ae32"/>
<circle cx="553.4" cy="433.9" r="2.95" fill="#e41e1e"/>
<circle cx="387.4" cy="203.8" r="2.95" fill="#e4f83c"/>
<circle cx="396.6" cy="165.7" r="2.95" fill="#e4f83c"/>
<circle cx="394.2" cy="116.4" r="2.95" fill="#f4ae32"/>
<circle cx="435.4" cy="242.9" r="2.95" fill="#f4ae32"/>
<circle cx="540.7" cy="415.8" r="2.95" fill="#e4f83c"/>
<circle cx="285.9" cy="202.7" r="2.95" fill="#e4f83c"/>
<circle cx="553.1" cy="306.9" r="2.95" fill="#f4ae32"/>
<circle cx="208.8" cy="226.8" r="2.95" fill="#e41e1e"/>
<circle cx="329.2" cy="366.7" r="2.95" fill="#f0641e"/>
<circle cx="417.0" cy="208.6" r="2.95" fill="#e4f83c"/>
<circle cx="353.4" cy="296.3" r="2.95" fill="#e4f83c"/>
<circle cx="312.6" cy="299.7" r="2.95" fill="#e4f83c"/>
<circle cx="529.4" cy="395.2" r="2.95" fill="#e4f83c"/>
<circle cx="486.1" cy="163.7" r="2.95" fill="#f4ae32"/>
<circle cx="394.8" cy="177.6" r="2.95" fill="#e4f83c"/>
<circle cx="298.0" cy="327.5" r="2.95" fill="#e4f83c"/>
<circle cx="460.8" cy="315.2" r="2.95" fill="#f4ae32"/>
<circle cx="578.0" cy="440.7" r="2.95" fill="#f4ae32"/>
<circle cx="388.6" cy="433.5" r="2.95" fill="#f4ae32"/>
<circle cx="388.8" cy="198.2" r="2.95" fill="#f0641e"/>
<circle cx="468.3" cy="158.0" r="2.95" fill="#e41e1e"/>
<circle cx="305.8" cy="230.6" r="2.95" fill="#f4ae32"/>
<circle cx="435.2" cy="242.7" r="2.95" fill="#f4ae32"/>
<circle cx="531.8" cy="280.8" r="2.95" fill="#e4f83c"/>
<circle cx="411.3" cy="355.8" r="2.95" fill="#f4ae32"/>
<circle cx="351.1" cy="376.0" r="2.95" fill="#e4f83c"/>
<circle cx="314.1" cy="322.6" r="2.95" fill="#e4f83c"/>
<circle cx="550.7" cy="522.2" r="2.95" fill="#f4ae32"/>
<circle cx="347.8" cy="323.1" r="2.95" fill="#f4ae32"/>
<circle cx="554.5" cy="292.5" r="2.95" fill="#f4ae32"/>
<circle cx="571.8" cy="468.2" r="2.95" fill="#f4ae32"/>
<circle cx="380.0" cy="357.0" r="2.95" fill="#e4f83c"/>
<circle cx="351.9" cy="340.5" r="2.95" fill="#e4f83c"/>
<circle cx="387.7" cy="234.4" r="2.95" fill="#f4ae32"/>
<circle cx="592.1" cy="409.5" r="2.95" fill="#e4f83c"/>
<circle cx="459.8" cy="194.9" r="2.95" fill="#f4ae32"/>
<circle cx="375.8" cy="359.0" r="2.95" fill="#e4f83c"/>
<circle cx="527.1" cy="420.6" r="2.95" fill="#e4f83c"/>
<circle cx="395.5" cy="392.0" r="2.95" fill="#e4f83c"/>
<circle cx="525.5" cy="383.6" r="2.95" fill="#e4f83c"/>
<circle cx="548.2" cy="296.5" r="2.95" fill="#f4ae32"/>
<circle cx="342.4" cy="199.1" r="2.95" fill="#e41e1e"/>
<circle cx="563.9" cy="397.5" r="2.95" fill="#e4f83c"/>
<circle cx="459.1" cy="415.4" r="2.95" fill="#e4f83c"/>
<circle cx="364.8" cy="200.2" r="2.95" fill="#e4f83c"/>
<circle cx="544.7" cy="318.1" r="2.95" fill="#f4ae32"/>
<circle cx="569.2" cy="498.8" r="2.95" fill="#e4f83c"/>
<circle cx="470.8" cy="181.7" r="2.95" fill="#f4ae32"/>
<circle cx="429.7" cy="248.5" r="2.95" fill="#e4f83c"/>
<circle cx="506.4" cy="421.7" r="2.95" fill="#e4f83c"/>
<circle cx="413.2" cy="342.7" r="2.95" fill="#f4ae32"/>
<circle cx="456.7" cy="134.0" r="2.95" fill="#e4f83c"/>
<circle cx="434.8" cy="457.7" r="2.95" fill="#f0641e"/>
<circle cx="299.7" cy="301.9" r="2.95" fill="#e4f83c"/>
<circle cx="438.0" cy="243.8" r="2.95" fill="#e41e1e"/>
<circle cx="356.6" cy="313.3" r="2.95" fill="#f4ae32"/>
<circle cx="343.6" cy="209.9" r="2.95" fill="#f4ae32"/>
<circle cx="537.1" cy="347.5" r="2.95" fill="#e4f83c"/>
<circle cx="377.8" cy="332.0" r="2.95" fill="#f0641e"/>
<circle cx="487.1" cy="158.3" r="2.95" fill="#f4ae32"/>
<circle cx="290.1" cy="297.2" r="2.95" fill="#e4f83c"/>
<circle cx="382.7" cy="191.2" r="2.95" fill="#e4f83c"/>
<circle cx="584.6" cy="477.4" r="2.95" fill="#e4f83c"/>
<circle cx="574.9" cy="436.9" r="2.95" fill="#f4ae32"/>
<circle cx="477.2" cy="317.8" r="2.95" fill="#f0641e"/>
<circle cx="327.4" cy="189.4" r="2.95" fill="#e4f83c"/>
<circle cx="181.1" cy="208.4" r="2.95" fill="#e4f83c"/>
<circle cx="428.7" cy="265.0" r="2.95" fill="#e4f83c"/>
<circle cx="426.7" cy="273.4" r="2.95" fill="#e4f83c"/>
<circle cx="326.0" cy="416.4" r="2.95" fill="#e4f83c"/>
<circle cx="557.1" cy="443.6" r="2.95" fill="#f4ae32"/>
<circle cx="338.3" cy="244.7" r="2.95" fill="#f4ae32"/>
<circle cx="372.2" cy="203.6" r="2.95" fill="#f4ae32"/>
<circle cx="523.4" cy="258.8" r="2.95" fill="#e4f83c"/>
<circle cx="361.3" cy="98.4" r="2.95" fill="#f4ae32"/>
<circle cx="316.6" cy="212.7" r="2.95" fill="#f0641e"/>
<circle cx="562.1" cy="330.6" r="2.95" fill="#f4ae32"/>
<circle cx="310.4" cy="232.9" r="2.95" fill="#e4f83c"/>
<circle cx="295.4" cy="305.4" r="2.95" fill="#e4f83c"/>
<circle cx="415.0" cy="348.4" r="2.95" fill="#e4f83c"/>
<circle cx="378.9" cy="194.8" r="2.95" fill="#f4ae32"/>
<circle cx="296.7" cy="77.5" r="2.95" fill="#e4f83c"/>
<circle cx="337.0" cy="340.7" r="2.95" fill="#e4f83c"/>
<circle cx="395.7" cy="177.4" r="2.95" fill="#e4f83c"/>
<circle cx="383.2" cy="196.7" r="2.95" fill="#e4f83c"/>
<circle cx="423.0" cy="370.0" r="2.95" fill="#e4f83c"/>
<circle cx="403.1" cy="94.7" r="2.95" fill="#e4f83c"/>
<circle cx="523.4" cy="445.0" r="2.95" fill="#e4f83c"/>
<circle cx="344.6" cy="107.0" r="2.95" fill="#e4f83c"/>
<circle cx="490.5" cy="409.3" r="2.95" fill="#e4f83c"/>
<circle cx="470.1" cy="238.8" r="2.95" fill="#f4ae32"/>
<circle cx="426.9" cy="435.7" r="2.95" fill="#e4f83c"/>
<circle cx="332.7" cy="218.2" r="2.95" fill="#f4ae32"/>
<circle cx="504.7" cy="287.4" r="2.95" fill="#f4ae32"/>
<circle cx="360.2" cy="346.5" r="2.95" fill="#f4ae32"/>
<circle cx="480.0" cy="199.5" r="2.95" fill="#e4f83c"/>
<circle cx="540.4" cy="234.3" r="2.95" fill="#f0641e"/>
<circle cx="436.0" cy="348.7" r="2.95" fill="#f4ae32"/>
<circle cx="375.5" cy="202.2" r="2.95" fill="#e4f83c"/>
<circle cx="303.0" cy="308.6" r="2.95" fill="#e4f83c"/>
<circle cx="564.6" cy="286.9" r="2.95" fill="#e4f83c"/>
<circle cx="434.6" cy="280.9" r="2.95" fill="#f4ae32"/>
<circle cx="509.3" cy="477.8" r="2.95" fill="#e4f83c"/>
<circle cx="565.6" cy="313.3" r="2.95" fill="#e4f83c"/>
<circle cx="412.5" cy="238.5" r="2.95" fill="#e4f83c"/>
<circle cx="364.8" cy="196.6" r="2.95" fill="#f4ae32"/>
<circle cx="565.3" cy="433.1" r="2.95" fill="#f4ae32"/>
<circle cx="529.3" cy="354.7" r="2.95" fill="#f4ae32"/>
<circle cx="343.5" cy="342.9" r="2.95" fill="#f4ae32"/>
<circle cx="592.5" cy="464.9" r="2.95" fill="#e4f83c"/>
<circle cx="471.5" cy="393.5" r="2.95" fill="#e4f83c"/>
<circle cx="554.4" cy="401.0" r="2.95" fill="#e4f83c"/>
<circle cx="493.7" cy="472.7" r="2.95" fill="#e4f83c"/>
<circle cx="529.8" cy="444.9" r="2.95" fill="#e4f83c"/>
<circle cx="471.6" cy="324.7" r="2.95" fill="#e4f83c"/>
<circle cx="452.1" cy="226.7" r="2.95" fill="#e4f83c"/>
<circle cx="527.3" cy="404.4" r="2.95" fill="#e4f83c"/>
<circle cx="413.9" cy="203.6" r="2.95" fill="#f4ae32"/>
<circle cx="416.3" cy="209.0" r="2.95" fill="#f0641e"/>
<circle cx="438.9" cy="232.4" r="2.95" fill="#f4ae32"/>
<circle cx="561.8" cy="470.0" r="2.95" fill="#f4ae32"/>
<circle cx="309.4" cy="225.4" r="2.95" fill="#e4f83c"/>
<circle cx="435.5" cy="251.9" r="2.95" fill="#e4f83c"/>
<circle cx="372.7" cy="213.9" r="2.95" fill="#f0641e"/>
<circle cx="337.6" cy="362.8" r="2.95" fill="#f0641e"/>
<circle cx="416.7" cy="416.2" r="2.95" fill="#e4f83c"/>
<circle cx="440.6" cy="326.5" r="2.95" fill="#f4ae32"/>
<circle cx="527.1" cy="267.7" r="2.95" fill="#e4f83c"/>
<circle cx="431.3" cy="253.1" r="2.95" fill="#f0641e"/>
<circle cx="374.1" cy="316.5" r="2.95" fill="#e4f83c"/>
<circle cx="429.4" cy="298.9" r="2.95" fill="#f4ae32"/>
<circle cx="434.0" cy="252.6" r="2.95" fill="#f0641e"/>
<circle cx="459.0" cy="193.2" r="2.95" fill="#e4f83c"/>
<circle cx="420.3" cy="326.9" r="2.95" fill="#e4f83c"/>
<circle cx="431.8" cy="148.8" r="2.95" fill="#e4f83c"/>
<circle cx="467.2" cy="472.3" r="2.95" fill="#e4f83c"/>
<circle cx="579.0" cy="417.2" r="2.95" fill="#f0641e"/>
<circle cx="302.9" cy="234.6" r="2.95" fill="#e4f83c"/>
<circle cx="321.4" cy="213.1" r="2.95" fill="#e4f83c"/>
<circle cx="388.5" cy="209.9" r="2.95" fill="#f4ae32"/>
<circle cx="487.2" cy="368.8" r="2.95" fill="#f4ae32"/>
<circle cx="509.4" cy="275.5" r="2.95" fill="#e4f83c"/>
<circle cx="536.1" cy="477.5" r="2.95" fill="#f4ae32"/>
<circle cx="588.6" cy="379.0" r="2.95" fill="#f4ae32"/>
<circle cx="352.0" cy="315.3" r="2.95" fill="#e4f83c"/>
<circle cx="361.7" cy="350.8" r="2.95" fill="#e4f83c"/>
<circle cx="437.0" cy="257.3" r="2.95" fill="#e41e1e"/>
<circle cx="390.0" cy="296.2" r="2.95" fill="#e4f83c"/>
<circle cx="295.9" cy="309.2" r="2.95" fill="#e4f83c"/>
<circle cx="583.3" cy="357.0" r="2.95" fill="#f4ae32"/>
<circle cx="301.5" cy="368.9" r="2.95" fill="#f4ae32"/>
<circle cx="350.7" cy="344.4" r="2.95" fill="#e4f83c"/>
<circle cx="313.5" cy="239.9" r="2.95" fill="#e4f83c"/>
<circle cx="375.9" cy="201.0" r="2.95" fill="#f4ae32"/>
<circle cx="443.2" cy="228.0" r="2.95" fill="#f4ae32"/>
<circle cx="467.8" cy="148.7" r="2.95" fill="#f4ae32"/>
<circle cx="467.9" cy="181.2" r="2.95" fill="#f4ae32"/>
<circle cx="581.3" cy="436.4" r="2.95" fill="#f4ae32"/>
<circle cx="478.7" cy="205.0" r="2.95" fill="#e4f83c"/>
<circle cx="481.5" cy="402.0" r="2.95" fill="#f4ae32"/>
<circle cx="490.3" cy="295.1" r="2.95" fill="#f4ae32"/>
<circle cx="492.2" cy="341.1" r="2.95" fill="#e4f83c"/>
<circle cx="515.0" cy="280.4" r="2.95" fill="#f4ae32"/>
<circle cx="352.4" cy="119.9" r="2.95" fill="#f4ae32"/>
<circle cx="491.9" cy="335.8" r="2.95" fill="#f0641e"/>
<circle cx="560.0" cy="319.6" r="2.95" fill="#e4f83c"/>
<circle cx="345.3" cy="219.4" r="2.95" fill="#e4f83c"/>
<circle cx="482.0" cy="399.9" r="2.95" fill="#f4ae32"/>
<circle cx="282.4" cy="343.4" r="2.95" fill="#e4f83c"/>
<circle cx="295.1" cy="352.9" r="2.95" fill="#f4ae32"/>
<circle cx="300.4" cy="228.1" r="2.95" fill="#f4ae32"/>
<circle cx="320.2" cy="331.6" r="2.95" fill="#f4ae32"/>
<circle cx="511.5" cy="416.3" r="2.95" fill="#f4ae32"/>
<circle cx="385.7" cy="213.4" r="2.95" fill="#f4ae32"/>
<circle cx="373.7" cy="363.9" r="2.95" fill="#e4f83c"/>
<circle cx="499.8" cy="427.6" r="2.95" fill="#e4f83c"/>
<circle cx="440.3" cy="313.2" r="2.95" fill="#f4ae32"/>
<circle cx="485.5" cy="158.5" r="2.95" fill="#e4f83c"/>
<circle cx="480.2" cy="446.6" r="2.95" fill="#f4ae32"/>
<circle cx="313.5" cy="214.2" r="2.95" fill="#e4f83c"/>
<circle cx="355.4" cy="217.6" r="2.95" fill="#f4ae32"/>
<circle cx="423.7" cy="254.9" r="2.95" fill="#e4f83c"/>
<circle cx="465.4" cy="223.4" r="2.95" fill="#f4ae32"/>
<circle cx="297.4" cy="317.9" r="2.95" fill="#f4ae32"/>
<circle cx="337.4" cy="202.6" r="2.95" fill="#e4f83c"/>
<circle cx="339.7" cy="199.6" r="2.95" fill="#f4ae32"/>
<circle cx="262.7" cy="221.4" r="2.95" fill="#e4f83c"/>
<circle cx="462.1" cy="193.4" r="2.95" fill="#e4f83c"/>
<circle cx="420.4" cy="323.8" r="2.95" fill="#e4f83c"/>
<circle cx="556.0" cy="453.4" r="2.95" fill="#e4f83c"/>
<circle cx="498.8" cy="295.7" r="2.95" fill="#f4ae32"/>
<circle cx="338.7" cy="343.1" r="2.95" fill="#e4f83c"/>
<circle cx="591.0" cy="419.9" r="2.95" fill="#e4f83c"/>
<circle cx="342.2" cy="346.9" r="2.95" fill="#f4ae32"/>
<circle cx="585.0" cy="408.7" r="2.95" fill="#e4f83c"/>
<circle cx="500.5" cy="446.0" r="2.95" fill="#f4ae32"/>
<circle cx="354.0" cy="346.1" r="2.95" fill="#f4ae32"/>
<circle cx="403.0" cy="228.1" r="2.95" fill="#e4f83c"/>
<circle cx="596.3" cy="416.1" r="2.95" fill="#f4ae32"/>
<circle cx="414.6" cy="267.2" r="2.95" fill="#f0641e"/>
<circle cx="319.5" cy="336.0" r="2.95" fill="#f0641e"/>
<circle cx="288.6" cy="200.5" r="2.95" fill="#e4f83c"/>
<circle cx="300.5" cy="211.9" r="2.95" fill="#e4f83c"/>
<circle cx="304.5" cy="370.6" r="2.95" fill="#e4f83c"/>
<circle cx="438.6" cy="257.5" r="2.95" fill="#f4ae32"/>
<circle cx="471.5" cy="435.3" r="2.95" fill="#e4f83c"/>
<circle cx="531.6" cy="423.4" r="2.95" fill="#e4f83c"/>
<circle cx="437.8" cy="311.1" r="2.95" fill="#f4ae32"/>
<circle cx="504.2" cy="434.3" r="2.95" fill="#e4f83c"/>
<circle cx="556.3" cy="301.5" r="2.95" fill="#e4f83c"/>
<circle cx="247.1" cy="256.8" r="2.95" fill="#e41e1e"/>
<circle cx="206.7" cy="238.6" r="2.95" fill="#f4ae32"/>
<circle cx="343.8" cy="185.2" r="2.95" fill="#f4ae32"/>
<circle cx="498.6" cy="289.9" r="2.95" fill="#e4f83c"/>
<circle cx="163.9" cy="205.6" r="2.95" fill="#e4f83c"/>
<circle cx="521.6" cy="330.2" r="2.95" fill="#e4f83c"/>
<circle cx="136.1" cy="341.1" r="2.95" fill="#e4f83c"/>
<circle cx="539.0" cy="426.5" r="2.95" fill="#e4f83c"/>
<circle cx="467.9" cy="167.9" r="2.95" fill="#e4f83c"/>
<circle cx="392.1" cy="310.3" r="2.95" fill="#f4ae32"/>
<circle cx="455.3" cy="138.2" r="2.95" fill="#e4f83c"/>
<circle cx="551.9" cy="296.3" r="2.95" fill="#f4ae32"/>
<circle cx="485.8" cy="208.9" r="2.95" fill="#e4f83c"/>
<circle cx="574.3" cy="301.9" r="2.95" fill="#e4f83c"/>
<circle cx="433.1" cy="277.1" r="2.95" fill="#e4f83c"/>
<circle cx="386.4" cy="173.5" r="2.95" fill="#e4f83c"/>
<circle cx="424.0" cy="199.3" r="2.95" fill="#f4ae32"/>
<circle cx="321.7" cy="355.0" r="2.95" fill="#e4f83c"/>
<circle cx="479.2" cy="430.3" r="2.95" fill="#e4f83c"/>
<circle cx="424.6" cy="403.0" r="2.95" fill="#e4f83c"/>
<circle cx="518.3" cy="290.7" r="2.95" fill="#f4ae32"/>
<circle cx="585.0" cy="491.2" r="2.95" fill="#e4f83c"/>
<circle cx="408.6" cy="325.4" r="2.95" fill="#f4ae32"/>
<circle cx="494.7" cy="188.3" r="2.95" fill="#e4f83c"/>
<circle cx="425.2" cy="108.9" r="2.95" fill="#e4f83c"/>
<circle cx="305.4" cy="349.8" r="2.95" fill="#f4ae32"/>
<circle cx="332.4" cy="360.9" r="2.95" fill="#e4f83c"/>
<circle cx="474.5" cy="180.3" r="2.95" fill="#f4ae32"/>
<circle cx="544.0" cy="502.4" r="2.95" fill="#e4f83c"/>
<circle cx="507.8" cy="285.9" r="2.95" fill="#e4f83c"/>
<circle cx="322.2" cy="307.9" r="2.95" fill="#e4f83c"/>
<circle cx="372.9" cy="232.7" r="2.95" fill="#e4f83c"/>
<circle cx="294.3" cy="225.0" r="2.95" fill="#e4f83c"/>
<circle cx="436.5" cy="246.7" r="2.95" fill="#e4f83c"/>
<circle cx="343.1" cy="354.8" r="2.95" fill="#e4f83c"/>
<circle cx="347.3" cy="203.9" r="2.95" fill="#f4ae32"/>
<circle cx="280.1" cy="209.3" r="2.95" fill="#f4ae32"/>
<circle cx="488.8" cy="173.4" r="2.95" fill="#e4f83c"/>
<circle cx="537.5" cy="429.3" r="2.95" fill="#e4f83c"/>
<circle cx="524.3" cy="395.0" r="2.95" fill="#e4f83c"/>
<circle cx="304.6" cy="376.6" r="2.95" fill="#e4f83c"/>
<circle cx="300.8" cy="230.5" r="2.95" fill="#e4f83c"/>
<circle cx="216.8" cy="229.3" r="2.95" fill="#e4f83c"/>
<circle cx="331.5" cy="222.8" r="2.95" fill="#e4f83c"/>
<circle cx="303.8" cy="219.0" r="2.95" fill="#e4f83c"/>
<circle cx="372.4" cy="361.4" r="2.95" fill="#f4ae32"/>
<circle cx="459.7" cy="323.1" r="2.95" fill="#e4f83c"/>
<circle cx="437.7" cy="265.4" r="2.95" fill="#f4ae32"/>
<circle cx="391.6" cy="377.6" r="2.95" fill="#e4f83c"/>
<circle cx="407.3" cy="299.3" r="2.95" fill="#e4f83c"/>
<circle cx="515.4" cy="411.5" r="2.95" fill="#f4ae32"/>
<circle cx="290.2" cy="222.8" r="2.95" fill="#f4ae32"/>
<circle cx="349.0" cy="343.8" r="2.95" fill="#f4ae32"/>
<circle cx="476.5" cy="229.6" r="2.95" fill="#f4ae32"/>
<circle cx="331.6" cy="386.0" r="2.95" fill="#f4ae32"/>
<circle cx="293.0" cy="225.1" r="2.95" fill="#f0641e"/>
<circle cx="464.9" cy="184.0" r="2.95" fill="#f4ae32"/>
<circle cx="417.1" cy="311.7" r="2.95" fill="#f0641e"/>
<circle cx="318.6" cy="203.7" r="2.95" fill="#e4f83c"/>
<circle cx="303.1" cy="306.2" r="2.95" fill="#e4f83c"/>
<circle cx="540.5" cy="291.3" r="2.95" fill="#e4f83c"/>
<circle cx="402.9" cy="327.5" r="2.95" fill="#e4f83c"/>
<circle cx="363.9" cy="327.2" r="2.95" fill="#e4f83c"/>
<circle cx="465.9" cy="324.2" r="2.95" fill="#e4f83c"/>
<circle cx="466.0" cy="404.7" r="2.95" fill="#f4ae32"/>
<circle cx="474.2" cy="185.6" r="2.95" fill="#e4f83c"/>
<circle cx="528.6" cy="416.3" r="2.95" fill="#e4f83c"/>
<circle cx="493.4" cy="479.9" r="2.95" fill="#e4f83c"/>
<circle cx="526.6" cy="445.8" r="2.95" fill="#e4f83c"/>
<circle cx="346.8" cy="311.8" r="2.95" fill="#f4ae32"/>
<circle cx="326.0" cy="225.4" r="2.95" fill="#f4ae32"/>
<circle cx="418.9" cy="368.5" r="2.95" fill="#f0641e"/>
<circle cx="416.3" cy="247.6" r="2.95" fill="#f0641e"/>
<circle cx="175.0" cy="217.8" r="2.95" fill="#f4ae32"/>
<circle cx="306.1" cy="330.4" r="2.95" fill="#e4f83c"/>
<circle cx="342.2" cy="365.4" r="2.95" fill="#f4ae32"/>
<circle cx="388.9" cy="312.9" r="2.95" fill="#e4f83c"/>
<circle cx="496.3" cy="380.1" r="2.95" fill="#e4f83c"/>
<circle cx="248.7" cy="356.9" r="2.95" fill="#f4ae32"/>
<circle cx="514.0" cy="413.1" r="2.95" fill="#f4ae32"/>
<circle cx="464.4" cy="199.5" r="2.95" fill="#e4f83c"/>
<circle cx="414.6" cy="198.8" r="2.95" fill="#e4f83c"/>
<circle cx="503.2" cy="490.7" r="2.95" fill="#e4f83c"/>
<circle cx="344.4" cy="215.7" r="2.95" fill="#f4ae32"/>
<circle cx="392.0" cy="370.5" r="2.95" fill="#f4ae32"/>
<circle cx="324.7" cy="231.8" r="2.95" fill="#f4ae32"/>
<circle cx="192.0" cy="323.8" r="2.95" fill="#f0641e"/>
<circle cx="271.7" cy="206.8" r="2.95" fill="#e4f83c"/>
<circle cx="437.4" cy="451.1" r="2.95" fill="#f4ae32"/>
<circle cx="238.8" cy="418.8" r="2.95" fill="#e4f83c"/>
<circle cx="457.1" cy="272.6" r="2.95" fill="#f4ae32"/>
<circle cx="532.1" cy="416.7" r="2.95" fill="#e4f83c"/>
<circle cx="337.5" cy="326.7" r="2.95" fill="#e4f83c"/>
<circle cx="425.8" cy="246.1" r="2.95" fill="#e4f83c"/>
<circle cx="334.4" cy="243.2" r="2.95" fill="#e4f83c"/>
<circle cx="307.9" cy="351.8" r="2.95" fill="#f4ae32"/>
<circle cx="522.2" cy="412.8" r="2.95" fill="#f0641e"/>
<circle cx="416.4" cy="118.9" r="2.95" fill="#e4f83c"/>
<circle cx="447.9" cy="366.0" r="2.95" fill="#f4ae32"/>
<circle cx="347.4" cy="318.6" r="2.95" fill="#f0641e"/>
<circle cx="411.4" cy="136.6" r="2.95" fill="#e4f83c"/>
<circle cx="429.0" cy="129.0" r="2.95" fill="#f4ae32"/>
<circle cx="309.6" cy="307.7" r="2.95" fill="#f4ae32"/>
<circle cx="498.3" cy="428.7" r="2.95" fill="#f4ae32"/>
<circle cx="478.9" cy="423.2" r="2.95" fill="#e4f83c"/>
<circle cx="404.8" cy="418.5" r="2.95" fill="#f4ae32"/>
<circle cx="320.0" cy="198.1" r="2.95" fill="#f4ae32"/>
<circle cx="458.1" cy="315.5" r="2.95" fill="#f4ae32"/>
<circle cx="392.8" cy="128.2" r="2.95" fill="#f4ae32"/>
<circle cx="369.6" cy="319.8" r="2.95" fill="#e4f83c"/>
<circle cx="302.7" cy="230.0" r="2.95" fill="#f4ae32"/>
<circle cx="561.0" cy="395.7" r="2.95" fill="#e4f83c"/>
<circle cx="338.3" cy="362.8" r="2.95" fill="#e4f83c"/>
<circle cx="429.6" cy="313.1" r="2.95" fill="#f4ae32"/>
<circle cx="509.4" cy="301.0" r="2.95" fill="#f4ae32"/>
<circle cx="532.7" cy="381.0" r="2.95" fill="#e4f83c"/>
<circle cx="537.1" cy="438.1" r="2.95" fill="#f0641e"/>
<circle cx="524.1" cy="354.1" r="2.95" fill="#f4ae32"/>
<circle cx="342.7" cy="325.8" r="2.95" fill="#f0641e"/>
<circle cx="516.4" cy="419.4" r="2.95" fill="#e4f83c"/>
<circle cx="484.7" cy="441.3" r="2.95" fill="#e4f83c"/>
<circle cx="506.6" cy="403.4" r="2.95" fill="#e4f83c"/>
<circle cx="323.1" cy="219.8" r="2.95" fill="#f0641e"/>
<circle cx="392.5" cy="202.8" r="2.95" fill="#f4ae32"/>
<circle cx="577.7" cy="437.5" r="2.95" fill="#e4f83c"/>
<circle cx="435.4" cy="261.1" r="2.95" fill="#f4ae32"/>
<circle cx="481.4" cy="438.1" r="2.95" fill="#e4f83c"/>
<circle cx="295.3" cy="221.5" r="2.95" fill="#e4f83c"/>
<circle cx="529.6" cy="421.0" r="2.95" fill="#e4f83c"/>
<circle cx="318.9" cy="218.0" r="2.95" fill="#e4f83c"/>
<circle cx="455.6" cy="264.4" r="2.95" fill="#f4ae32"/>
<circle cx="578.3" cy="437.1" r="2.95" fill="#e4f83c"/>
<circle cx="500.4" cy="487.7" r="2.95" fill="#e4f83c"/>
<circle cx="312.2" cy="307.1" r="2.95" fill="#f4ae32"/>
<circle cx="460.0" cy="241.0" r="2.95" fill="#e4f83c"/>
<circle cx="493.3" cy="175.1" r="2.95" fill="#e4f83c"/>
<circle cx="404.6" cy="262.8" r="2.95" fill="#f4ae32"/>
<circle cx="554.3" cy="416.1" r="2.95" fill="#e4f83c"/>
<circle cx="432.3" cy="256.8" r="2.95" fill="#f4ae32"/>
<circle cx="430.7" cy="324.8" r="2.95" fill="#e4f83c"/>
<circle cx="470.5" cy="319.4" r="2.95" fill="#e4f83c"/>
<circle cx="457.4" cy="164.1" r="2.95" fill="#e4f83c"/>
<circle cx="357.2" cy="187.3" r="2.95" fill="#e4f83c"/>
<circle cx="510.8" cy="380.5" r="2.95" fill="#e4f83c"/>
<circle cx="389.4" cy="166.8" r="2.95" fill="#f4ae32"/>
<circle cx="320.1" cy="338.8" r="2.95" fill="#e4f83c"/>
<circle cx="387.9" cy="162.1" r="2.95" fill="#e4f83c"/>
<circle cx="396.1" cy="217.1" r="2.95" fill="#f4ae32"/>
<circle cx="440.8" cy="266.1" r="2.95" fill="#f0641e"/>
<circle cx="432.6" cy="197.0" r="2.95" fill="#f4ae32"/>
<circle cx="536.1" cy="431.9" r="2.95" fill="#e4f83c"/>
<circle cx="575.5" cy="440.4" r="2.95" fill="#f4ae32"/>
<circle cx="418.4" cy="253.5" r="2.95" fill="#e4f83c"/>
<circle cx="433.2" cy="256.1" r="2.95" fill="#f4ae32"/>
<circle cx="472.6" cy="150.0" r="2.95" fill="#e4f83c"/>
<circle cx="599.2" cy="401.2" r="2.95" fill="#e4f83c"/>
<circle cx="213.0" cy="238.6" r="2.95" fill="#f4ae32"/>
<circle cx="452.7" cy="327.5" r="2.95" fill="#e4f83c"/>
<circle cx="588.2" cy="471.0" r="2.95" fill="#e4f83c"/>
<circle cx="417.3" cy="230.8" r="2.95" fill="#e4f83c"/>
<circle cx="475.0" cy="152.3" r="2.95" fill="#e4f83c"/>
<circle cx="525.8" cy="441.4" r="2.95" fill="#e4f83c"/>
<circle cx="498.4" cy="408.3" r="2.95" fill="#f0641e"/>
<circle cx="467.9" cy="360.1" r="2.95" fill="#e4f83c"/>
<circle cx="433.2" cy="250.7" r="2.95" fill="#f0641e"/>
<circle cx="482.4" cy="171.1" r="2.95" fill="#e4f83c"/>
<circle cx="419.7" cy="258.3" r="2.95" fill="#e4f83c"/>
<circle cx="588.0" cy="440.2" r="2.95" fill="#f4ae32"/>
<circle cx="380.6" cy="341.1" r="2.95" fill="#f4ae32"/>
<circle cx="350.5" cy="214.6" r="2.95" fill="#e4f83c"/>
<circle cx="233.7" cy="336.4" r="2.95" fill="#e4f83c"/>
<circle cx="442.0" cy="322.4" r="2.95" fill="#e4f83c"/>
<circle cx="310.5" cy="208.2" r="2.95" fill="#e4f83c"/>
<circle cx="375.3" cy="116.5" r="2.95" fill="#e4f83c"/>
<circle cx="324.8" cy="317.4" r="2.95" fill="#e4f83c"/>
<circle cx="313.9" cy="328.3" r="2.95" fill="#f4ae32"/>
<circle cx="469.1" cy="185.1" r="2.95" fill="#e4f83c"/>
<circle cx="438.5" cy="254.9" r="2.95" fill="#f4ae32"/>
<circle cx="505.1" cy="487.2" r="2.95" fill="#f0641e"/>
<circle cx="462.6" cy="201.7" r="2.95" fill="#e4f83c"/>
<circle cx="423.8" cy="311.6" r="2.95" fill="#f4ae32"/>
<circle cx="360.5" cy="297.0" r="2.95" fill="#e4f83c"/>
<circle cx="440.6" cy="263.8" r="2.95" fill="#e4f83c"/>
<circle cx="363.1" cy="337.3" r="2.95" fill="#e4f83c"/>
<circle cx="470.7" cy="394.5" r="2.95" fill="#e4f83c"/>
<circle cx="495.9" cy="459.1" r="2.95" fill="#f4ae32"/>
<circle cx="475.8" cy="154.0" r="2.95" fill="#e4f83c"/>
<circle cx="472.3" cy="316.5" r="2.95" fill="#e4f83c"/>
<circle cx="472.5" cy="201.2" r="2.95" fill="#e4f83c"/>
<circle cx="440.3" cy="236.1" r="2.95" fill="#f0641e"/>
<circle cx="445.5" cy="354.0" r="2.95" fill="#f4ae32"/>
<circle cx="369.5" cy="201.8" r="2.95" fill="#e4f83c"/>
<circle cx="568.8" cy="434.5" r="2.95" fill="#f4ae32"/>
<circle cx="302.5" cy="201.3" r="2.95" fill="#e4f83c"/>
<circle cx="559.4" cy="379.7" r="2.95" fill="#e4f83c"/>
<circle cx="361.8" cy="309.2" r="2.95" fill="#e4f83c"/>
<circle cx="405.0" cy="273.8" r="2.95" fill="#f4ae32"/>
<circle cx="394.2" cy="222.8" r="2.95" fill="#f4ae32"/>
<circle cx="331.9" cy="236.7" r="2.95" fill="#f4ae32"/>
<circle cx="481.4" cy="356.4" r="2.95" fill="#e4f83c"/>
<circle cx="307.2" cy="380.9" r="2.95" fill="#e4f83c"/>
<circle cx="432.3" cy="224.5" r="2.95" fill="#e4f83c"/>
<circle cx="490.0" cy="420.4" r="2.95" fill="#f4ae32"/>
<circle cx="377.5" cy="207.6" r="2.95" fill="#e4f83c"/>
<circle cx="330.9" cy="310.2" r="2.95" fill="#f4ae32"/>
<circle cx="416.8" cy="238.7" r="2.95" fill="#e4f83c"/>
<circle cx="305.8" cy="377.4" r="2.95" fill="#e4f83c"/>
<circle cx="440.1" cy="221.5" r="2.95" fill="#e4f83c"/>
<circle cx="476.0" cy="258.6" r="2.95" fill="#e4f83c"/>
<circle cx="371.0" cy="203.1" r="2.95" fill="#e4f83c"/>
<circle cx="488.1" cy="210.3" r="2.95" fill="#f4ae32"/>
<circle cx="310.5" cy="306.8" r="2.95" fill="#f4ae32"/>
<circle cx="347.2" cy="346.0" r="2.95" fill="#e4f83c"/>
<circle cx="425.7" cy="332.9" r="2.95" fill="#e4f83c"/>
<circle cx="551.4" cy="451.4" r="2.95" fill="#e4f83c"/>
<circle cx="330.6" cy="333.3" r="2.95" fill="#f4ae32"/>
<circle cx="524.7" cy="286.3" r="2.95" fill="#e4f83c"/>
<circle cx="351.8" cy="206.2" r="2.95" fill="#f4ae32"/>
<circle cx="356.6" cy="197.9" r="2.95" fill="#e4f83c"/>
<circle cx="327.2" cy="372.0" r="2.95" fill="#f0641e"/>
<circle cx="271.9" cy="228.1" r="2.95" fill="#e4f83c"/>
<circle cx="473.7" cy="311.0" r="2.95" fill="#e4f83c"/>
<circle cx="437.4" cy="140.7" r="2.95" fill="#f4ae32"/>
<circle cx="533.4" cy="399.9" r="2.95" fill="#e4f83c"/>
<circle cx="437.2" cy="226.5" r="2.95" fill="#f4ae32"/>
<circle cx="524.8" cy="409.2" r="2.95" fill="#f4ae32"/>
<circle cx="348.2" cy="351.9" r="2.95" fill="#f4ae32"/>
<circle cx="320.1" cy="380.7" r="2.95" fill="#f0641e"/>
<circle cx="336.0" cy="338.2" r="2.95" fill="#e4f83c"/>
<circle cx="546.5" cy="450.0" r="2.95" fill="#e4f83c"/>
<circle cx="559.7" cy="422.3" r="2.95" fill="#e4f83c"/>
<circle cx="242.3" cy="412.2" r="2.95" fill="#e4f83c"/>
<circle cx="304.8" cy="298.4" r="2.95" fill="#e4f83c"/>
<circle cx="486.9" cy="394.8" r="2.95" fill="#e4f83c"/>
<circle cx="491.9" cy="244.9" r="2.95" fill="#e4f83c"/>
<circle cx="474.9" cy="180.9" r="2.95" fill="#e4f83c"/>
<circle cx="339.5" cy="204.7" r="2.95" fill="#e4f83c"/>
<circle cx="423.6" cy="253.3" r="2.95" fill="#e4f83c"/>
<circle cx="572.0" cy="405.9" r="2.95" fill="#f4ae32"/>
<circle cx="496.5" cy="460.7" r="2.95" fill="#e4f83c"/>
<circle cx="228.5" cy="336.4" r="2.95" fill="#e4f83c"/>
<circle cx="258.7" cy="338.7" r="2.95" fill="#f4ae32"/>
<circle cx="523.6" cy="414.7" r="2.95" fill="#f4ae32"/>
<circle cx="329.2" cy="236.3" r="2.95" fill="#f4ae32"/>
<circle cx="533.1" cy="443.1" r="2.95" fill="#f4ae32"/>
<circle cx="358.6" cy="358.3" r="2.95" fill="#e4f83c"/>
<circle cx="356.3" cy="362.6" r="2.95" fill="#e4f83c"/>
<circle cx="529.3" cy="306.7" r="2.95" fill="#e4f83c"/>
<circle cx="528.8" cy="284.4" r="2.95" fill="#f0641e"/>
<circle cx="405.1" cy="111.0" r="2.95" fill="#f4ae32"/>
<circle cx="292.4" cy="249.8" r="2.95" fill="#f0641e"/>
<circle cx="473.6" cy="205.0" r="2.95" fill="#f4ae32"/>
<circle cx="536.6" cy="403.4" r="2.95" fill="#f4ae32"/>
<circle cx="318.3" cy="195.5" r="2.95" fill="#f4ae32"/>
<circle cx="464.4" cy="183.2" r="2.95" fill="#e4f83c"/>
<circle cx="432.3" cy="253.4" r="2.95" fill="#f4ae32"/>
<circle cx="519.4" cy="471.6" r="2.95" fill="#f4ae32"/>
<circle cx="415.5" cy="205.6" r="2.95" fill="#e4f83c"/>
<circle cx="497.9" cy="418.7" r="2.95" fill="#e4f83c"/>
<circle cx="348.8" cy="212.7" r="2.95" fill="#e4f83c"/>
<circle cx="523.3" cy="343.8" r="2.95" fill="#f4ae32"/>
<circle cx="195.3" cy="336.0" r="2.95" fill="#e4f83c"/>
<circle cx="466.8" cy="232.1" r="2.95" fill="#f0641e"/>
<circle cx="409.1" cy="210.1" r="2.95" fill="#e4f83c"/>
<circle cx="317.7" cy="208.4" r="2.95" fill="#e4f83c"/>
<circle cx="468.5" cy="218.3" r="2.95" fill="#f4ae32"/>
<circle cx="305.8" cy="375.5" r="2.95" fill="#e4f83c"/>
<circle cx="442.2" cy="344.1" r="2.95" fill="#e41e1e"/>
<circle cx="368.5" cy="298.1" r="2.95" fill="#f0641e"/>
<circle cx="432.6" cy="167.5" r="2.95" fill="#f4ae32"/>
<circle cx="317.5" cy="215.0" r="2.95" fill="#e4f83c"/>
<circle cx="573.6" cy="450.6" r="2.95" fill="#f4ae32"/>
<circle cx="300.1" cy="226.7" r="2.95" fill="#e4f83c"/>
<circle cx="450.4" cy="223.2" r="2.95" fill="#f4ae32"/>
<circle cx="582.2" cy="430.3" r="2.95" fill="#e4f83c"/>
<circle cx="137.0" cy="405.0" r="2.95" fill="#f4ae32"/>
<circle cx="450.7" cy="195.8" r="2.95" fill="#f4ae32"/>
<circle cx="258.0" cy="224.7" r="2.95" fill="#e4f83c"/>
<circle cx="297.5" cy="205.7" r="2.95" fill="#e4f83c"/>
<circle cx="500.2" cy="261.4" r="2.95" fill="#f4ae32"/>
<circle cx="435.7" cy="271.3" r="2.95" fill="#f0641e"/>
<circle cx="435.1" cy="261.3" r="2.95" fill="#e4f83c"/>
<circle cx="294.2" cy="306.8" r="2.95" fill="#e41e1e"/>
<circle cx="425.3" cy="243.5" r="2.95" fill="#f4ae32"/>
<circle cx="461.7" cy="438.4" r="2.95" fill="#e4f83c"/>
<circle cx="415.7" cy="221.3" r="2.95" fill="#e4f83c"/>
<circle cx="243.1" cy="427.6" r="2.95" fill="#e4f83c"/>
<circle cx="499.9" cy="255.9" r="2.95" fill="#e4f83c"/>
<circle cx="404.7" cy="240.0" r="2.95" fill="#f4ae32"/>
<circle cx="474.2" cy="360.6" r="2.95" fill="#e4f83c"/>
<circle cx="312.6" cy="233.4" r="2.95" fill="#e4f83c"/>
<circle cx="397.9" cy="442.3" r="2.95" fill="#f4ae32"/>
<circle cx="367.1" cy="215.6" r="2.95" fill="#e4f83c"/>
<circle cx="297.8" cy="318.8" r="2.95" fill="#e4f83c"/>
<circle cx="497.9" cy="377.3" r="2.95" fill="#f4ae32"/>
<circle cx="402.1" cy="326.6" r="2.95" fill="#f4ae32"/>
<circle cx="261.8" cy="275.4" r="2.95" fill="#e4f83c"/>
<circle cx="413.6" cy="230.3" r="2.95" fill="#e4f83c"/>
<circle cx="398.4" cy="205.4" r="2.95" fill="#f4ae32"/>
<circle cx="508.2" cy="350.5" r="2.95" fill="#f4ae32"/>
<circle cx="417.2" cy="211.4" r="2.95" fill="#e4f83c"/>
<circle cx="563.3" cy="462.1" r="2.95" fill="#f4ae32"/>
<circle cx="516.8" cy="406.6" r="2.95" fill="#e4f83c"/>
<circle cx="295.6" cy="317.2" r="2.95" fill="#e4f83c"/>
<circle cx="297.8" cy="267.3" r="2.95" fill="#e4f83c"/>
<circle cx="536.3" cy="360.5" r="2.95" fill="#f4ae32"/>
<circle cx="503.3" cy="349.3" r="2.95" fill="#e4f83c"/>
<circle cx="422.5" cy="206.8" r="2.95" fill="#f4ae32"/>
<circle cx="362.9" cy="330.6" r="2.95" fill="#e4f83c"/>
<circle cx="368.4" cy="318.1" r="2.95" fill="#e4f83c"/>
<circle cx="352.5" cy="270.8" r="2.95" fill="#e4f83c"/>
<circle cx="585.6" cy="463.1" r="2.95" fill="#e4f83c"/>
<circle cx="400.5" cy="210.0" r="2.95" fill="#e4f83c"/>
<circle cx="487.1" cy="152.8" r="2.95" fill="#e4f83c"/>
<circle cx="473.1" cy="228.0" r="2.95" fill="#f4ae32"/>
<circle cx="595.4" cy="433.4" r="2.95" fill="#e4f83c"/>
<circle cx="445.1" cy="206.5" r="2.95" fill="#e4f83c"/>
<circle cx="444.8" cy="289.9" r="2.95" fill="#f4ae32"/>
<circle cx="563.1" cy="450.0" r="2.95" fill="#e4f83c"/>
<circle cx="564.8" cy="447.1" r="2.95" fill="#f4ae32"/>
<circle cx="320.5" cy="78.7" r="2.95" fill="#f4ae32"/>
<circle cx="538.2" cy="405.7" r="2.95" fill="#f4ae32"/>
<circle cx="420.5" cy="204.6" r="2.95" fill="#e4f83c"/>
<circle cx="237.6" cy="430.4" r="2.95" fill="#e41e1e"/>
<circle cx="288.6" cy="231.6" r="2.95" fill="#f0641e"/>
<circle cx="510.3" cy="252.1" r="2.95" fill="#f4ae32"/>
<circle cx="428.6" cy="249.7" r="2.95" fill="#f4ae32"/>
<circle cx="451.1" cy="243.1" r="2.95" fill="#e4f83c"/>
<circle cx="567.9" cy="477.5" r="2.95" fill="#f0641e"/>
<circle cx="592.2" cy="446.9" r="2.95" fill="#e4f83c"/>
<circle cx="301.4" cy="245.3" r="2.95" fill="#f4ae32"/>
<circle cx="481.2" cy="174.9" r="2.95" fill="#e4f83c"/>
<circle cx="331.6" cy="337.9" r="2.95" fill="#f4ae32"/>
<circle cx="336.4" cy="357.3" r="2.95" fill="#f4ae32"/>
<circle cx="504.6" cy="301.0" r="2.95" fill="#e4f83c"/>
<circle cx="586.1" cy="421.7" r="2.95" fill="#e4f83c"/>
<circle cx="503.0" cy="252.6" r="2.95" fill="#e4f83c"/>
<circle cx="489.5" cy="373.0" r="2.95" fill="#e4f83c"/>
<circle cx="420.7" cy="217.0" r="2.95" fill="#e4f83c"/>
<circle cx="480.7" cy="164.8" r="2.95" fill="#e41e1e"/>
<circle cx="463.7" cy="446.8" r="2.95" fill="#e4f83c"/>
<circle cx="288.9" cy="221.3" r="2.95" fill="#f4ae32"/>
<circle cx="519.9" cy="464.8" r="2.95" fill="#e4f83c"/>
<circle cx="318.3" cy="206.5" r="2.95" fill="#f4ae32"/>
<circle cx="400.0" cy="331.1" r="2.95" fill="#f4ae32"/>
<circle cx="303.6" cy="350.0" r="2.95" fill="#f4ae32"/>
<circle cx="428.0" cy="299.6" r="2.95" fill="#f4ae32"/>
<circle cx="470.3" cy="164.9" r="2.95" fill="#f4ae32"/>
<circle cx="541.3" cy="365.1" r="2.95" fill="#f4ae32"/>
<circle cx="572.9" cy="532.4" r="2.95" fill="#f4ae32"/>
<circle cx="495.6" cy="291.4" r="2.95" fill="#f4ae32"/>
<circle cx="576.9" cy="414.9" r="2.95" fill="#f4ae32"/>
<circle cx="338.0" cy="309.9" r="2.95" fill="#e4f83c"/>
<circle cx="500.4" cy="250.9" r="2.95" fill="#e4f83c"/>
<circle cx="298.4" cy="79.8" r="2.95" fill="#e4f83c"/>
<circle cx="457.6" cy="202.4" r="2.95" fill="#f4ae32"/>
<circle cx="380.0" cy="570.0" r="2.95" fill="#e4f83c"/>
<circle cx="312.2" cy="215.3" r="2.95" fill="#e4f83c"/>
<circle cx="564.2" cy="294.5" r="2.95" fill="#f0641e"/>
<circle cx="433.8" cy="268.4" r="2.95" fill="#f4ae32"/>
<circle cx="340.5" cy="352.9" r="2.95" fill="#e4f83c"/>
<circle cx="567.2" cy="438.7" r="2.95" fill="#f4ae32"/>
<circle cx="531.4" cy="393.4" r="2.95" fill="#e4f83c"/>
<circle cx="485.4" cy="288.0" r="2.95" fill="#e4f83c"/>
<circle cx="385.8" cy="190.4" r="2.95" fill="#f4ae32"/>
<circle cx="487.7" cy="268.5" r="2.95" fill="#e4f83c"/>
<circle cx="386.7" cy="177.2" r="2.95" fill="#f0641e"/>
<circle cx="275.7" cy="203.5" r="2.95" fill="#e4f83c"/>
<circle cx="494.4" cy="269.9" r="2.95" fill="#e4f83c"/>
<circle cx="528.0" cy="389.4" r="2.95" fill="#e4f83c"/>
<circle cx="352.2" cy="317.5" r="2.95" fill="#e4f83c"/>
<circle cx="465.8" cy="211.0" r="2.95" fill="#f4ae32"/>
<circle cx="506.1" cy="359.4" r="2.95" fill="#e4f83c"/>
<circle cx="256.5" cy="345.9" r="2.95" fill="#e41e1e"/>
<circle cx="396.1" cy="261.1" r="2.95" fill="#f4ae32"/>
<circle cx="287.0" cy="233.2" r="2.95" fill="#f4ae32"/>
<circle cx="439.3" cy="256.5" r="2.95" fill="#e4f83c"/>
<circle cx="515.4" cy="406.8" r="2.95" fill="#e4f83c"/>
<circle cx="387.7" cy="215.6" r="2.95" fill="#e4f83c"/>
<circle cx="453.6" cy="169.8" r="2.95" fill="#f4ae32"/>
<circle cx="448.2" cy="241.1" r="2.95" fill="#e4f83c"/>
<circle cx="361.5" cy="375.7" r="2.95" fill="#f4ae32"/>
<circle cx="584.3" cy="460.4" r="2.95" fill="#f4ae32"/>
<circle cx="324.0" cy="339.1" r="2.95" fill="#e4f83c"/>
<circle cx="580.4" cy="452.6" r="2.95" fill="#e4f83c"/>
<circle cx="573.1" cy="443.3" r="2.95" fill="#e4f83c"/>
<circle cx="241.2" cy="256.5" r="2.95" fill="#e4f83c"/>
<circle cx="290.9" cy="379.8" r="2.95" fill="#e4f83c"/>
<circle cx="384.1" cy="191.7" r="2.95" fill="#f4ae32"/>
<circle cx="323.3" cy="332.3" r="2.95" fill="#e4f83c"/>
<circle cx="340.3" cy="354.3" r="2.95" fill="#f4ae32"/>
<circle cx="209.5" cy="343.9" r="2.95" fill="#e4f83c"/>
<circle cx="430.1" cy="253.0" r="2.95" fill="#f4ae32"/>
<circle cx="495.3" cy="403.4" r="2.95" fill="#e4f83c"/>
<circle cx="388.6" cy="221.7" r="2.95" fill="#e4f83c"/>
<circle cx="427.1" cy="204.4" r="2.95" fill="#f0641e"/>
<circle cx="437.3" cy="120.7" r="2.95" fill="#e4f83c"/>
<circle cx="315.3" cy="194.6" r="2.95" fill="#e4f83c"/>
<circle cx="579.0" cy="423.8" r="2.95" fill="#e4f83c"/>
<circle cx="384.9" cy="337.1" r="2.95" fill="#f4ae32"/>
<circle cx="218.1" cy="335.6" r="2.95" fill="#f4ae32"/>
<circle cx="399.6" cy="199.5" r="2.95" fill="#e4f83c"/>
<circle cx="220.4" cy="264.9" r="2.95" fill="#f4ae32"/>
<circle cx="393.4" cy="205.8" r="2.95" fill="#f4ae32"/>
<circle cx="506.7" cy="386.6" r="2.95" fill="#f0641e"/>
<circle cx="583.7" cy="409.3" r="2.95" fill="#e4f83c"/>
<circle cx="393.5" cy="153.7" r="2.95" fill="#f0641e"/>
<circle cx="443.7" cy="251.8" r="2.95" fill="#e4f83c"/>
<circle cx="420.1" cy="255.9" r="2.95" fill="#f4ae32"/>
<circle cx="399.6" cy="224.8" r="2.95" fill="#e4f83c"/>
<circle cx="496.8" cy="365.3" r="2.95" fill="#e4f83c"/>
<circle cx="447.3" cy="307.3" r="2.95" fill="#e4f83c"/>
<circle cx="438.2" cy="333.2" r="2.95" fill="#f4ae32"/>
<circle cx="327.0" cy="197.7" r="2.95" fill="#e4f83c"/>
<circle cx="421.0" cy="310.9" r="2.95" fill="#f4ae32"/>
<circle cx="299.0" cy="210.0" r="2.95" fill="#e4f83c"/>
<circle cx="294.8" cy="203.0" r="2.95" fill="#e4f83c"/>
<circle cx="381.4" cy="203.3" r="2.95" fill="#e4f83c"/>
<circle cx="486.8" cy="181.6" r="2.95" fill="#e4f83c"/>
<circle cx="472.4" cy="372.1" r="2.95" fill="#e4f83c"/>
<circle cx="543.6" cy="375.4" r="2.95" fill="#e4f83c"/>
<circle cx="455.0" cy="150.6" r="2.95" fill="#f4ae32"/>
<circle cx="478.5" cy="202.9" r="2.95" fill="#f4ae32"/>
<circle cx="526.2" cy="256.5" r="2.95" fill="#e41e1e"/>
<circle cx="572.6" cy="509.9" r="2.95" fill="#f4ae32"/>
<circle cx="428.6" cy="219.4" r="2.95" fill="#f4ae32"/>
<circle cx="376.7" cy="215.6" r="2.95" fill="#e4f83c"/>
<circle cx="557.5" cy="531.2" r="2.95" fill="#f4ae32"/>
<circle cx="318.1" cy="213.3" r="2.95" fill="#f4ae32"/>
<circle cx="380.2" cy="186.1" r="2.95" fill="#f4ae32"/>
<circle cx="434.8" cy="321.8" r="2.95" fill="#e4f83c"/>
<circle cx="202.7" cy="237.9" r="2.95" fill="#f0641e"/>
<circle cx="580.0" cy="476.3" r="2.95" fill="#f4ae32"/>
<circle cx="347.3" cy="126.5" r="2.95" fill="#f0641e"/>
<circle cx="301.6" cy="227.2" r="2.95" fill="#f4ae32"/>
<circle cx="510.3" cy="230.9" r="2.95" fill="#f4ae32"/>
<circle cx="457.4" cy="238.5" r="2.95" fill="#e4f83c"/>
<circle cx="215.7" cy="337.8" r="2.95" fill="#e4f83c"/>
<circle cx="510.0" cy="580.0" r="2.95" fill="#e4f83c"/>
<circle cx="393.9" cy="178.8" r="2.95" fill="#f4ae32"/>
<circle cx="492.1" cy="381.0" r="2.95" fill="#e4f83c"/>
<circle cx="531.5" cy="419.6" r="2.95" fill="#f4ae32"/>
<circle cx="307.8" cy="239.3" r="2.95" fill="#e4f83c"/>
<circle cx="236.0" cy="387.0" r="2.95" fill="#e4f83c"/>
<circle cx="428.5" cy="221.3" r="2.95" fill="#f4ae32"/>
<circle cx="577.0" cy="526.0" r="2.95" fill="#e4f83c"/>
<circle cx="322.5" cy="229.2" r="2.95" fill="#f4ae32"/>
<circle cx="196.0" cy="327.0" r="2.95" fill="#f4ae32"/>
<circle cx="454.2" cy="163.4" r="2.95" fill="#e4f83c"/>
<circle cx="368.6" cy="196.4" r="2.95" fill="#e4f83c"/>
<circle cx="414.9" cy="215.4" r="2.95" fill="#f4ae32"/>
<circle cx="402.8" cy="338.3" r="2.95" fill="#e4f83c"/>
<circle cx="508.4" cy="403.5" r="2.95" fill="#f4ae32"/>
<circle cx="490.4" cy="182.2" r="2.95" fill="#f4ae32"/>
<circle cx="467.5" cy="239.3" r="2.95" fill="#e4f83c"/>
<circle cx="436.0" cy="248.6" r="2.95" fill="#e4f83c"/>
<circle cx="428.3" cy="153.5" r="2.95" fill="#f4ae32"/>
<circle cx="247.3" cy="251.9" r="2.95" fill="#e4f83c"/>
<circle cx="310.2" cy="447.6" r="2.95" fill="#f4ae32"/>
<circle cx="431.6" cy="116.1" r="2.95" fill="#f4ae32"/>
<circle cx="250.9" cy="340.5" r="2.95" fill="#f4ae32"/>
<circle cx="371.2" cy="228.5" r="2.95" fill="#f4ae32"/>
<circle cx="302.9" cy="232.5" r="2.95" fill="#e4f83c"/>
<circle cx="452.0" cy="308.0" r="2.95" fill="#f0641e"/>
<circle cx="581.4" cy="446.2" r="2.95" fill="#e4f83c"/>
<circle cx="320.5" cy="311.2" r="2.95" fill="#e4f83c"/>
<circle cx="190.0" cy="333.6" r="2.95" fill="#f4ae32"/>
<circle cx="513.7" cy="454.1" r="2.95" fill="#e4f83c"/>
<circle cx="403.7" cy="210.6" r="2.95" fill="#e4f83c"/>
<circle cx="243.2" cy="286.7" r="2.95" fill="#e4f83c"/>
<circle cx="263.0" cy="281.2" r="2.95" fill="#f4ae32"/>
<circle cx="494.4" cy="382.7" r="2.95" fill="#e4f83c"/>
<circle cx="490.8" cy="183.7" r="2.95" fill="#e4f83c"/>
<circle cx="433.0" cy="232.2" r="2.95" fill="#f4ae32"/>
<circle cx="353.1" cy="363.8" r="2.95" fill="#f0641e"/>
<circle cx="360.3" cy="209.9" r="2.95" fill="#e4f83c"/>
<circle cx="404.8" cy="339.9" r="2.95" fill="#e4f83c"/>
<circle cx="423.0" cy="200.4" r="2.95" fill="#e4f83c"/>
<circle cx="572.5" cy="288.3" r="2.95" fill="#f4ae32"/>
<circle cx="200.0" cy="251.0" r="2.95" fill="#f0641e"/>
<circle cx="246.9" cy="265.3" r="2.95" fill="#e4f83c"/>
<circle cx="401.3" cy="344.1" r="2.95" fill="#e4f83c"/>
<circle cx="371.7" cy="315.9" r="2.95" fill="#f4ae32"/>
<circle cx="325.2" cy="193.5" r="2.95" fill="#e4f83c"/>
<circle cx="343.7" cy="327.3" r="2.95" fill="#e4f83c"/>
<circle cx="531.6" cy="463.8" r="2.95" fill="#e4f83c"/>
<circle cx="472.0" cy="175.2" r="2.95" fill="#e4f83c"/>
<circle cx="321.6" cy="171.9" r="2.95" fill="#e4f83c"/>
<circle cx="423.6" cy="216.2" r="2.95" fill="#e4f83c"/>
<circle cx="344.8" cy="206.1" r="2.95" fill="#f4ae32"/>
<circle cx="317.8" cy="199.0" r="2.95" fill="#e4f83c"/>
<circle cx="434.4" cy="192.3" r="2.95" fill="#f0641e"/>
<circle cx="302.3" cy="314.2" r="2.95" fill="#e4f83c"/>
<circle cx="449.5" cy="429.0" r="2.95" fill="#e4f83c"/>
<circle cx="425.2" cy="338.1" r="2.95" fill="#e4f83c"/>
<circle cx="471.0" cy="325.7" r="2.95" fill="#e4f83c"/>
<circle cx="342.2" cy="339.0" r="2.95" fill="#f0641e"/>
<circle cx="305.5" cy="212.8" r="2.95" fill="#e4f83c"/>
<circle cx="288.8" cy="232.8" r="2.95" fill="#e4f83c"/>
<circle cx="296.3" cy="267.3" r="2.95" fill="#e4f83c"/>
<circle cx="563.8" cy="511.0" r="2.95" fill="#f4ae32"/>
<circle cx="351.4" cy="227.3" r="2.95" fill="#e4f83c"/>
<circle cx="418.9" cy="244.5" r="2.95" fill="#e4f83c"/>
<circle cx="478.4" cy="243.9" r="2.95" fill="#f4ae32"/>
<circle cx="303.5" cy="353.1" r="2.95" fill="#e4f83c"/>
<circle cx="440.4" cy="371.1" r="2.95" fill="#e4f83c"/>
<circle cx="328.6" cy="332.1" r="2.95" fill="#e4f83c"/>
<circle cx="402.8" cy="330.0" r="2.95" fill="#e4f83c"/>
<circle cx="472.7" cy="404.6" r="2.95" fill="#f4ae32"/>
<circle cx="444.9" cy="256.7" r="2.95" fill="#f4ae32"/>
<circle cx="447.3" cy="253.2" r="2.95" fill="#f4ae32"/>
<circle cx="536.1" cy="475.8" r="2.95" fill="#f4ae32"/>
<circle cx="329.2" cy="336.4" r="2.95" fill="#f4ae32"/>
<circle cx="436.1" cy="196.0" r="2.95" fill="#e4f83c"/>
<circle cx="197.7" cy="240.6" r="2.95" fill="#f4ae32"/>
<circle cx="562.8" cy="472.2" r="2.95" fill="#f4ae32"/>
<circle cx="479.6" cy="426.2" r="2.95" fill="#f0641e"/>
<circle cx="383.4" cy="425.0" r="2.95" fill="#f4ae32"/>
<circle cx="309.3" cy="387.7" r="2.95" fill="#e4f83c"/>
<circle cx="289.1" cy="269.5" r="2.95" fill="#e4f83c"/>
<circle cx="315.8" cy="214.3" r="2.95" fill="#e4f83c"/>
<circle cx="339.7" cy="231.1" r="2.95" fill="#e4f83c"/>
<circle cx="511.8" cy="346.4" r="2.95" fill="#e4f83c"/>
<circle cx="373.8" cy="367.9" r="2.95" fill="#f4ae32"/>
<circle cx="190.3" cy="330.4" r="2.95" fill="#e4f83c"/>
<circle cx="350.8" cy="89.1" r="2.95" fill="#e4f83c"/>
<circle cx="262.8" cy="201.0" r="2.95" fill="#e4f83c"/>
<circle cx="417.7" cy="233.5" r="2.95" fill="#e41e1e"/>
<circle cx="407.8" cy="220.2" r="2.95" fill="#e4f83c"/>
<circle cx="524.6" cy="268.5" r="2.95" fill="#f4ae32"/>
<circle cx="533.7" cy="296.4" r="2.95" fill="#f0641e"/>
<circle cx="278.7" cy="254.2" r="2.95" fill="#f4ae32"/>
<circle cx="411.8" cy="206.9" r="2.95" fill="#f4ae32"/>
<circle cx="297.5" cy="418.5" r="2.95" fill="#f4ae32"/>
<circle cx="511.1" cy="449.6" r="2.95" fill="#e4f83c"/>
<circle cx="500.3" cy="302.0" r="2.95" fill="#e4f83c"/>
<circle cx="428.4" cy="212.0" r="2.95" fill="#e4f83c"/>
<circle cx="337.9" cy="209.5" r="2.95" fill="#e4f83c"/>
<circle cx="420.4" cy="371.1" r="2.95" fill="#e4f83c"/>
<circle cx="591.6" cy="309.7" r="2.95" fill="#f4ae32"/>
<circle cx="351.4" cy="358.6" r="2.95" fill="#f0641e"/>
<circle cx="471.9" cy="292.6" r="2.95" fill="#f4ae32"/>
<circle cx="362.7" cy="435.3" r="2.95" fill="#e4f83c"/>
<circle cx="385.6" cy="176.5" r="2.95" fill="#e4f83c"/>
<circle cx="332.5" cy="361.2" r="2.95" fill="#f4ae32"/>
<circle cx="293.4" cy="223.7" r="2.95" fill="#e4f83c"/>
<circle cx="420.1" cy="271.5" r="2.95" fill="#f4ae32"/>
<circle cx="396.7" cy="217.2" r="2.95" fill="#e4f83c"/>
<circle cx="497.9" cy="416.3" r="2.95" fill="#f4ae32"/>
<circle cx="589.7" cy="423.6" r="2.95" fill="#f4ae32"/>
<circle cx="465.3" cy="296.7" r="2.95" fill="#e4f83c"/>
<circle cx="563.8" cy="538.3" r="2.95" fill="#e4f83c"/>
<circle cx="526.4" cy="451.6" r="2.95" fill="#e4f83c"/>
<circle cx="422.8" cy="255.6" r="2.95" fill="#e4f83c"/>
<circle cx="534.8" cy="431.9" r="2.95" fill="#e4f83c"/>
<circle cx="376.6" cy="214.4" r="2.95" fill="#e4f83c"/>
<circle cx="433.8" cy="213.0" r="2.95" fill="#e4f83c"/>
<circle cx="354.1" cy="198.9" r="2.95" fill="#f4ae32"/>
<circle cx="390.1" cy="200.2" r="2.95" fill="#f4ae32"/>
<circle cx="397.5" cy="321.1" r="2.95" fill="#e4f83c"/>
<circle cx="375.9" cy="325.1" r="2.95" fill="#f4ae32"/>
<circle cx="585.6" cy="385.6" r="2.95" fill="#e4f83c"/>
<circle cx="442.4" cy="199.6" r="2.95" fill="#e4f83c"/>
<circle cx="514.9" cy="279.9" r="2.95" fill="#e4f83c"/>
<circle cx="405.3" cy="214.6" r="2.95" fill="#e4f83c"/>
<circle cx="392.9" cy="153.6" r="2.95" fill="#f4ae32"/>
<circle cx="439.5" cy="272.5" r="2.95" fill="#f4ae32"/>
<circle cx="436.1" cy="259.9" r="2.95" fill="#f0641e"/>
<circle cx="455.3" cy="213.6" r="2.95" fill="#f4ae32"/>
<circle cx="569.3" cy="451.1" r="2.95" fill="#f4ae32"/>
<circle cx="312.6" cy="205.0" r="2.95" fill="#e4f83c"/>
<circle cx="551.6" cy="330.4" r="2.95" fill="#e4f83c"/>
<circle cx="326.3" cy="361.6" r="2.95" fill="#f4ae32"/>
<circle cx="386.3" cy="106.0" r="2.95" fill="#e4f83c"/>
<circle cx="546.2" cy="520.4" r="2.95" fill="#e4f83c"/>
<circle cx="486.7" cy="424.7" r="2.95" fill="#f4ae32"/>
<circle cx="534.6" cy="380.0" r="2.95" fill="#e4f83c"/>
<circle cx="419.0" cy="328.0" r="2.95" fill="#e4f83c"/>
<circle cx="488.5" cy="212.9" r="2.95" fill="#e4f83c"/>
<circle cx="276.7" cy="212.9" r="2.95" fill="#e4f83c"/>
<circle cx="530.1" cy="234.1" r="2.95" fill="#e4f83c"/>
<circle cx="344.1" cy="194.4" r="2.95" fill="#e4f83c"/>
<circle cx="430.5" cy="367.1" r="2.95" fill="#e4f83c"/>
<circle cx="395.9" cy="90.9" r="2.95" fill="#e4f83c"/>
<circle cx="463.6" cy="179.2" r="2.95" fill="#e4f83c"/>
<circle cx="385.7" cy="296.0" r="2.95" fill="#e4f83c"/>
<circle cx="550.5" cy="441.7" r="2.95" fill="#f4ae32"/>
<circle cx="403.8" cy="249.6" r="2.95" fill="#e4f83c"/>
<circle cx="477.8" cy="400.4" r="2.95" fill="#e4f83c"/>
<circle cx="308.6" cy="360.4" r="2.95" fill="#e4f83c"/>
<circle cx="566.4" cy="446.2" r="2.95" fill="#f0641e"/>
<circle cx="483.5" cy="443.6" r="2.95" fill="#f4ae32"/>
<circle cx="460.0" cy="270.4" r="2.95" fill="#e4f83c"/>
<circle cx="375.4" cy="202.1" r="2.95" fill="#f4ae32"/>
<circle cx="334.9" cy="343.5" r="2.95" fill="#f4ae32"/>
<circle cx="459.9" cy="254.3" r="2.95" fill="#f4ae32"/>
<circle cx="311.8" cy="187.7" r="2.95" fill="#f4ae32"/>
<circle cx="520.1" cy="403.5" r="2.95" fill="#e4f83c"/>
<circle cx="297.3" cy="227.0" r="2.95" fill="#f4ae32"/>
<circle cx="405.8" cy="338.9" r="2.95" fill="#e4f83c"/>
<circle cx="253.1" cy="376.4" r="2.95" fill="#e41e1e"/>
<circle cx="273.2" cy="209.2" r="2.95" fill="#e4f83c"/>
<circle cx="549.5" cy="426.2" r="2.95" fill="#e4f83c"/>
<circle cx="344.3" cy="329.4" r="2.95" fill="#e4f83c"/>
<circle cx="432.6" cy="115.8" r="2.95" fill="#e4f83c"/>
<circle cx="366.4" cy="222.6" r="2.95" fill="#e4f83c"/>
<circle cx="407.1" cy="199.9" r="2.95" fill="#e4f83c"/>
<circle cx="201.4" cy="221.0" r="2.95" fill="#e41e1e"/>
<circle cx="412.1" cy="201.6" r="2.95" fill="#e4f83c"/>
<circle cx="298.0" cy="397.7" r="2.95" fill="#e4f83c"/>
<circle cx="574.3" cy="534.3" r="2.95" fill="#e4f83c"/>
<circle cx="414.5" cy="350.0" r="2.95" fill="#e4f83c"/>
<circle cx="597.7" cy="398.8" r="2.95" fill="#e4f83c"/>
<circle cx="316.6" cy="366.3" r="2.95" fill="#f4ae32"/>
<circle cx="452.5" cy="261.1" r="2.95" fill="#e4f83c"/>
<circle cx="525.1" cy="414.7" r="2.95" fill="#f4ae32"/>
<circle cx="365.9" cy="201.1" r="2.95" fill="#e4f83c"/>
<circle cx="170.3" cy="205.8" r="2.95" fill="#e4f83c"/>
<circle cx="575.5" cy="402.9" r="2.95" fill="#e4f83c"/>
<circle cx="375.6" cy="324.4" r="2.95" fill="#e41e1e"/>
<circle cx="508.2" cy="417.1" r="2.95" fill="#e4f83c"/>
<circle cx="568.5" cy="504.0" r="2.95" fill="#f4ae32"/>
<circle cx="332.0" cy="345.6" r="2.95" fill="#e4f83c"/>
<circle cx="375.4" cy="325.4" r="2.95" fill="#f4ae32"/>
<circle cx="581.9" cy="410.8" r="2.95" fill="#e4f83c"/>
<circle cx="566.7" cy="309.4" r="2.95" fill="#f4ae32"/>
<circle cx="486.0" cy="460.0" r="2.95" fill="#e4f83c"/>
<circle cx="351.7" cy="352.1" r="2.95" fill="#e4f83c"/>
<circle cx="339.0" cy="332.7" r="2.95" fill="#e4f83c"/>
<circle cx="381.8" cy="339.4" r="2.95" fill="#f4ae32"/>
<circle cx="366.4" cy="184.8" r="2.95" fill="#e4f83c"/>
<circle cx="559.2" cy="338.9" r="2.95" fill="#e4f83c"/>
<circle cx="363.4" cy="217.8" r="2.95" fill="#f0641e"/>
<circle cx="472.8" cy="183.9" r="2.95" fill="#e4f83c"/>
<circle cx="398.3" cy="221.5" r="2.95" fill="#f4ae32"/>
<circle cx="407.0" cy="210.2" r="2.95" fill="#e4f83c"/>
<circle cx="499.5" cy="426.3" r="2.95" fill="#e4f83c"/>
<circle cx="410.4" cy="221.5" r="2.95" fill="#f4ae32"/>
<circle cx="530.2" cy="452.8" r="2.95" fill="#e4f83c"/>
<circle cx="539.7" cy="433.5" r="2.95" fill="#e4f83c"/>
<circle cx="368.3" cy="134.9" r="2.95" fill="#e4f83c"/>
<circle cx="338.7" cy="333.2" r="2.95" fill="#f4ae32"/>
<circle cx="465.9" cy="178.7" r="2.95" fill="#f4ae32"/>
<circle cx="300.4" cy="74.7" r="2.95" fill="#e4f83c"/>
<circle cx="443.5" cy="236.9" r="2.95" fill="#e4f83c"/>
<circle cx="546.9" cy="293.1" r="2.95" fill="#e4f83c"/>
<circle cx="552.3" cy="295.9" r="2.95" fill="#f4ae32"/>
</g>
<path d="M36,651.5 H254 V703.5 H645 V730 H36 Z" fill="#fff" opacity="0.84"/>
</g>
<rect x="35" y="34" width="620" height="696" fill="none" stroke="#000" stroke-width="2.6"/>
<rect x="41" y="34.5" width="34" height="40.3" fill="#f0f0f0"/>
<text x="56.2" y="64.4" font-size="32" text-anchor="middle">a</text>
<line x1="148.1" y1="27.5" x2="148.1" y2="34" stroke="#000" stroke-width="2"/>
<line x1="364.3" y1="27.5" x2="364.3" y2="34" stroke="#000" stroke-width="2"/>
<line x1="580.5" y1="27.5" x2="580.5" y2="34" stroke="#000" stroke-width="2"/>
<line x1="28" y1="76.8" x2="35" y2="76.8" stroke="#000" stroke-width="2"/>
<line x1="28" y1="292.8" x2="35" y2="292.8" stroke="#000" stroke-width="2"/>
<line x1="28" y1="509.6" x2="35" y2="509.6" stroke="#000" stroke-width="2"/>
<line x1="28" y1="726.4" x2="35" y2="726.4" stroke="#000" stroke-width="2"/>
<text x="93.3" y="24.9" font-size="33.3">102°40'E</text>
<text x="312.9" y="24.9" font-size="33.3">102°50'E</text>
<text x="549.7" y="24.9" font-size="33.3">103°E</text>
<text x="26.5" y="102.3" font-size="33.2" transform="rotate(-90 26.5 102.3)">36°N</text>
<text x="26.5" y="348" font-size="33.2" transform="rotate(-90 26.5 348)">35°50'N</text>
<text x="26.5" y="565" font-size="33.2" transform="rotate(-90 26.5 565)">35°40'N</text>
<text x="26.5" y="738.5" font-size="33.2" transform="rotate(-90 26.5 738.5)">35°30'N</text>
<rect x="593.5" y="60.5" width="34" height="63" fill="#fff" stroke="#000" stroke-width="1.6"/>
<text x="610.8" y="74.6" font-size="12.8" text-anchor="middle">N</text>
<polygon points="610.5,83 626,122.3 610.5,114.8 595,122.3" fill="#000"/>
<line x1="595.5" y1="122" x2="625.5" y2="122" stroke="#000" stroke-width="1.2"/>
<rect x="485.5" y="688.6" width="138.5" height="6.8" fill="#fff" stroke="#111" stroke-width="1.1"/>
<text x="533.4" y="681.5" font-size="28">10km</text>
<text x="44.5" y="677.8" font-size="27.5">Landslides area/m</text>
<text x="246.3" y="665" font-size="15.5">2</text>
<circle cx="52.1" cy="714.6" r="4.4" fill="#e8f03a" stroke="#111" stroke-width="1.4"/>
<line x1="65.4" y1="724.8" x2="79.80000000000001" y2="724.8" stroke="#111" stroke-width="1.3"/>
<text x="64.1" y="721" font-size="27">&lt;</text>
<text x="88.0" y="723.5" font-size="27">1000</text>
<circle cx="191.6" cy="715.6" r="4.4" fill="#eea632" stroke="#111" stroke-width="1.4"/>
<line x1="212" y1="724.8" x2="226.4" y2="724.8" stroke="#111" stroke-width="1.3"/>
<text x="210.7" y="721" font-size="27">&lt;</text>
<text x="234.1" y="723.5" font-size="27">5000</text>
<circle cx="336" cy="715.6" r="4.4" fill="#ee6426" stroke="#111" stroke-width="1.4"/>
<line x1="358" y1="724.8" x2="372.4" y2="724.8" stroke="#111" stroke-width="1.3"/>
<text x="356.7" y="721" font-size="27">&lt;</text>
<text x="380.6" y="723.5" font-size="27">10000</text>
<circle cx="503.6" cy="714.6" r="4.4" fill="#e6281e" stroke="#111" stroke-width="1.4"/>
<line x1="521" y1="724.8" x2="535.4" y2="724.8" stroke="#111" stroke-width="1.3"/>
<text x="519.6" y="721" font-size="27">&gt;</text>
<text x="543.9" y="723.5" font-size="27">10000</text>
<defs><linearGradient id="cb" x1="0" x2="1" y1="0" y2="0"><stop offset="0" stop-color="#4a6486"/><stop offset="0.22" stop-color="#5ea69a"/><stop offset="0.42" stop-color="#76bc94"/><stop offset="0.6" stop-color="#8cd98a"/><stop offset="0.8" stop-color="#c2eaa6"/><stop offset="1" stop-color="#f2fcc6"/></linearGradient></defs>
<rect x="174.5" y="760.5" width="331.5" height="23.5" fill="url(#cb)"/>
<text x="240.8" y="755" font-size="24.9">Distance to rivers/m</text>
<text x="154.8" y="778.2" font-size="28">0</text>
<text x="515.8" y="778.2" font-size="28">3853</text>
<g stroke="#000" stroke-width="2" stroke-dasharray="15.9 8.9" fill="none">
<line x1="665.5" y1="11" x2="1447.3" y2="11" stroke-dashoffset="9.7"/>
<line x1="665.5" y1="11" x2="665.5" y2="766.2" stroke-dashoffset="3.5"/>
<line x1="665.5" y1="766.2" x2="1447.3" y2="766.2" stroke-dashoffset="12.7"/>
<line x1="1447.3" y1="11" x2="1447.3" y2="766.2" stroke-dashoffset="24.2"/>
</g>
<rect x="770" y="33" width="27.6" height="34" fill="#f0f0f0"/>
<text x="784.8" y="59.8" font-size="33" text-anchor="middle">b</text>
<path d="M768,30.5 H1266.5 V296.8 H768 V103.5 M768,93 V30.5" fill="none" stroke="#000" stroke-width="1.6"/>
<path d="M760,101.2 L776.6,90.7 M760.9,105.5 L777.1,95.1" stroke="#000" stroke-width="1.5"/>
<line x1="760.5" y1="264.2" x2="768" y2="264.2" stroke="#000" stroke-width="1.5"/>
<text x="736.7" y="274.4" font-size="27.3">0</text>
<line x1="760.5" y1="198.6" x2="768" y2="198.6" stroke="#000" stroke-width="1.5"/>
<text x="705.2" y="209.04" font-size="27.3">2000</text>
<line x1="760.5" y1="133.1" x2="768" y2="133.1" stroke="#000" stroke-width="1.5"/>
<text x="705.2" y="143.48" font-size="27.3">4000</text>
<line x1="764" y1="231.4" x2="768" y2="231.4" stroke="#000" stroke-width="1.5"/>
<line x1="764" y1="165.9" x2="768" y2="165.9" stroke="#000" stroke-width="1.5"/>
<line x1="764" y1="62.9" x2="768" y2="62.9" stroke="#000" stroke-width="1.5"/>
<line x1="762" y1="30.5" x2="768" y2="30.5" stroke="#000" stroke-width="1.5"/>
<text x="693.9" y="40.5" font-size="27.3">12000</text>
<line x1="809.7" y1="287.2" x2="809.7" y2="296.8" stroke="#000" stroke-width="1.5"/>
<line x1="892.8" y1="287.2" x2="892.8" y2="296.8" stroke="#000" stroke-width="1.5"/>
<line x1="975.6" y1="287.2" x2="975.6" y2="296.8" stroke="#000" stroke-width="1.5"/>
<line x1="1058.8" y1="287.2" x2="1058.8" y2="296.8" stroke="#000" stroke-width="1.5"/>
<line x1="1141.7" y1="287.2" x2="1141.7" y2="296.8" stroke="#000" stroke-width="1.5"/>
<line x1="1224.4" y1="287.2" x2="1224.4" y2="296.8" stroke="#000" stroke-width="1.5"/>
<path d="M809.7,148.4 V210 M799.4000000000001,148.4 H820.0 M809.7,250 V255.8 M799.4000000000001,255.8 H820.0" stroke="#000" stroke-width="1.6" fill="none"/>
<polygon points="809.7,210 830.0,236.2 809.7,250 789.4000000000001,236.2" fill="#e6e1f0" stroke="#000" stroke-width="1.6"/>
<line x1="789.4000000000001" y1="236.2" x2="830.0" y2="236.2" stroke="#000" stroke-width="1.5"/>
<circle cx="809.7" cy="210" r="4.6" fill="#ee6470"/>
<path d="M892.8,181.8 V218 M882.5,181.8 H903.0999999999999 M892.8,251.7 V256.7 M882.5,256.7 H903.0999999999999" stroke="#000" stroke-width="1.6" fill="none"/>
<polygon points="892.8,218 912.8,240.7 892.8,251.7 872.8,240.7" fill="#e6e1f0" stroke="#000" stroke-width="1.6"/>
<line x1="872.8" y1="240.7" x2="912.8" y2="240.7" stroke="#000" stroke-width="1.5"/>
<circle cx="892.8" cy="208.2" r="4.6" fill="#ee6470"/>
<path d="M975.6,155 V209.5 M965.3000000000001,155 H985.9 M975.6,249.4 V254.9 M965.3000000000001,254.9 H985.9" stroke="#000" stroke-width="1.6" fill="none"/>
<polygon points="975.6,209.5 995.6,236.8 975.6,249.4 955.6,236.8" fill="#e6e1f0" stroke="#000" stroke-width="1.6"/>
<line x1="955.6" y1="236.8" x2="995.6" y2="236.8" stroke="#000" stroke-width="1.5"/>
<circle cx="975.6" cy="214.3" r="4.6" fill="#ee6470"/>
<path d="M1058.8,171.5 V213.9 M1048.5,171.5 H1069.1 M1058.8,250 V254.9 M1048.5,254.9 H1069.1" stroke="#000" stroke-width="1.6" fill="none"/>
<polygon points="1058.8,213.9 1078.6,239 1058.8,250 1039.0,239" fill="#e6e1f0" stroke="#000" stroke-width="1.6"/>
<line x1="1039.0" y1="239" x2="1078.6" y2="239" stroke="#000" stroke-width="1.5"/>
<circle cx="1058.8" cy="221.4" r="4.6" fill="#ee6470"/>
<path d="M1141.7,132.4 V194.4 M1131.4,132.4 H1152.0 M1141.7,251.4 V256.3 M1131.4,256.3 H1152.0" stroke="#000" stroke-width="1.6" fill="none"/>
<polygon points="1141.7,194.4 1161.5,238 1141.7,251.4 1121.9,238" fill="#e6e1f0" stroke="#000" stroke-width="1.6"/>
<line x1="1121.9" y1="238" x2="1161.5" y2="238" stroke="#000" stroke-width="1.5"/>
<circle cx="1141.7" cy="192.8" r="4.6" fill="#ee6470"/>
<path d="M1224.4,82.3 V119.5 M1214.1000000000001,82.3 H1234.7 M1224.4,245.3 V250.8 M1214.1000000000001,250.8 H1234.7" stroke="#000" stroke-width="1.6" fill="none"/>
<polygon points="1224.4,119.5 1244.6000000000001,231.6 1224.4,245.3 1204.2,231.6" fill="#e6e1f0" stroke="#000" stroke-width="1.6"/>
<line x1="1204.2" y1="231.6" x2="1244.6000000000001" y2="231.6" stroke="#000" stroke-width="1.5"/>
<circle cx="1224.4" cy="165.3" r="4.6" fill="#ee6470"/>
<path d="M816.3,40 V58.5 M813,40 H819.6 M813,58.5 H819.6" stroke="#000" stroke-width="1.6"/>
<text x="825.7" y="57.6" font-size="22">10%~90%</text>
<circle cx="940" cy="48.8" r="5" fill="#ee6470"/>
<text x="955.2" y="52.6" font-size="22.2">average</text>
<polygon points="910,67.2 923.4,81.9 910,96.6 896.6,81.9" fill="#e6e1f0" stroke="#000" stroke-width="1.6"/>
<text x="937.8" y="88" font-size="22.2">25%~75%</text>
<text x="692.5" y="162.5" font-size="27.3" text-anchor="middle" transform="rotate(-90 692.5 162.5)">Landslides scale/m<tspan dy="-12" font-size="17">2</tspan></text>
<rect x="777.2" y="331" width="67.2" height="368.0" fill="#b7cbb8" stroke="#c3c9c3" stroke-width="0.8"/>
<rect x="860.3" y="472" width="66.9" height="227.0" fill="#b7cbb8" stroke="#c3c9c3" stroke-width="0.8"/>
<rect x="943.7" y="582.3" width="66.9" height="116.7" fill="#b7cbb8" stroke="#c3c9c3" stroke-width="0.8"/>
<rect x="1026.7" y="668.3" width="66.7" height="30.7" fill="#b7cbb8" stroke="#c3c9c3" stroke-width="0.8"/>
<rect x="1109.6" y="672" width="66.8" height="27.0" fill="#b7cbb8" stroke="#c3c9c3" stroke-width="0.8"/>
<rect x="1192.4" y="690" width="67.3" height="9.0" fill="#b7cbb8" stroke="#c3c9c3" stroke-width="0.8"/>
<rect x="775.8" y="299.5" width="29" height="24" fill="#f0f0f0"/>
<text x="791" y="321.2" font-size="33" text-anchor="middle" font-weight="bold">c</text>
<polyline points="810.9,371 893.9,432.8 976.7,566.3 1059.9,611.6 1142.7,625.5 1226,638.3" fill="none" stroke="#e9985c" stroke-width="2.6"/>
<rect x="806.6" y="366.7" width="8.6" height="8.6" fill="#e9985c"/>
<rect x="889.6" y="428.5" width="8.6" height="8.6" fill="#e9985c"/>
<rect x="972.4" y="562.0" width="8.6" height="8.6" fill="#e9985c"/>
<rect x="1055.6" y="607.3" width="8.6" height="8.6" fill="#e9985c"/>
<rect x="1138.4" y="621.2" width="8.6" height="8.6" fill="#e9985c"/>
<rect x="1221.7" y="634.0" width="8.6" height="8.6" fill="#e9985c"/>
<polyline points="810.9,547.5 894,579.3 976.7,581 1059.9,614.3 1142.7,479.6 1226,336.3" fill="none" stroke="#2f6fb0" stroke-width="2.6"/>
<rect x="806.6" y="543.2" width="8.6" height="8.6" fill="#2f6fb0"/>
<rect x="889.7" y="575.0" width="8.6" height="8.6" fill="#2f6fb0"/>
<rect x="972.4" y="576.7" width="8.6" height="8.6" fill="#2f6fb0"/>
<rect x="1055.6" y="610.0" width="8.6" height="8.6" fill="#2f6fb0"/>
<rect x="1138.4" y="475.3" width="8.6" height="8.6" fill="#2f6fb0"/>
<rect x="1221.7" y="332.0" width="8.6" height="8.6" fill="#2f6fb0"/>
<line x1="769.2" y1="297.2" x2="769.2" y2="699" stroke="#5b7b5c" stroke-width="2.6"/>
<line x1="768" y1="699" x2="1268" y2="699" stroke="#000" stroke-width="2.2"/>
<line x1="1267.6" y1="296.9" x2="1267.6" y2="700" stroke="#2f6fb0" stroke-width="2.6"/>
<line x1="1353.7" y1="296.9" x2="1353.7" y2="700" stroke="#e9985c" stroke-width="2.6"/>
<line x1="761" y1="297.2" x2="769" y2="297.2" stroke="#5b7b5c" stroke-width="2"/>
<text x="707.7" y="307.59999999999997" font-size="27.2" fill="#5f7f60">2.24</text>
<line x1="764.5" y1="347.4" x2="769" y2="347.4" stroke="#5b7b5c" stroke-width="2"/>
<line x1="761" y1="397.6" x2="769" y2="397.6" stroke="#5b7b5c" stroke-width="2"/>
<text x="707.6" y="408.04999999999995" font-size="27.2" fill="#5f7f60">1.68</text>
<line x1="764.5" y1="447.9" x2="769" y2="447.9" stroke="#5b7b5c" stroke-width="2"/>
<line x1="761" y1="498.1" x2="769" y2="498.1" stroke="#5b7b5c" stroke-width="2"/>
<text x="708.8" y="508.5" font-size="27.2" fill="#5f7f60">1.12</text>
<line x1="764.5" y1="548.3" x2="769" y2="548.3" stroke="#5b7b5c" stroke-width="2"/>
<line x1="761" y1="598.5" x2="769" y2="598.5" stroke="#5b7b5c" stroke-width="2"/>
<text x="711.3" y="608.9499999999999" font-size="27.2" fill="#5f7f60">0.56</text>
<line x1="764.5" y1="648.8" x2="769" y2="648.8" stroke="#5b7b5c" stroke-width="2"/>
<line x1="761" y1="699.0" x2="769" y2="699.0" stroke="#5b7b5c" stroke-width="2"/>
<text x="740.3" y="709.4" font-size="27.2" fill="#5f7f60">0</text>
<line x1="769.5" y1="699" x2="769.5" y2="704.5" stroke="#000" stroke-width="2"/>
<line x1="811.0" y1="699" x2="811.0" y2="708" stroke="#000" stroke-width="2"/>
<line x1="852.4" y1="699" x2="852.4" y2="704.5" stroke="#000" stroke-width="2"/>
<line x1="893.9" y1="699" x2="893.9" y2="708" stroke="#000" stroke-width="2"/>
<line x1="935.3" y1="699" x2="935.3" y2="704.5" stroke="#000" stroke-width="2"/>
<line x1="976.8" y1="699" x2="976.8" y2="708" stroke="#000" stroke-width="2"/>
<line x1="1018.2" y1="699" x2="1018.2" y2="704.5" stroke="#000" stroke-width="2"/>
<line x1="1059.7" y1="699" x2="1059.7" y2="708" stroke="#000" stroke-width="2"/>
<line x1="1101.1" y1="699" x2="1101.1" y2="704.5" stroke="#000" stroke-width="2"/>
<line x1="1142.5" y1="699" x2="1142.5" y2="708" stroke="#000" stroke-width="2"/>
<line x1="1184.0" y1="699" x2="1184.0" y2="704.5" stroke="#000" stroke-width="2"/>
<line x1="1225.5" y1="699" x2="1225.5" y2="708" stroke="#000" stroke-width="2"/>
<line x1="1266.9" y1="699" x2="1266.9" y2="704.5" stroke="#000" stroke-width="2"/>
<text x="752.9" y="728.2" font-size="27.8">400</text>
<text x="836.6" y="728.2" font-size="27.8">800</text>
<text x="912.4" y="728.2" font-size="27.8">1200</text>
<text x="995.6" y="728.2" font-size="27.8">1600</text>
<text x="1078.4" y="728.2" font-size="27.8">2000</text>
<text x="1153.6" y="728.2" font-size="27.8">&gt;2000</text>
<text x="903.2" y="756.7" font-size="27.5">Distance to rivers/m</text>
<line x1="1267.6" y1="297.2" x2="1272.5" y2="297.2" stroke="#2f6fb0" stroke-width="2"/>
<line x1="1267.6" y1="397.6" x2="1276.5" y2="397.6" stroke="#2f6fb0" stroke-width="2"/>
<line x1="1267.6" y1="498.1" x2="1272.5" y2="498.1" stroke="#2f6fb0" stroke-width="2"/>
<line x1="1267.6" y1="598.5" x2="1276.5" y2="598.5" stroke="#2f6fb0" stroke-width="2"/>
<line x1="1267.6" y1="699.0" x2="1272.5" y2="699.0" stroke="#2f6fb0" stroke-width="2"/>
<text x="1283.5" y="408.2" font-size="27" fill="#2f6fb0">0.4</text>
<text x="1283.5" y="608.8" font-size="27" fill="#2f6fb0">0.2</text>
<line x1="1353.7" y1="297.4" x2="1362.5" y2="297.4" stroke="#e9985c" stroke-width="2"/>
<text x="1362.4" y="307.4" font-size="27.2" fill="#e9985c">1500</text>
<line x1="1353.7" y1="354.8" x2="1358.8" y2="354.8" stroke="#e9985c" stroke-width="2"/>
<line x1="1353.7" y1="412.1" x2="1362.5" y2="412.1" stroke="#e9985c" stroke-width="2"/>
<text x="1362.4" y="422.1428571428571" font-size="27.2" fill="#e9985c">1000</text>
<line x1="1353.7" y1="469.5" x2="1358.8" y2="469.5" stroke="#e9985c" stroke-width="2"/>
<line x1="1353.7" y1="526.9" x2="1362.5" y2="526.9" stroke="#e9985c" stroke-width="2"/>
<text x="1363.2" y="536.8857142857142" font-size="27.2" fill="#e9985c">500</text>
<line x1="1353.7" y1="584.3" x2="1358.8" y2="584.3" stroke="#e9985c" stroke-width="2"/>
<line x1="1353.7" y1="641.6" x2="1362.5" y2="641.6" stroke="#e9985c" stroke-width="2"/>
<text x="1370.1" y="651.6285714285714" font-size="27.2" fill="#e9985c">0</text>
<line x1="1353.7" y1="699.0" x2="1358.8" y2="699.0" stroke="#e9985c" stroke-width="2"/>
<text x="704.8" y="524" font-size="27.6" text-anchor="middle" fill="#8db08e" font-weight="bold" transform="rotate(-90 704.8 524)">Landslides area/km<tspan dy="-12" font-size="17">2</tspan></text>
<text x="1322" y="475" font-size="27" text-anchor="middle" fill="#2f6fb0" transform="rotate(90 1322 475)">LAP/%</text>
<text x="1422" y="464" font-size="27.5" text-anchor="middle" fill="#e9985c" font-weight="bold" transform="rotate(90 1422 464)">Landslides number</text>
</svg></body></html>
